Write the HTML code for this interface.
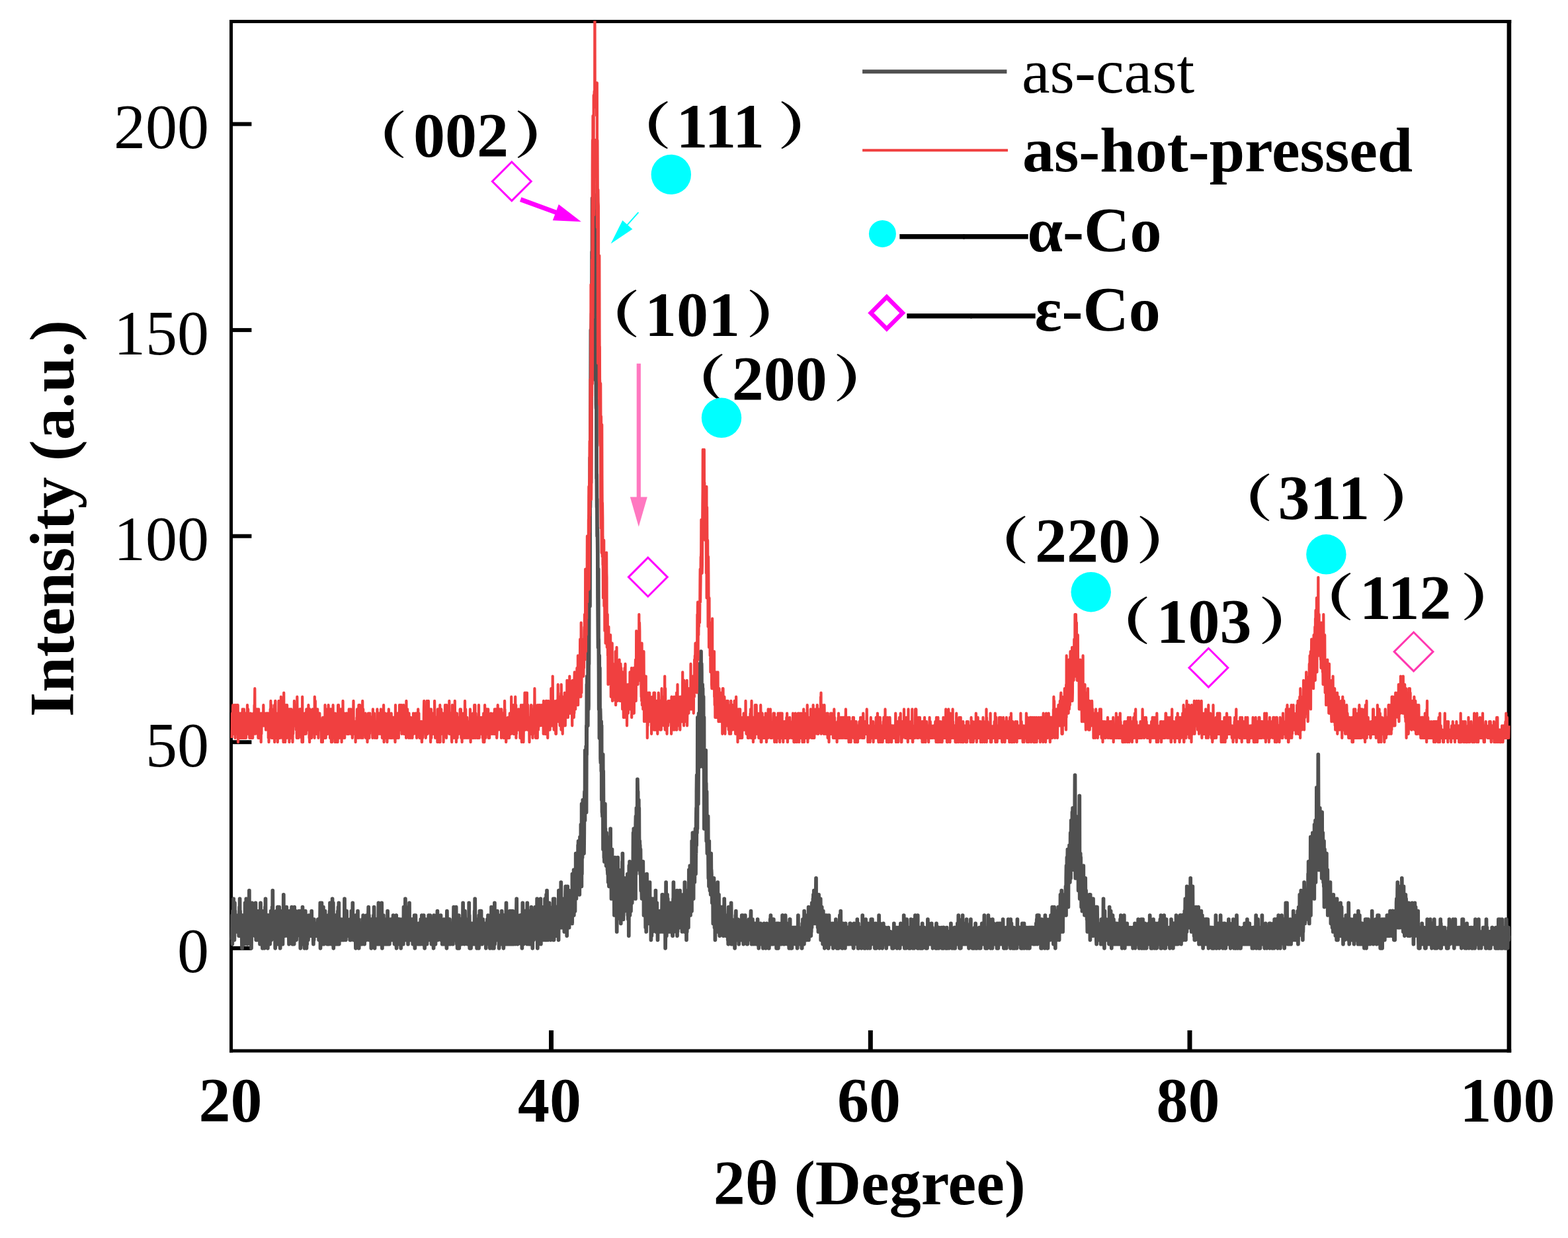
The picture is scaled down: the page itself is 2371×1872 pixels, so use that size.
<!DOCTYPE html>
<html lang="en"><head><meta charset="utf-8"><title>XRD patterns: as-cast and as-hot-pressed</title>
<style>html,body{margin:0;padding:0;background:#fff;overflow:hidden}svg{display:block;font-family:'Liberation Serif', 'Noto Serif CJK SC', serif;font-size:96px;fill:#000}</style></head><body>
<svg xmlns="http://www.w3.org/2000/svg" width="2371" height="1872" viewBox="0 0 2371 1872">
<rect x="0" y="0" width="2371" height="1872" fill="#fff"/>
<g id="axes" fill="#000">
<rect x="347.0" y="30.0" width="5.0" height="1561.5"/>
<rect x="2278.6" y="30.0" width="6.6" height="1561.5"/>
<rect x="347.0" y="30.0" width="1938.2" height="5.0"/>
<rect x="347.0" y="1586.5" width="1938.2" height="5.0"/>
<rect x="351.5" y="1430.8" width="28.9" height="6.0"/>
<rect x="351.5" y="1119.2" width="28.9" height="6.0"/>
<rect x="351.5" y="807.7" width="28.9" height="6.0"/>
<rect x="351.5" y="496.1" width="28.9" height="6.0"/>
<rect x="351.5" y="184.6" width="28.9" height="6.0"/>
<rect x="830.0" y="1558.0" width="7.0" height="29.0"/>
<rect x="1312.8" y="1558.0" width="7.0" height="29.0"/>
<rect x="1795.5" y="1558.0" width="7.0" height="29.0"/>
</g>
<g id="yticks" text-anchor="end">
<text x="316.0" y="1470.4">0</text>
<text x="316.0" y="1158.8">50</text>
<text x="316.0" y="847.3">100</text>
<text x="316.0" y="535.8">150</text>
<text x="316.0" y="224.2">200</text>
</g>
<g id="xticks" text-anchor="middle" font-weight="bold">
<text x="348.4" y="1696.4">20</text>
<text x="831.1" y="1696.4">40</text>
<text x="1313.9" y="1696.4">60</text>
<text x="1796.6" y="1696.4">80</text>
<text x="2279.4" y="1696.4">100</text>
</g>
<text x="1314.7" y="1821.0" text-anchor="middle" font-weight="bold">2θ (Degree)</text>
<text transform="translate(111.3 784.0) rotate(-90)" text-anchor="middle" font-weight="bold">Intensity (a.u.)</text>
<clipPath id="clip"><rect x="347.0" y="31.5" width="1938.2" height="1560.0"/></clipPath>
<g id="data" clip-path="url(#clip)" fill="none" stroke-linejoin="round" stroke-linecap="butt">
<polyline stroke="#505050" stroke-width="5.7" points="350.6,1421.3 350.8,1415.1 351,1384 351.3,1427.6 351.5,1396.4 351.8,1415.1 352,1377.7 352.2,1415.1 352.5,1396.4 352.7,1402.6 353,1408.9 353.2,1359 353.4,1408.9 353.7,1390.2 353.9,1377.7 354.2,1390.2 354.4,1421.3 354.7,1371.5 354.9,1365.3 355.1,1396.4 355.4,1377.7 355.6,1402.6 355.9,1408.9 356.1,1402.6 356.3,1396.4 356.6,1396.4 356.8,1390.2 357.1,1396.4 357.3,1408.9 357.5,1396.4 357.8,1390.2 358,1390.2 358.3,1402.6 358.5,1408.9 358.8,1396.4 359,1390.2 359.2,1396.4 359.5,1390.2 359.7,1396.4 360,1384 360.2,1402.6 360.4,1408.9 360.7,1408.9 360.9,1402.6 361.2,1415.1 361.4,1408.9 361.7,1415.1 361.9,1390.2 362.1,1371.5 362.4,1415.1 362.6,1359 362.9,1408.9 363.1,1377.7 363.3,1390.2 363.6,1408.9 363.8,1396.4 364.1,1384 364.3,1396.4 364.5,1396.4 364.8,1415.1 365,1390.2 365.3,1402.6 365.5,1390.2 365.8,1421.3 366,1433.8 366.2,1427.6 366.5,1402.6 366.7,1384 367,1408.9 367.2,1402.6 367.4,1390.2 367.7,1402.6 367.9,1408.9 368.2,1415.1 368.4,1408.9 368.7,1415.1 368.9,1396.4 369.1,1390.2 369.4,1427.6 369.6,1408.9 369.9,1402.6 370.1,1390.2 370.3,1415.1 370.6,1365.3 370.8,1390.2 371.1,1377.7 371.3,1396.4 371.5,1415.1 371.8,1408.9 372,1390.2 372.3,1359 372.5,1408.9 372.8,1421.3 373,1390.2 373.2,1402.6 373.5,1396.4 373.7,1390.2 374,1427.6 374.2,1396.4 374.4,1415.1 374.7,1421.3 374.9,1415.1 375.2,1402.6 375.4,1415.1 375.7,1384 375.9,1390.2 376.1,1396.4 376.4,1390.2 376.6,1390.2 376.9,1346.6 377.1,1415.1 377.3,1408.9 377.6,1377.7 377.8,1384 378.1,1421.3 378.3,1377.7 378.5,1415.1 378.8,1427.6 379,1408.9 379.3,1402.6 379.5,1408.9 379.8,1384 380,1433.8 380.2,1402.6 380.5,1415.1 380.7,1377.7 381,1408.9 381.2,1365.3 381.4,1402.6 381.7,1408.9 381.9,1402.6 382.2,1390.2 382.4,1390.2 382.7,1396.4 382.9,1402.6 383.1,1396.4 383.4,1396.4 383.6,1390.2 383.9,1390.2 384.1,1390.2 384.3,1371.5 384.6,1408.9 384.8,1390.2 385.1,1408.9 385.3,1396.4 385.5,1415.1 385.8,1408.9 386,1415.1 386.3,1396.4 386.5,1365.3 386.8,1402.6 387,1390.2 387.2,1421.3 387.5,1377.7 387.7,1384 388,1384 388.2,1415.1 388.4,1421.3 388.7,1421.3 388.9,1408.9 389.2,1402.6 389.4,1377.7 389.7,1396.4 389.9,1396.4 390.1,1390.2 390.4,1415.1 390.6,1415.1 390.9,1402.6 391.1,1408.9 391.3,1408.9 391.6,1415.1 391.8,1408.9 392.1,1396.4 392.3,1390.2 392.5,1421.3 392.8,1377.7 393,1427.6 393.3,1377.7 393.5,1421.3 393.8,1396.4 394,1365.3 394.2,1384 394.5,1421.3 394.7,1402.6 395,1396.4 395.2,1427.6 395.4,1396.4 395.7,1396.4 395.9,1396.4 396.2,1390.2 396.4,1390.2 396.7,1377.7 396.9,1433.8 397.1,1402.6 397.4,1415.1 397.6,1390.2 397.9,1396.4 398.1,1427.6 398.3,1390.2 398.6,1402.6 398.8,1415.1 399.1,1377.7 399.3,1408.9 399.5,1402.6 399.8,1396.4 400,1433.8 400.3,1421.3 400.5,1402.6 400.8,1421.3 401,1371.5 401.2,1408.9 401.5,1359 401.7,1408.9 402,1415.1 402.2,1415.1 402.4,1408.9 402.7,1408.9 402.9,1390.2 403.2,1415.1 403.4,1408.9 403.7,1396.4 403.9,1415.1 404.1,1390.2 404.4,1384 404.6,1396.4 404.9,1433.8 405.1,1402.6 405.3,1384 405.6,1408.9 405.8,1396.4 406.1,1384 406.3,1396.4 406.5,1402.6 406.8,1415.1 407,1396.4 407.3,1396.4 407.5,1384 407.8,1408.9 408,1402.6 408.2,1427.6 408.5,1421.3 408.7,1384 409,1402.6 409.2,1396.4 409.4,1415.1 409.7,1377.7 409.9,1390.2 410.2,1390.2 410.4,1421.3 410.7,1396.4 410.9,1402.6 411.1,1408.9 411.4,1415.1 411.6,1371.5 411.9,1408.9 412.1,1408.9 412.3,1346.6 412.6,1402.6 412.8,1408.9 413.1,1377.7 413.3,1390.2 413.5,1402.6 413.8,1415.1 414,1384 414.3,1396.4 414.5,1402.6 414.8,1384 415,1390.2 415.2,1390.2 415.5,1384 415.7,1390.2 416,1415.1 416.2,1433.8 416.4,1415.1 416.7,1384 416.9,1415.1 417.2,1384 417.4,1415.1 417.7,1421.3 417.9,1427.6 418.1,1377.7 418.4,1396.4 418.6,1408.9 418.9,1396.4 419.1,1402.6 419.3,1396.4 419.6,1427.6 419.8,1371.5 420.1,1421.3 420.3,1402.6 420.5,1371.5 420.8,1402.6 421,1415.1 421.3,1377.7 421.5,1408.9 421.8,1415.1 422,1390.2 422.2,1371.5 422.5,1408.9 422.7,1390.2 423,1408.9 423.2,1427.6 423.4,1427.6 423.7,1433.8 423.9,1415.1 424.2,1377.7 424.4,1384 424.7,1390.2 424.9,1408.9 425.1,1390.2 425.4,1415.1 425.6,1402.6 425.9,1408.9 426.1,1408.9 426.3,1408.9 426.6,1384 426.8,1408.9 427.1,1390.2 427.3,1402.6 427.5,1427.6 427.8,1396.4 428,1415.1 428.3,1390.2 428.5,1396.4 428.8,1352.8 429,1390.2 429.2,1384 429.5,1384 429.7,1415.1 430,1415.1 430.2,1402.6 430.4,1415.1 430.7,1396.4 430.9,1415.1 431.2,1402.6 431.4,1396.4 431.7,1408.9 431.9,1390.2 432.1,1390.2 432.4,1377.7 432.6,1384 432.9,1408.9 433.1,1408.9 433.3,1371.5 433.6,1396.4 433.8,1408.9 434.1,1390.2 434.3,1390.2 434.5,1415.1 434.8,1390.2 435,1408.9 435.3,1402.6 435.5,1390.2 435.8,1408.9 436,1415.1 436.2,1396.4 436.5,1390.2 436.7,1408.9 437,1427.6 437.2,1390.2 437.4,1415.1 437.7,1377.7 437.9,1384 438.2,1408.9 438.4,1396.4 438.7,1421.3 438.9,1384 439.1,1408.9 439.4,1390.2 439.6,1415.1 439.9,1384 440.1,1390.2 440.3,1408.9 440.6,1396.4 440.8,1396.4 441.1,1371.5 441.3,1402.6 441.5,1402.6 441.8,1402.6 442,1402.6 442.3,1427.6 442.5,1421.3 442.8,1421.3 443,1396.4 443.2,1384 443.5,1384 443.7,1408.9 444,1402.6 444.2,1396.4 444.4,1408.9 444.7,1427.6 444.9,1402.6 445.2,1371.5 445.4,1408.9 445.7,1396.4 445.9,1390.2 446.1,1421.3 446.4,1421.3 446.6,1408.9 446.9,1408.9 447.1,1377.7 447.3,1421.3 447.6,1384 447.8,1396.4 448.1,1421.3 448.3,1408.9 448.5,1408.9 448.8,1415.1 449,1415.1 449.3,1402.6 449.5,1396.4 449.8,1408.9 450,1402.6 450.2,1396.4 450.5,1402.6 450.7,1402.6 451,1390.2 451.2,1402.6 451.4,1402.6 451.7,1408.9 451.9,1377.7 452.2,1384 452.4,1408.9 452.7,1402.6 452.9,1384 453.1,1415.1 453.4,1402.6 453.6,1377.7 453.9,1396.4 454.1,1390.2 454.3,1433.8 454.6,1402.6 454.8,1421.3 455.1,1390.2 455.3,1408.9 455.5,1402.6 455.8,1421.3 456,1408.9 456.3,1396.4 456.5,1427.6 456.8,1421.3 457,1384 457.2,1415.1 457.5,1371.5 457.7,1390.2 458,1427.6 458.2,1396.4 458.4,1396.4 458.7,1402.6 458.9,1415.1 459.2,1384 459.4,1396.4 459.7,1408.9 459.9,1421.3 460.1,1415.1 460.4,1433.8 460.6,1402.6 460.9,1402.6 461.1,1384 461.3,1396.4 461.6,1408.9 461.8,1377.7 462.1,1396.4 462.3,1427.6 462.5,1396.4 462.8,1427.6 463,1415.1 463.3,1402.6 463.5,1433.8 463.8,1402.6 464,1415.1 464.2,1427.6 464.5,1408.9 464.7,1402.6 465,1415.1 465.2,1402.6 465.4,1408.9 465.7,1402.6 465.9,1421.3 466.2,1415.1 466.4,1402.6 466.7,1408.9 466.9,1408.9 467.1,1384 467.4,1402.6 467.6,1415.1 467.9,1408.9 468.1,1396.4 468.3,1402.6 468.6,1384 468.8,1408.9 469.1,1415.1 469.3,1402.6 469.5,1408.9 469.8,1402.6 470,1415.1 470.3,1384 470.5,1402.6 470.8,1415.1 471,1415.1 471.2,1377.7 471.5,1408.9 471.7,1390.2 472,1402.6 472.2,1415.1 472.4,1415.1 472.7,1408.9 472.9,1396.4 473.2,1390.2 473.4,1396.4 473.7,1421.3 473.9,1427.6 474.1,1408.9 474.4,1408.9 474.6,1421.3 474.9,1390.2 475.1,1415.1 475.3,1415.1 475.6,1402.6 475.8,1415.1 476.1,1396.4 476.3,1408.9 476.5,1402.6 476.8,1415.1 477,1402.6 477.3,1402.6 477.5,1415.1 477.8,1396.4 478,1408.9 478.2,1402.6 478.5,1402.6 478.7,1415.1 479,1408.9 479.2,1415.1 479.4,1402.6 479.7,1396.4 479.9,1402.6 480.2,1402.6 480.4,1402.6 480.7,1402.6 480.9,1390.2 481.1,1408.9 481.4,1415.1 481.6,1390.2 481.9,1402.6 482.1,1421.3 482.3,1415.1 482.6,1390.2 482.8,1402.6 483.1,1396.4 483.3,1402.6 483.5,1421.3 483.8,1415.1 484,1390.2 484.3,1365.3 484.5,1433.8 484.8,1384 485,1408.9 485.2,1408.9 485.5,1415.1 485.7,1415.1 486,1402.6 486.2,1408.9 486.4,1365.3 486.7,1396.4 486.9,1421.3 487.2,1427.6 487.4,1402.6 487.7,1427.6 487.9,1384 488.1,1396.4 488.4,1384 488.6,1390.2 488.9,1371.5 489.1,1390.2 489.3,1402.6 489.6,1427.6 489.8,1408.9 490.1,1384 490.3,1402.6 490.5,1402.6 490.8,1421.3 491,1396.4 491.3,1415.1 491.5,1377.7 491.8,1415.1 492,1415.1 492.2,1421.3 492.5,1408.9 492.7,1402.6 493,1396.4 493.2,1396.4 493.4,1390.2 493.7,1390.2 493.9,1415.1 494.2,1421.3 494.4,1415.1 494.7,1427.6 494.9,1408.9 495.1,1396.4 495.4,1396.4 495.6,1415.1 495.9,1390.2 496.1,1408.9 496.3,1384 496.6,1415.1 496.8,1421.3 497.1,1396.4 497.3,1415.1 497.5,1427.6 497.8,1384 498,1384 498.3,1390.2 498.5,1377.7 498.8,1415.1 499,1365.3 499.2,1390.2 499.5,1408.9 499.7,1408.9 500,1408.9 500.2,1396.4 500.4,1390.2 500.7,1384 500.9,1427.6 501.2,1396.4 501.4,1427.6 501.7,1390.2 501.9,1396.4 502.1,1396.4 502.4,1377.7 502.6,1359 502.9,1408.9 503.1,1390.2 503.3,1402.6 503.6,1415.1 503.8,1365.3 504.1,1415.1 504.3,1433.8 504.5,1408.9 504.8,1415.1 505,1427.6 505.3,1415.1 505.5,1384 505.8,1415.1 506,1390.2 506.2,1415.1 506.5,1421.3 506.7,1408.9 507,1390.2 507.2,1427.6 507.4,1402.6 507.7,1384 507.9,1408.9 508.2,1421.3 508.4,1415.1 508.7,1427.6 508.9,1427.6 509.1,1427.6 509.4,1396.4 509.6,1390.2 509.9,1402.6 510.1,1408.9 510.3,1427.6 510.6,1402.6 510.8,1377.7 511.1,1415.1 511.3,1402.6 511.5,1371.5 511.8,1421.3 512,1415.1 512.3,1365.3 512.5,1427.6 512.8,1427.6 513,1396.4 513.2,1415.1 513.5,1390.2 513.7,1415.1 514,1402.6 514.2,1402.6 514.4,1415.1 514.7,1390.2 514.9,1415.1 515.2,1402.6 515.4,1415.1 515.7,1408.9 515.9,1390.2 516.1,1408.9 516.4,1396.4 516.6,1396.4 516.9,1421.3 517.1,1415.1 517.3,1421.3 517.6,1396.4 517.8,1415.1 518.1,1390.2 518.3,1421.3 518.5,1402.6 518.8,1402.6 519,1402.6 519.3,1396.4 519.5,1408.9 519.8,1402.6 520,1402.6 520.2,1402.6 520.5,1421.3 520.7,1408.9 521,1359 521.2,1408.9 521.4,1396.4 521.7,1408.9 521.9,1384 522.2,1384 522.4,1415.1 522.7,1421.3 522.9,1421.3 523.1,1390.2 523.4,1402.6 523.6,1396.4 523.9,1408.9 524.1,1377.7 524.3,1402.6 524.6,1415.1 524.8,1396.4 525.1,1402.6 525.3,1390.2 525.5,1415.1 525.8,1402.6 526,1415.1 526.3,1408.9 526.5,1415.1 526.8,1396.4 527,1415.1 527.2,1396.4 527.5,1402.6 527.7,1402.6 528,1415.1 528.2,1415.1 528.4,1408.9 528.7,1415.1 528.9,1402.6 529.2,1421.3 529.4,1390.2 529.7,1402.6 529.9,1396.4 530.1,1415.1 530.4,1408.9 530.6,1421.3 530.9,1396.4 531.1,1408.9 531.3,1377.7 531.6,1408.9 531.8,1396.4 532.1,1384 532.3,1408.9 532.5,1384 532.8,1402.6 533,1402.6 533.3,1365.3 533.5,1408.9 533.8,1415.1 534,1415.1 534.2,1396.4 534.5,1421.3 534.7,1408.9 535,1396.4 535.2,1415.1 535.4,1402.6 535.7,1408.9 535.9,1415.1 536.2,1421.3 536.4,1408.9 536.7,1421.3 536.9,1396.4 537.1,1396.4 537.4,1408.9 537.6,1408.9 537.9,1433.8 538.1,1384 538.3,1402.6 538.6,1402.6 538.8,1415.1 539.1,1427.6 539.3,1396.4 539.5,1408.9 539.8,1402.6 540,1421.3 540.3,1402.6 540.5,1421.3 540.8,1408.9 541,1377.7 541.2,1415.1 541.5,1415.1 541.7,1396.4 542,1415.1 542.2,1390.2 542.4,1427.6 542.7,1433.8 542.9,1396.4 543.2,1396.4 543.4,1421.3 543.7,1415.1 543.9,1427.6 544.1,1415.1 544.4,1421.3 544.6,1396.4 544.9,1415.1 545.1,1415.1 545.3,1408.9 545.6,1396.4 545.8,1415.1 546.1,1396.4 546.3,1427.6 546.5,1421.3 546.8,1427.6 547,1415.1 547.3,1408.9 547.5,1427.6 547.8,1415.1 548,1390.2 548.2,1415.1 548.5,1415.1 548.7,1408.9 549,1402.6 549.2,1384 549.4,1390.2 549.7,1408.9 549.9,1408.9 550.2,1408.9 550.4,1390.2 550.6,1421.3 550.9,1408.9 551.1,1427.6 551.4,1408.9 551.6,1408.9 551.9,1402.6 552.1,1396.4 552.3,1408.9 552.6,1408.9 552.8,1402.6 553.1,1402.6 553.3,1408.9 553.5,1408.9 553.8,1390.2 554,1421.3 554.3,1384 554.5,1390.2 554.8,1390.2 555,1402.6 555.2,1415.1 555.5,1402.6 555.7,1408.9 556,1415.1 556.2,1390.2 556.4,1408.9 556.7,1396.4 556.9,1384 557.2,1371.5 557.4,1390.2 557.6,1396.4 557.9,1384 558.1,1421.3 558.4,1402.6 558.6,1415.1 558.9,1408.9 559.1,1396.4 559.3,1402.6 559.6,1396.4 559.8,1415.1 560.1,1402.6 560.3,1396.4 560.5,1390.2 560.8,1402.6 561,1408.9 561.3,1433.8 561.5,1402.6 561.8,1390.2 562,1427.6 562.2,1408.9 562.5,1415.1 562.7,1427.6 563,1402.6 563.2,1408.9 563.4,1408.9 563.7,1402.6 563.9,1408.9 564.2,1396.4 564.4,1402.6 564.6,1415.1 564.9,1384 565.1,1427.6 565.4,1421.3 565.6,1371.5 565.9,1408.9 566.1,1396.4 566.3,1396.4 566.6,1433.8 566.8,1402.6 567.1,1415.1 567.3,1415.1 567.5,1415.1 567.8,1408.9 568,1415.1 568.3,1396.4 568.5,1415.1 568.8,1390.2 569,1402.6 569.2,1396.4 569.5,1427.6 569.7,1421.3 570,1408.9 570.2,1396.4 570.4,1402.6 570.7,1421.3 570.9,1427.6 571.2,1402.6 571.4,1390.2 571.6,1408.9 571.9,1421.3 572.1,1415.1 572.4,1365.3 572.6,1408.9 572.9,1402.6 573.1,1427.6 573.3,1408.9 573.6,1396.4 573.8,1421.3 574.1,1421.3 574.3,1415.1 574.5,1402.6 574.8,1408.9 575,1415.1 575.3,1371.5 575.5,1421.3 575.8,1427.6 576,1415.1 576.2,1415.1 576.5,1408.9 576.7,1402.6 577,1390.2 577.2,1365.3 577.4,1396.4 577.7,1396.4 577.9,1433.8 578.2,1384 578.4,1396.4 578.6,1421.3 578.9,1402.6 579.1,1408.9 579.4,1427.6 579.6,1390.2 579.9,1384 580.1,1396.4 580.3,1408.9 580.6,1415.1 580.8,1390.2 581.1,1402.6 581.3,1427.6 581.5,1415.1 581.8,1408.9 582,1396.4 582.3,1390.2 582.5,1421.3 582.8,1402.6 583,1408.9 583.2,1421.3 583.5,1427.6 583.7,1421.3 584,1396.4 584.2,1408.9 584.4,1415.1 584.7,1408.9 584.9,1427.6 585.2,1415.1 585.4,1396.4 585.6,1427.6 585.9,1427.6 586.1,1377.7 586.4,1402.6 586.6,1421.3 586.9,1396.4 587.1,1402.6 587.3,1427.6 587.6,1427.6 587.8,1427.6 588.1,1396.4 588.3,1390.2 588.5,1427.6 588.8,1427.6 589,1421.3 589.3,1408.9 589.5,1396.4 589.8,1415.1 590,1396.4 590.2,1402.6 590.5,1402.6 590.7,1408.9 591,1390.2 591.2,1390.2 591.4,1421.3 591.7,1415.1 591.9,1396.4 592.2,1390.2 592.4,1421.3 592.6,1402.6 592.9,1390.2 593.1,1402.6 593.4,1421.3 593.6,1415.1 593.9,1396.4 594.1,1421.3 594.3,1415.1 594.6,1384 594.8,1408.9 595.1,1415.1 595.3,1408.9 595.5,1402.6 595.8,1421.3 596,1421.3 596.3,1402.6 596.5,1427.6 596.8,1396.4 597,1427.6 597.2,1408.9 597.5,1402.6 597.7,1427.6 598,1396.4 598.2,1427.6 598.4,1421.3 598.7,1421.3 598.9,1408.9 599.2,1384 599.4,1427.6 599.6,1433.8 599.9,1415.1 600.1,1408.9 600.4,1421.3 600.6,1396.4 600.9,1396.4 601.1,1408.9 601.3,1408.9 601.6,1402.6 601.8,1427.6 602.1,1390.2 602.3,1408.9 602.5,1396.4 602.8,1390.2 603,1408.9 603.3,1390.2 603.5,1427.6 603.8,1415.1 604,1408.9 604.2,1421.3 604.5,1396.4 604.7,1390.2 605,1408.9 605.2,1408.9 605.4,1415.1 605.7,1408.9 605.9,1408.9 606.2,1433.8 606.4,1402.6 606.6,1402.6 606.9,1396.4 607.1,1408.9 607.4,1421.3 607.6,1390.2 607.9,1408.9 608.1,1408.9 608.3,1402.6 608.6,1415.1 608.8,1402.6 609.1,1415.1 609.3,1427.6 609.5,1408.9 609.8,1427.6 610,1408.9 610.3,1396.4 610.5,1371.5 610.8,1402.6 611,1402.6 611.2,1396.4 611.5,1408.9 611.7,1396.4 612,1408.9 612.2,1408.9 612.4,1402.6 612.7,1415.1 612.9,1359 613.2,1384 613.4,1421.3 613.6,1408.9 613.9,1390.2 614.1,1371.5 614.4,1402.6 614.6,1415.1 614.9,1408.9 615.1,1421.3 615.3,1415.1 615.6,1390.2 615.8,1402.6 616.1,1408.9 616.3,1396.4 616.5,1421.3 616.8,1415.1 617,1427.6 617.3,1396.4 617.5,1408.9 617.8,1402.6 618,1421.3 618.2,1390.2 618.5,1408.9 618.7,1396.4 619,1365.3 619.2,1408.9 619.4,1396.4 619.7,1415.1 619.9,1396.4 620.2,1415.1 620.4,1421.3 620.6,1421.3 620.9,1408.9 621.1,1421.3 621.4,1396.4 621.6,1396.4 621.9,1421.3 622.1,1421.3 622.3,1421.3 622.6,1390.2 622.8,1408.9 623.1,1408.9 623.3,1421.3 623.5,1408.9 623.8,1390.2 624,1415.1 624.3,1427.6 624.5,1408.9 624.8,1390.2 625,1415.1 625.2,1427.6 625.5,1402.6 625.7,1415.1 626,1415.1 626.2,1408.9 626.4,1415.1 626.7,1384 626.9,1415.1 627.2,1427.6 627.4,1433.8 627.6,1421.3 627.9,1427.6 628.1,1427.6 628.4,1384 628.6,1396.4 628.9,1415.1 629.1,1415.1 629.3,1408.9 629.6,1421.3 629.8,1396.4 630.1,1408.9 630.3,1415.1 630.5,1402.6 630.8,1408.9 631,1396.4 631.3,1421.3 631.5,1415.1 631.8,1427.6 632,1402.6 632.2,1415.1 632.5,1421.3 632.7,1427.6 633,1415.1 633.2,1427.6 633.4,1396.4 633.7,1408.9 633.9,1396.4 634.2,1408.9 634.4,1421.3 634.6,1415.1 634.9,1408.9 635.1,1402.6 635.4,1415.1 635.6,1396.4 635.9,1427.6 636.1,1427.6 636.3,1390.2 636.6,1415.1 636.8,1415.1 637.1,1408.9 637.3,1396.4 637.5,1415.1 637.8,1384 638,1390.2 638.3,1408.9 638.5,1421.3 638.8,1408.9 639,1421.3 639.2,1396.4 639.5,1427.6 639.7,1427.6 640,1402.6 640.2,1390.2 640.4,1402.6 640.7,1384 640.9,1415.1 641.2,1402.6 641.4,1408.9 641.6,1415.1 641.9,1415.1 642.1,1433.8 642.4,1396.4 642.6,1402.6 642.9,1415.1 643.1,1402.6 643.3,1402.6 643.6,1390.2 643.8,1396.4 644.1,1415.1 644.3,1415.1 644.5,1421.3 644.8,1421.3 645,1427.6 645.3,1421.3 645.5,1427.6 645.8,1415.1 646,1408.9 646.2,1415.1 646.5,1415.1 646.7,1415.1 647,1408.9 647.2,1390.2 647.4,1408.9 647.7,1408.9 647.9,1408.9 648.2,1384 648.4,1421.3 648.6,1408.9 648.9,1402.6 649.1,1408.9 649.4,1390.2 649.6,1408.9 649.9,1402.6 650.1,1415.1 650.3,1384 650.6,1408.9 650.8,1408.9 651.1,1408.9 651.3,1421.3 651.5,1390.2 651.8,1396.4 652,1415.1 652.3,1408.9 652.5,1427.6 652.8,1421.3 653,1421.3 653.2,1427.6 653.5,1408.9 653.7,1402.6 654,1408.9 654.2,1427.6 654.4,1408.9 654.7,1408.9 654.9,1415.1 655.2,1402.6 655.4,1427.6 655.6,1433.8 655.9,1396.4 656.1,1384 656.4,1421.3 656.6,1415.1 656.9,1415.1 657.1,1415.1 657.3,1421.3 657.6,1396.4 657.8,1415.1 658.1,1402.6 658.3,1427.6 658.5,1427.6 658.8,1408.9 659,1402.6 659.3,1396.4 659.5,1402.6 659.8,1402.6 660,1396.4 660.2,1421.3 660.5,1396.4 660.7,1415.1 661,1402.6 661.2,1390.2 661.4,1377.7 661.7,1402.6 661.9,1415.1 662.2,1415.1 662.4,1421.3 662.6,1408.9 662.9,1402.6 663.1,1402.6 663.4,1408.9 663.6,1408.9 663.9,1396.4 664.1,1402.6 664.3,1408.9 664.6,1415.1 664.8,1402.6 665.1,1408.9 665.3,1390.2 665.5,1415.1 665.8,1408.9 666,1408.9 666.3,1408.9 666.5,1384 666.8,1421.3 667,1421.3 667.2,1421.3 667.5,1402.6 667.7,1408.9 668,1408.9 668.2,1408.9 668.4,1396.4 668.7,1427.6 668.9,1402.6 669.2,1408.9 669.4,1415.1 669.6,1421.3 669.9,1408.9 670.1,1415.1 670.4,1427.6 670.6,1421.3 670.9,1427.6 671.1,1402.6 671.3,1390.2 671.6,1396.4 671.8,1427.6 672.1,1427.6 672.3,1421.3 672.5,1396.4 672.8,1421.3 673,1421.3 673.3,1415.1 673.5,1396.4 673.8,1396.4 674,1402.6 674.2,1390.2 674.5,1408.9 674.7,1390.2 675,1402.6 675.2,1415.1 675.4,1433.8 675.7,1390.2 675.9,1377.7 676.2,1402.6 676.4,1415.1 676.6,1427.6 676.9,1402.6 677.1,1415.1 677.4,1415.1 677.6,1415.1 677.9,1427.6 678.1,1421.3 678.3,1408.9 678.6,1415.1 678.8,1427.6 679.1,1390.2 679.3,1396.4 679.5,1427.6 679.8,1415.1 680,1390.2 680.3,1402.6 680.5,1402.6 680.8,1408.9 681,1427.6 681.2,1402.6 681.5,1427.6 681.7,1402.6 682,1402.6 682.2,1415.1 682.4,1421.3 682.7,1408.9 682.9,1402.6 683.2,1396.4 683.4,1421.3 683.6,1421.3 683.9,1408.9 684.1,1396.4 684.4,1408.9 684.6,1408.9 684.9,1427.6 685.1,1421.3 685.3,1408.9 685.6,1415.1 685.8,1396.4 686.1,1371.5 686.3,1396.4 686.5,1402.6 686.8,1408.9 687,1396.4 687.3,1415.1 687.5,1408.9 687.8,1421.3 688,1408.9 688.2,1408.9 688.5,1402.6 688.7,1402.6 689,1415.1 689.2,1415.1 689.4,1377.7 689.7,1371.5 689.9,1402.6 690.2,1421.3 690.4,1415.1 690.6,1402.6 690.9,1427.6 691.1,1390.2 691.4,1415.1 691.6,1433.8 691.9,1402.6 692.1,1396.4 692.3,1402.6 692.6,1433.8 692.8,1427.6 693.1,1408.9 693.3,1415.1 693.5,1415.1 693.8,1384 694,1421.3 694.3,1433.8 694.5,1396.4 694.8,1427.6 695,1402.6 695.2,1427.6 695.5,1421.3 695.7,1396.4 696,1390.2 696.2,1415.1 696.4,1408.9 696.7,1421.3 696.9,1390.2 697.2,1402.6 697.4,1396.4 697.6,1408.9 697.9,1408.9 698.1,1427.6 698.4,1415.1 698.6,1402.6 698.9,1390.2 699.1,1415.1 699.3,1402.6 699.6,1402.6 699.8,1402.6 700.1,1365.3 700.3,1408.9 700.5,1415.1 700.8,1415.1 701,1408.9 701.3,1415.1 701.5,1415.1 701.8,1402.6 702,1421.3 702.2,1427.6 702.5,1427.6 702.7,1402.6 703,1377.7 703.2,1390.2 703.4,1415.1 703.7,1408.9 703.9,1390.2 704.2,1421.3 704.4,1421.3 704.6,1402.6 704.9,1415.1 705.1,1390.2 705.4,1408.9 705.6,1402.6 705.9,1408.9 706.1,1408.9 706.3,1415.1 706.6,1427.6 706.8,1408.9 707.1,1415.1 707.3,1408.9 707.5,1390.2 707.8,1427.6 708,1408.9 708.3,1396.4 708.5,1415.1 708.8,1408.9 709,1421.3 709.2,1365.3 709.5,1421.3 709.7,1384 710,1408.9 710.2,1433.8 710.4,1427.6 710.7,1421.3 710.9,1415.1 711.2,1408.9 711.4,1402.6 711.6,1415.1 711.9,1415.1 712.1,1433.8 712.4,1402.6 712.6,1408.9 712.9,1408.9 713.1,1421.3 713.3,1415.1 713.6,1396.4 713.8,1427.6 714.1,1408.9 714.3,1408.9 714.5,1421.3 714.8,1402.6 715,1427.6 715.3,1415.1 715.5,1408.9 715.8,1408.9 716,1402.6 716.2,1408.9 716.5,1402.6 716.7,1415.1 717,1427.6 717.2,1427.6 717.4,1402.6 717.7,1377.7 717.9,1415.1 718.2,1359 718.4,1377.7 718.6,1421.3 718.9,1390.2 719.1,1396.4 719.4,1415.1 719.6,1402.6 719.9,1408.9 720.1,1421.3 720.3,1421.3 720.6,1415.1 720.8,1396.4 721.1,1433.8 721.3,1408.9 721.5,1421.3 721.8,1421.3 722,1427.6 722.3,1396.4 722.5,1390.2 722.8,1396.4 723,1415.1 723.2,1396.4 723.5,1396.4 723.7,1396.4 724,1433.8 724.2,1415.1 724.4,1384 724.7,1408.9 724.9,1390.2 725.2,1402.6 725.4,1377.7 725.6,1427.6 725.9,1427.6 726.1,1408.9 726.4,1421.3 726.6,1377.7 726.9,1421.3 727.1,1408.9 727.3,1408.9 727.6,1377.7 727.8,1408.9 728.1,1402.6 728.3,1408.9 728.5,1427.6 728.8,1421.3 729,1427.6 729.3,1421.3 729.5,1415.1 729.8,1390.2 730,1408.9 730.2,1390.2 730.5,1415.1 730.7,1396.4 731,1402.6 731.2,1408.9 731.4,1396.4 731.7,1421.3 731.9,1396.4 732.2,1408.9 732.4,1402.6 732.6,1415.1 732.9,1408.9 733.1,1396.4 733.4,1408.9 733.6,1408.9 733.9,1402.6 734.1,1408.9 734.3,1408.9 734.6,1421.3 734.8,1433.8 735.1,1415.1 735.3,1408.9 735.5,1421.3 735.8,1402.6 736,1421.3 736.3,1408.9 736.5,1427.6 736.8,1390.2 737,1408.9 737.2,1415.1 737.5,1402.6 737.7,1421.3 738,1384 738.2,1402.6 738.4,1415.1 738.7,1390.2 738.9,1396.4 739.2,1402.6 739.4,1402.6 739.6,1421.3 739.9,1408.9 740.1,1402.6 740.4,1396.4 740.6,1427.6 740.9,1433.8 741.1,1427.6 741.3,1415.1 741.6,1390.2 741.8,1390.2 742.1,1415.1 742.3,1390.2 742.5,1384 742.8,1408.9 743,1371.5 743.3,1427.6 743.5,1396.4 743.7,1408.9 744,1415.1 744.2,1421.3 744.5,1421.3 744.7,1433.8 745,1421.3 745.2,1415.1 745.4,1390.2 745.7,1396.4 745.9,1415.1 746.2,1402.6 746.4,1415.1 746.6,1402.6 746.9,1433.8 747.1,1402.6 747.4,1384 747.6,1415.1 747.9,1365.3 748.1,1427.6 748.3,1408.9 748.6,1396.4 748.8,1415.1 749.1,1396.4 749.3,1415.1 749.5,1402.6 749.8,1421.3 750,1396.4 750.3,1415.1 750.5,1390.2 750.7,1408.9 751,1421.3 751.2,1421.3 751.5,1402.6 751.7,1390.2 752,1377.7 752.2,1408.9 752.4,1408.9 752.7,1415.1 752.9,1421.3 753.2,1390.2 753.4,1408.9 753.6,1421.3 753.9,1396.4 754.1,1384 754.4,1415.1 754.6,1433.8 754.9,1402.6 755.1,1408.9 755.3,1402.6 755.6,1396.4 755.8,1421.3 756.1,1408.9 756.3,1408.9 756.5,1408.9 756.8,1396.4 757,1402.6 757.3,1408.9 757.5,1402.6 757.7,1427.6 758,1415.1 758.2,1384 758.5,1396.4 758.7,1377.7 759,1390.2 759.2,1402.6 759.4,1427.6 759.7,1384 759.9,1402.6 760.2,1415.1 760.4,1421.3 760.6,1384 760.9,1396.4 761.1,1390.2 761.4,1433.8 761.6,1396.4 761.9,1384 762.1,1421.3 762.3,1408.9 762.6,1415.1 762.8,1390.2 763.1,1396.4 763.3,1421.3 763.5,1390.2 763.8,1390.2 764,1421.3 764.3,1402.6 764.5,1402.6 764.7,1396.4 765,1427.6 765.2,1390.2 765.5,1365.3 765.7,1384 766,1427.6 766.2,1408.9 766.4,1421.3 766.7,1427.6 766.9,1408.9 767.2,1402.6 767.4,1421.3 767.6,1408.9 767.9,1415.1 768.1,1421.3 768.4,1408.9 768.6,1427.6 768.9,1402.6 769.1,1390.2 769.3,1427.6 769.6,1408.9 769.8,1402.6 770.1,1427.6 770.3,1408.9 770.5,1402.6 770.8,1402.6 771,1377.7 771.3,1415.1 771.5,1415.1 771.7,1402.6 772,1384 772.2,1384 772.5,1427.6 772.7,1390.2 773,1377.7 773.2,1415.1 773.4,1408.9 773.7,1415.1 773.9,1390.2 774.2,1427.6 774.4,1384 774.6,1390.2 774.9,1415.1 775.1,1421.3 775.4,1377.7 775.6,1402.6 775.9,1402.6 776.1,1384 776.3,1396.4 776.6,1415.1 776.8,1427.6 777.1,1402.6 777.3,1415.1 777.5,1415.1 777.8,1390.2 778,1421.3 778.3,1396.4 778.5,1415.1 778.7,1408.9 779,1415.1 779.2,1421.3 779.5,1427.6 779.7,1384 780,1415.1 780.2,1396.4 780.4,1408.9 780.7,1396.4 780.9,1377.7 781.2,1359 781.4,1402.6 781.6,1402.6 781.9,1415.1 782.1,1402.6 782.4,1390.2 782.6,1402.6 782.9,1427.6 783.1,1402.6 783.3,1396.4 783.6,1396.4 783.8,1408.9 784.1,1402.6 784.3,1402.6 784.5,1408.9 784.8,1408.9 785,1415.1 785.3,1421.3 785.5,1402.6 785.7,1402.6 786,1415.1 786.2,1384 786.5,1390.2 786.7,1396.4 787,1396.4 787.2,1384 787.4,1402.6 787.7,1408.9 787.9,1384 788.2,1427.6 788.4,1396.4 788.6,1421.3 788.9,1408.9 789.1,1408.9 789.4,1433.8 789.6,1396.4 789.9,1421.3 790.1,1408.9 790.3,1365.3 790.6,1384 790.8,1408.9 791.1,1377.7 791.3,1396.4 791.5,1390.2 791.8,1427.6 792,1396.4 792.3,1415.1 792.5,1390.2 792.7,1421.3 793,1377.7 793.2,1402.6 793.5,1390.2 793.7,1396.4 794,1377.7 794.2,1415.1 794.4,1402.6 794.7,1390.2 794.9,1408.9 795.2,1408.9 795.4,1415.1 795.6,1415.1 795.9,1396.4 796.1,1377.7 796.4,1402.6 796.6,1377.7 796.9,1390.2 797.1,1427.6 797.3,1365.3 797.6,1415.1 797.8,1396.4 798.1,1377.7 798.3,1377.7 798.5,1390.2 798.8,1396.4 799,1390.2 799.3,1396.4 799.5,1421.3 799.7,1427.6 800,1408.9 800.2,1408.9 800.5,1402.6 800.7,1415.1 801,1377.7 801.2,1408.9 801.4,1390.2 801.7,1427.6 801.9,1402.6 802.2,1396.4 802.4,1415.1 802.6,1408.9 802.9,1402.6 803.1,1390.2 803.4,1371.5 803.6,1396.4 803.9,1421.3 804.1,1377.7 804.3,1402.6 804.6,1396.4 804.8,1408.9 805.1,1377.7 805.3,1433.8 805.5,1415.1 805.8,1415.1 806,1384 806.3,1402.6 806.5,1396.4 806.7,1421.3 807,1421.3 807.2,1408.9 807.5,1408.9 807.7,1402.6 808,1408.9 808.2,1402.6 808.4,1402.6 808.7,1384 808.9,1396.4 809.2,1371.5 809.4,1371.5 809.6,1415.1 809.9,1390.2 810.1,1402.6 810.4,1384 810.6,1408.9 810.9,1377.7 811.1,1408.9 811.3,1408.9 811.6,1402.6 811.8,1402.6 812.1,1359 812.3,1408.9 812.5,1390.2 812.8,1433.8 813,1427.6 813.3,1427.6 813.5,1384 813.7,1384 814,1415.1 814.2,1396.4 814.5,1402.6 814.7,1402.6 815,1396.4 815.2,1408.9 815.4,1421.3 815.7,1396.4 815.9,1421.3 816.2,1390.2 816.4,1390.2 816.6,1408.9 816.9,1402.6 817.1,1384 817.4,1359 817.6,1415.1 817.9,1427.6 818.1,1377.7 818.3,1415.1 818.6,1402.6 818.8,1396.4 819.1,1408.9 819.3,1377.7 819.5,1371.5 819.8,1377.7 820,1371.5 820.3,1390.2 820.5,1390.2 820.7,1396.4 821,1396.4 821.2,1390.2 821.5,1415.1 821.7,1371.5 822,1371.5 822.2,1377.7 822.4,1421.3 822.7,1377.7 822.9,1408.9 823.2,1402.6 823.4,1408.9 823.6,1408.9 823.9,1402.6 824.1,1359 824.4,1390.2 824.6,1402.6 824.9,1421.3 825.1,1371.5 825.3,1377.7 825.6,1402.6 825.8,1402.6 826.1,1352.8 826.3,1421.3 826.5,1421.3 826.8,1408.9 827,1346.6 827.3,1377.7 827.5,1390.2 827.7,1396.4 828,1377.7 828.2,1415.1 828.5,1402.6 828.7,1421.3 829,1384 829.2,1371.5 829.4,1396.4 829.7,1415.1 829.9,1371.5 830.2,1390.2 830.4,1402.6 830.6,1365.3 830.9,1396.4 831.1,1415.1 831.4,1371.5 831.6,1377.7 831.9,1415.1 832.1,1390.2 832.3,1384 832.6,1421.3 832.8,1415.1 833.1,1390.2 833.3,1396.4 833.5,1408.9 833.8,1396.4 834,1396.4 834.3,1396.4 834.5,1377.7 834.7,1396.4 835,1377.7 835.2,1408.9 835.5,1390.2 835.7,1396.4 836,1402.6 836.2,1402.6 836.4,1408.9 836.7,1359 836.9,1421.3 837.2,1408.9 837.4,1377.7 837.6,1421.3 837.9,1396.4 838.1,1415.1 838.4,1377.7 838.6,1359 838.9,1408.9 839.1,1390.2 839.3,1384 839.6,1390.2 839.8,1377.7 840.1,1415.1 840.3,1402.6 840.5,1415.1 840.8,1415.1 841,1415.1 841.3,1384 841.5,1396.4 841.7,1371.5 842,1384 842.2,1384 842.5,1402.6 842.7,1384 843,1402.6 843.2,1396.4 843.4,1402.6 843.7,1390.2 843.9,1390.2 844.2,1390.2 844.4,1384 844.6,1421.3 844.9,1346.6 845.1,1396.4 845.4,1352.8 845.6,1390.2 845.9,1352.8 846.1,1396.4 846.3,1396.4 846.6,1371.5 846.8,1377.7 847.1,1396.4 847.3,1396.4 847.5,1384 847.8,1384 848,1390.2 848.3,1334.1 848.5,1365.3 848.7,1371.5 849,1402.6 849.2,1377.7 849.5,1377.7 849.7,1377.7 850,1371.5 850.2,1377.7 850.4,1365.3 850.7,1377.7 850.9,1402.6 851.2,1371.5 851.4,1390.2 851.6,1396.4 851.9,1377.7 852.1,1371.5 852.4,1384 852.6,1359 852.9,1359 853.1,1377.7 853.3,1408.9 853.6,1371.5 853.8,1371.5 854.1,1377.7 854.3,1402.6 854.5,1365.3 854.8,1384 855,1352.8 855.3,1340.3 855.5,1365.3 855.7,1408.9 856,1359 856.2,1359 856.5,1359 856.7,1377.7 857,1371.5 857.2,1415.1 857.4,1365.3 857.7,1377.7 857.9,1377.7 858.2,1340.3 858.4,1390.2 858.6,1377.7 858.9,1384 859.1,1359 859.4,1365.3 859.6,1377.7 859.9,1371.5 860.1,1352.8 860.3,1346.6 860.6,1402.6 860.8,1390.2 861.1,1352.8 861.3,1384 861.5,1377.7 861.8,1396.4 862,1396.4 862.3,1352.8 862.5,1359 862.7,1359 863,1371.5 863.2,1359 863.5,1390.2 863.7,1359 864,1377.7 864.2,1390.2 864.4,1352.8 864.7,1346.6 864.9,1371.5 865.2,1396.4 865.4,1321.6 865.6,1359 865.9,1346.6 866.1,1334.1 866.4,1352.8 866.6,1352.8 866.9,1377.7 867.1,1340.3 867.3,1384 867.6,1315.4 867.8,1384 868.1,1365.3 868.3,1352.8 868.5,1371.5 868.8,1321.6 869,1340.3 869.3,1352.8 869.5,1377.7 869.7,1334.1 870,1352.8 870.2,1352.8 870.5,1359 870.7,1290.5 871,1334.1 871.2,1346.6 871.4,1359 871.7,1346.6 871.9,1346.6 872.2,1309.2 872.4,1315.4 872.6,1302.9 872.9,1346.6 873.1,1327.9 873.4,1327.9 873.6,1315.4 873.9,1346.6 874.1,1278 874.3,1290.5 874.6,1271.8 874.8,1315.4 875.1,1327.9 875.3,1309.2 875.5,1327.9 875.8,1321.6 876,1271.8 876.3,1352.8 876.5,1290.5 876.7,1340.3 877,1265.6 877.2,1321.6 877.5,1315.4 877.7,1315.4 878,1321.6 878.2,1302.9 878.4,1246.9 878.7,1265.6 878.9,1271.8 879.2,1290.5 879.4,1340.3 879.6,1215.7 879.9,1321.6 880.1,1265.6 880.4,1296.7 880.6,1296.7 880.9,1265.6 881.1,1284.3 881.3,1209.5 881.6,1259.3 881.8,1228.2 882.1,1228.2 882.3,1234.4 882.5,1221.9 882.8,1234.4 883,1290.5 883.3,1259.3 883.5,1209.5 883.7,1209.5 884,1197 884.2,1209.5 884.5,1240.6 884.7,1134.7 885,1203.3 885.2,1140.9 885.4,1197 885.7,1165.9 885.9,1228.2 886.2,1128.5 886.4,1178.3 886.6,1228.2 886.9,1097.3 887.1,1140.9 887.4,1035 887.6,1066.2 887.9,1022.6 888.1,1022.6 888.3,1035 888.6,1035 888.8,1097.3 889.1,1028.8 889.3,935.3 889.5,1016.3 889.8,1072.4 890,1066.2 890.3,841.9 890.5,1003.9 890.7,929.1 891,854.3 891.2,779.5 891.5,829.4 891.7,748.4 892,916.6 892.2,692.3 892.4,767.1 892.7,742.2 892.9,642.5 893.2,580.2 893.4,499.1 893.6,729.7 893.9,648.7 894.1,499.1 894.4,486.7 894.6,474.2 894.9,480.5 895.1,380.8 895.3,542.8 895.6,299.8 895.8,324.7 896.1,355.8 896.3,299.8 896.5,318.5 896.8,306 897,306 897.3,293.5 897.5,281.1 897.7,349.6 898,293.5 898.2,387 898.5,318.5 898.7,368.3 899,343.4 899.2,343.4 899.4,399.5 899.7,405.7 899.9,573.9 900.2,393.2 900.4,411.9 900.6,468 900.9,530.3 901.1,536.5 901.4,611.3 901.6,617.5 901.9,605.1 902.1,723.5 902.3,717.2 902.6,767.1 902.8,754.6 903.1,810.7 903.3,798.2 903.5,804.5 903.8,835.6 904,904.2 904.3,947.8 904.5,978.9 904.7,860.5 905,966.5 905.2,966.5 905.5,1016.3 905.7,1072.4 906,1035 906.2,991.4 906.4,1116 906.7,1047.5 906.9,1010.1 907.2,1109.8 907.4,1072.4 907.6,1072.4 907.9,1084.9 908.1,1147.2 908.4,1153.4 908.6,1097.3 908.9,1147.2 909.1,1091.1 909.3,1165.9 909.6,1097.3 909.8,1209.5 910.1,1172.1 910.3,1184.6 910.5,1228.2 910.8,1228.2 911,1234.4 911.3,1184.6 911.5,1172.1 911.7,1140.9 912,1284.3 912.2,1165.9 912.5,1215.7 912.7,1278 913,1278 913.2,1265.6 913.4,1296.7 913.7,1271.8 913.9,1302.9 914.2,1278 914.4,1265.6 914.6,1271.8 914.9,1215.7 915.1,1284.3 915.4,1253.1 915.6,1290.5 915.9,1278 916.1,1284.3 916.3,1290.5 916.6,1309.2 916.8,1296.7 917.1,1259.3 917.3,1302.9 917.5,1302.9 917.8,1302.9 918,1271.8 918.3,1284.3 918.5,1315.4 918.7,1315.4 919,1321.6 919.2,1302.9 919.5,1309.2 919.7,1334.1 920,1290.5 920.2,1302.9 920.4,1315.4 920.7,1309.2 920.9,1340.3 921.2,1315.4 921.4,1327.9 921.6,1271.8 921.9,1296.7 922.1,1265.6 922.4,1327.9 922.6,1302.9 922.9,1327.9 923.1,1253.1 923.3,1302.9 923.6,1327.9 923.8,1334.1 924.1,1284.3 924.3,1315.4 924.5,1359 924.8,1352.8 925,1327.9 925.3,1309.2 925.5,1284.3 925.7,1334.1 926,1352.8 926.2,1321.6 926.5,1359 926.7,1352.8 927,1352.8 927.2,1334.1 927.4,1315.4 927.7,1359 927.9,1327.9 928.2,1321.6 928.4,1359 928.6,1340.3 928.9,1384 929.1,1321.6 929.4,1327.9 929.6,1371.5 929.9,1296.7 930.1,1359 930.3,1371.5 930.6,1321.6 930.8,1384 931.1,1371.5 931.3,1352.8 931.5,1340.3 931.8,1352.8 932,1309.2 932.3,1334.1 932.5,1377.7 932.7,1408.9 933,1346.6 933.2,1390.2 933.5,1321.6 933.7,1346.6 934,1327.9 934.2,1296.7 934.4,1352.8 934.7,1327.9 934.9,1315.4 935.2,1334.1 935.4,1371.5 935.6,1352.8 935.9,1371.5 936.1,1359 936.4,1334.1 936.6,1352.8 936.8,1321.6 937.1,1352.8 937.3,1346.6 937.6,1365.3 937.8,1346.6 938.1,1352.8 938.3,1340.3 938.5,1352.8 938.8,1396.4 939,1359 939.3,1334.1 939.5,1315.4 939.7,1340.3 940,1377.7 940.2,1334.1 940.5,1334.1 940.7,1377.7 941,1302.9 941.2,1327.9 941.4,1290.5 941.7,1359 941.9,1359 942.2,1340.3 942.4,1390.2 942.6,1390.2 942.9,1371.5 943.1,1340.3 943.4,1377.7 943.6,1359 943.8,1352.8 944.1,1365.3 944.3,1377.7 944.6,1327.9 944.8,1365.3 945.1,1346.6 945.3,1346.6 945.5,1340.3 945.8,1352.8 946,1352.8 946.3,1371.5 946.5,1352.8 946.7,1359 947,1334.1 947.2,1359 947.5,1327.9 947.7,1365.3 948,1346.6 948.2,1365.3 948.4,1352.8 948.7,1352.8 948.9,1321.6 949.2,1346.6 949.4,1384 949.6,1371.5 949.9,1390.2 950.1,1340.3 950.4,1377.7 950.6,1334.1 950.8,1415.1 951.1,1340.3 951.3,1309.2 951.6,1359 951.8,1365.3 952.1,1302.9 952.3,1365.3 952.5,1384 952.8,1327.9 953,1340.3 953.3,1340.3 953.5,1334.1 953.7,1359 954,1377.7 954.2,1352.8 954.5,1334.1 954.7,1340.3 955,1352.8 955.2,1334.1 955.4,1327.9 955.7,1365.3 955.9,1359 956.2,1346.6 956.4,1315.4 956.6,1315.4 956.9,1334.1 957.1,1346.6 957.4,1290.5 957.6,1259.3 957.8,1334.1 958.1,1321.6 958.3,1253.1 958.6,1271.8 958.8,1265.6 959.1,1327.9 959.3,1278 959.5,1302.9 959.8,1334.1 960,1284.3 960.3,1296.7 960.5,1302.9 960.7,1253.1 961,1359 961.2,1246.9 961.5,1234.4 961.7,1321.6 962,1296.7 962.2,1290.5 962.4,1221.9 962.7,1234.4 962.9,1315.4 963.2,1265.6 963.4,1278 963.6,1246.9 963.9,1178.3 964.1,1190.8 964.4,1209.5 964.6,1197 964.8,1253.1 965.1,1253.1 965.3,1228.2 965.6,1246.9 965.8,1209.5 966.1,1296.7 966.3,1221.9 966.5,1265.6 966.8,1290.5 967,1278 967.3,1271.8 967.5,1309.2 967.7,1278 968,1315.4 968.2,1321.6 968.5,1284.3 968.7,1302.9 969,1334.1 969.2,1346.6 969.4,1302.9 969.7,1327.9 969.9,1327.9 970.2,1346.6 970.4,1352.8 970.6,1359 970.9,1334.1 971.1,1352.8 971.4,1321.6 971.6,1309.2 971.8,1302.9 972.1,1346.6 972.3,1302.9 972.6,1346.6 972.8,1334.1 973.1,1359 973.3,1321.6 973.5,1384 973.8,1384 974,1346.6 974.3,1327.9 974.5,1377.7 974.7,1352.8 975,1377.7 975.2,1377.7 975.5,1340.3 975.7,1346.6 976,1377.7 976.2,1402.6 976.4,1365.3 976.7,1396.4 976.9,1352.8 977.2,1408.9 977.4,1396.4 977.6,1352.8 977.9,1384 978.1,1321.6 978.4,1396.4 978.6,1359 978.8,1371.5 979.1,1384 979.3,1346.6 979.6,1359 979.8,1396.4 980.1,1359 980.3,1352.8 980.5,1377.7 980.8,1390.2 981,1340.3 981.3,1365.3 981.5,1352.8 981.7,1390.2 982,1396.4 982.2,1384 982.5,1334.1 982.7,1371.5 983,1390.2 983.2,1377.7 983.4,1384 983.7,1371.5 983.9,1371.5 984.2,1377.7 984.4,1421.3 984.6,1371.5 984.9,1371.5 985.1,1377.7 985.4,1415.1 985.6,1359 985.8,1384 986.1,1390.2 986.3,1384 986.6,1408.9 986.8,1377.7 987.1,1365.3 987.3,1365.3 987.5,1371.5 987.8,1384 988,1377.7 988.3,1390.2 988.5,1359 988.7,1377.7 989,1384 989.2,1377.7 989.5,1359 989.7,1390.2 990,1377.7 990.2,1402.6 990.4,1384 990.7,1377.7 990.9,1365.3 991.2,1396.4 991.4,1346.6 991.6,1390.2 991.9,1408.9 992.1,1408.9 992.4,1402.6 992.6,1402.6 992.8,1377.7 993.1,1384 993.3,1365.3 993.6,1402.6 993.8,1390.2 994.1,1377.7 994.3,1377.7 994.5,1421.3 994.8,1390.2 995,1377.7 995.3,1390.2 995.5,1396.4 995.7,1408.9 996,1402.6 996.2,1402.6 996.5,1408.9 996.7,1390.2 997,1390.2 997.2,1408.9 997.4,1384 997.7,1396.4 997.9,1390.2 998.2,1377.7 998.4,1408.9 998.6,1390.2 998.9,1377.7 999.1,1396.4 999.4,1396.4 999.6,1402.6 999.8,1390.2 1000.1,1402.6 1000.3,1377.7 1000.6,1384 1000.8,1384 1001.1,1371.5 1001.3,1352.8 1001.5,1377.7 1001.8,1408.9 1002,1352.8 1002.3,1371.5 1002.5,1402.6 1002.7,1384 1003,1402.6 1003.2,1371.5 1003.5,1396.4 1003.7,1371.5 1004,1384 1004.2,1390.2 1004.4,1390.2 1004.7,1384 1004.9,1390.2 1005.2,1390.2 1005.4,1384 1005.6,1396.4 1005.9,1384 1006.1,1433.8 1006.4,1408.9 1006.6,1408.9 1006.8,1402.6 1007.1,1334.1 1007.3,1384 1007.6,1365.3 1007.8,1415.1 1008.1,1396.4 1008.3,1384 1008.5,1396.4 1008.8,1384 1009,1352.8 1009.3,1408.9 1009.5,1377.7 1009.7,1359 1010,1390.2 1010.2,1390.2 1010.5,1408.9 1010.7,1371.5 1011,1390.2 1011.2,1377.7 1011.4,1408.9 1011.7,1384 1011.9,1396.4 1012.2,1384 1012.4,1371.5 1012.6,1384 1012.9,1396.4 1013.1,1396.4 1013.4,1396.4 1013.6,1365.3 1013.8,1390.2 1014.1,1408.9 1014.3,1390.2 1014.6,1390.2 1014.8,1377.7 1015.1,1396.4 1015.3,1402.6 1015.5,1408.9 1015.8,1396.4 1016,1371.5 1016.3,1408.9 1016.5,1384 1016.7,1408.9 1017,1415.1 1017.2,1415.1 1017.5,1402.6 1017.7,1384 1018,1359 1018.2,1377.7 1018.4,1334.1 1018.7,1408.9 1018.9,1390.2 1019.2,1365.3 1019.4,1402.6 1019.6,1402.6 1019.9,1384 1020.1,1371.5 1020.4,1352.8 1020.6,1396.4 1020.8,1390.2 1021.1,1377.7 1021.3,1377.7 1021.6,1377.7 1021.8,1396.4 1022.1,1365.3 1022.3,1396.4 1022.5,1365.3 1022.8,1408.9 1023,1396.4 1023.3,1390.2 1023.5,1365.3 1023.7,1346.6 1024,1415.1 1024.2,1359 1024.5,1408.9 1024.7,1390.2 1025,1396.4 1025.2,1384 1025.4,1359 1025.7,1384 1025.9,1384 1026.2,1365.3 1026.4,1384 1026.6,1402.6 1026.9,1377.7 1027.1,1390.2 1027.4,1396.4 1027.6,1377.7 1027.8,1371.5 1028.1,1346.6 1028.3,1377.7 1028.6,1390.2 1028.8,1371.5 1029.1,1396.4 1029.3,1384 1029.5,1365.3 1029.8,1396.4 1030,1359 1030.3,1396.4 1030.5,1390.2 1030.7,1377.7 1031,1384 1031.2,1402.6 1031.5,1408.9 1031.7,1396.4 1032,1396.4 1032.2,1377.7 1032.4,1384 1032.7,1396.4 1032.9,1352.8 1033.2,1371.5 1033.4,1396.4 1033.6,1365.3 1033.9,1371.5 1034.1,1377.7 1034.4,1352.8 1034.6,1359 1034.8,1377.7 1035.1,1408.9 1035.3,1334.1 1035.6,1334.1 1035.8,1359 1036.1,1352.8 1036.3,1390.2 1036.5,1384 1036.8,1365.3 1037,1365.3 1037.3,1390.2 1037.5,1396.4 1037.7,1365.3 1038,1421.3 1038.2,1359 1038.5,1371.5 1038.7,1408.9 1039,1352.8 1039.2,1384 1039.4,1346.6 1039.7,1384 1039.9,1371.5 1040.2,1365.3 1040.4,1359 1040.6,1384 1040.9,1402.6 1041.1,1359 1041.4,1371.5 1041.6,1359 1041.8,1315.4 1042.1,1384 1042.3,1327.9 1042.6,1365.3 1042.8,1359 1043.1,1346.6 1043.3,1309.2 1043.5,1321.6 1043.8,1340.3 1044,1384 1044.3,1340.3 1044.5,1346.6 1044.7,1346.6 1045,1371.5 1045.2,1365.3 1045.5,1346.6 1045.7,1359 1046,1377.7 1046.2,1271.8 1046.4,1296.7 1046.7,1346.6 1046.9,1309.2 1047.2,1352.8 1047.4,1259.3 1047.6,1271.8 1047.9,1259.3 1048.1,1346.6 1048.4,1327.9 1048.6,1359 1048.8,1302.9 1049.1,1290.5 1049.3,1315.4 1049.6,1302.9 1049.8,1321.6 1050.1,1284.3 1050.3,1334.1 1050.5,1309.2 1050.8,1321.6 1051,1278 1051.3,1271.8 1051.5,1253.1 1051.7,1271.8 1052,1321.6 1052.2,1284.3 1052.5,1290.5 1052.7,1240.6 1053,1221.9 1053.2,1278 1053.4,1197 1053.7,1172.1 1053.9,1259.3 1054.2,1190.8 1054.4,1253.1 1054.6,1209.5 1054.9,1084.9 1055.1,1140.9 1055.4,1190.8 1055.6,1159.6 1055.8,1215.7 1056.1,1159.6 1056.3,1140.9 1056.6,1078.6 1056.8,1147.2 1057.1,1147.2 1057.3,1097.3 1057.5,1084.9 1057.8,1159.6 1058,1003.9 1058.3,1084.9 1058.5,1028.8 1058.7,1035 1059,1047.5 1059.2,1084.9 1059.5,1022.6 1059.7,1066.2 1060,985.2 1060.2,1053.7 1060.4,1041.2 1060.7,1003.9 1060.9,1016.3 1061.2,1122.2 1061.4,1053.7 1061.6,1153.4 1061.9,1047.5 1062.1,1035 1062.4,1053.7 1062.6,1041.2 1062.8,1066.2 1063.1,1159.6 1063.3,1116 1063.6,1053.7 1063.8,1109.8 1064.1,1159.6 1064.3,1109.8 1064.5,1084.9 1064.8,1253.1 1065,1203.3 1065.3,1165.9 1065.5,1172.1 1065.7,1197 1066,1197 1066.2,1184.6 1066.5,1253.1 1066.7,1197 1067,1197 1067.2,1134.7 1067.4,1221.9 1067.7,1184.6 1067.9,1221.9 1068.2,1271.8 1068.4,1221.9 1068.6,1197 1068.9,1253.1 1069.1,1271.8 1069.4,1290.5 1069.6,1278 1069.8,1284.3 1070.1,1265.6 1070.3,1290.5 1070.6,1234.4 1070.8,1278 1071.1,1309.2 1071.3,1327.9 1071.5,1302.9 1071.8,1315.4 1072,1340.3 1072.3,1271.8 1072.5,1340.3 1072.7,1309.2 1073,1340.3 1073.2,1327.9 1073.5,1346.6 1073.7,1296.7 1074,1309.2 1074.2,1346.6 1074.4,1315.4 1074.7,1352.8 1074.9,1334.1 1075.2,1290.5 1075.4,1321.6 1075.6,1315.4 1075.9,1321.6 1076.1,1352.8 1076.4,1340.3 1076.6,1334.1 1076.8,1365.3 1077.1,1359 1077.3,1365.3 1077.6,1359 1077.8,1334.1 1078.1,1359 1078.3,1396.4 1078.5,1346.6 1078.8,1371.5 1079,1340.3 1079.3,1371.5 1079.5,1327.9 1079.7,1346.6 1080,1352.8 1080.2,1371.5 1080.5,1402.6 1080.7,1371.5 1081,1384 1081.2,1371.5 1081.4,1421.3 1081.7,1390.2 1081.9,1377.7 1082.2,1377.7 1082.4,1365.3 1082.6,1365.3 1082.9,1340.3 1083.1,1371.5 1083.4,1384 1083.6,1359 1083.8,1408.9 1084.1,1402.6 1084.3,1384 1084.6,1396.4 1084.8,1390.2 1085.1,1408.9 1085.3,1334.1 1085.5,1402.6 1085.8,1384 1086,1377.7 1086.3,1402.6 1086.5,1377.7 1086.7,1371.5 1087,1352.8 1087.2,1396.4 1087.5,1371.5 1087.7,1377.7 1088,1408.9 1088.2,1415.1 1088.4,1396.4 1088.7,1396.4 1088.9,1384 1089.2,1390.2 1089.4,1396.4 1089.6,1408.9 1089.9,1377.7 1090.1,1371.5 1090.4,1396.4 1090.6,1402.6 1090.8,1408.9 1091.1,1396.4 1091.3,1384 1091.6,1396.4 1091.8,1371.5 1092.1,1390.2 1092.3,1408.9 1092.5,1384 1092.8,1396.4 1093,1396.4 1093.3,1384 1093.5,1377.7 1093.7,1415.1 1094,1371.5 1094.2,1415.1 1094.5,1377.7 1094.7,1396.4 1095,1408.9 1095.2,1359 1095.4,1371.5 1095.7,1384 1095.9,1384 1096.2,1402.6 1096.4,1408.9 1096.6,1390.2 1096.9,1396.4 1097.1,1402.6 1097.4,1384 1097.6,1384 1097.8,1384 1098.1,1415.1 1098.3,1402.6 1098.6,1408.9 1098.8,1408.9 1099.1,1402.6 1099.3,1402.6 1099.5,1415.1 1099.8,1408.9 1100,1415.1 1100.3,1390.2 1100.5,1396.4 1100.7,1421.3 1101,1396.4 1101.2,1427.6 1101.5,1402.6 1101.7,1371.5 1102,1408.9 1102.2,1396.4 1102.4,1415.1 1102.7,1396.4 1102.9,1396.4 1103.2,1396.4 1103.4,1390.2 1103.6,1390.2 1103.9,1390.2 1104.1,1384 1104.4,1396.4 1104.6,1408.9 1104.8,1402.6 1105.1,1402.6 1105.3,1415.1 1105.6,1365.3 1105.8,1396.4 1106.1,1427.6 1106.3,1415.1 1106.5,1390.2 1106.8,1408.9 1107,1421.3 1107.3,1402.6 1107.5,1402.6 1107.7,1396.4 1108,1402.6 1108.2,1408.9 1108.5,1408.9 1108.7,1427.6 1109,1402.6 1109.2,1415.1 1109.4,1402.6 1109.7,1415.1 1109.9,1421.3 1110.2,1396.4 1110.4,1396.4 1110.6,1396.4 1110.9,1408.9 1111.1,1433.8 1111.4,1396.4 1111.6,1390.2 1111.8,1402.6 1112.1,1408.9 1112.3,1384 1112.6,1384 1112.8,1377.7 1113.1,1408.9 1113.3,1415.1 1113.5,1408.9 1113.8,1402.6 1114,1415.1 1114.3,1421.3 1114.5,1390.2 1114.7,1408.9 1115,1415.1 1115.2,1402.6 1115.5,1390.2 1115.7,1415.1 1116,1402.6 1116.2,1408.9 1116.4,1402.6 1116.7,1402.6 1116.9,1396.4 1117.2,1427.6 1117.4,1408.9 1117.6,1408.9 1117.9,1421.3 1118.1,1421.3 1118.4,1396.4 1118.6,1402.6 1118.8,1396.4 1119.1,1408.9 1119.3,1415.1 1119.6,1396.4 1119.8,1402.6 1120.1,1415.1 1120.3,1402.6 1120.5,1396.4 1120.8,1421.3 1121,1390.2 1121.3,1402.6 1121.5,1408.9 1121.7,1384 1122,1396.4 1122.2,1390.2 1122.5,1408.9 1122.7,1402.6 1123,1384 1123.2,1421.3 1123.4,1408.9 1123.7,1396.4 1123.9,1415.1 1124.2,1427.6 1124.4,1421.3 1124.6,1408.9 1124.9,1402.6 1125.1,1408.9 1125.4,1415.1 1125.6,1396.4 1125.8,1408.9 1126.1,1408.9 1126.3,1402.6 1126.6,1384 1126.8,1384 1127.1,1408.9 1127.3,1402.6 1127.5,1408.9 1127.8,1408.9 1128,1408.9 1128.3,1421.3 1128.5,1421.3 1128.7,1402.6 1129,1415.1 1129.2,1421.3 1129.5,1421.3 1129.7,1427.6 1129.9,1402.6 1130.2,1427.6 1130.4,1415.1 1130.7,1421.3 1130.9,1402.6 1131.2,1415.1 1131.4,1408.9 1131.6,1396.4 1131.9,1415.1 1132.1,1415.1 1132.4,1415.1 1132.6,1390.2 1132.8,1408.9 1133.1,1402.6 1133.3,1408.9 1133.6,1415.1 1133.8,1402.6 1134.1,1402.6 1134.3,1402.6 1134.5,1408.9 1134.8,1421.3 1135,1390.2 1135.3,1384 1135.5,1377.7 1135.7,1408.9 1136,1408.9 1136.2,1415.1 1136.5,1427.6 1136.7,1427.6 1136.9,1408.9 1137.2,1427.6 1137.4,1421.3 1137.7,1402.6 1137.9,1390.2 1138.2,1408.9 1138.4,1402.6 1138.6,1396.4 1138.9,1415.1 1139.1,1408.9 1139.4,1408.9 1139.6,1402.6 1139.8,1421.3 1140.1,1427.6 1140.3,1415.1 1140.6,1415.1 1140.8,1421.3 1141.1,1421.3 1141.3,1402.6 1141.5,1415.1 1141.8,1396.4 1142,1402.6 1142.3,1402.6 1142.5,1402.6 1142.7,1415.1 1143,1415.1 1143.2,1408.9 1143.5,1408.9 1143.7,1427.6 1143.9,1415.1 1144.2,1421.3 1144.4,1408.9 1144.7,1421.3 1144.9,1415.1 1145.2,1402.6 1145.4,1421.3 1145.6,1390.2 1145.9,1408.9 1146.1,1408.9 1146.4,1402.6 1146.6,1421.3 1146.8,1415.1 1147.1,1427.6 1147.3,1433.8 1147.6,1402.6 1147.8,1427.6 1148.1,1421.3 1148.3,1402.6 1148.5,1408.9 1148.8,1415.1 1149,1402.6 1149.3,1427.6 1149.5,1421.3 1149.7,1415.1 1150,1396.4 1150.2,1415.1 1150.5,1402.6 1150.7,1421.3 1150.9,1408.9 1151.2,1421.3 1151.4,1408.9 1151.7,1408.9 1151.9,1427.6 1152.2,1421.3 1152.4,1408.9 1152.6,1415.1 1152.9,1421.3 1153.1,1421.3 1153.4,1415.1 1153.6,1415.1 1153.8,1433.8 1154.1,1427.6 1154.3,1421.3 1154.6,1402.6 1154.8,1408.9 1155.1,1402.6 1155.3,1396.4 1155.5,1421.3 1155.8,1415.1 1156,1421.3 1156.3,1408.9 1156.5,1408.9 1156.7,1415.1 1157,1415.1 1157.2,1408.9 1157.5,1408.9 1157.7,1415.1 1157.9,1433.8 1158.2,1427.6 1158.4,1427.6 1158.7,1415.1 1158.9,1408.9 1159.2,1408.9 1159.4,1396.4 1159.6,1402.6 1159.9,1415.1 1160.1,1402.6 1160.4,1421.3 1160.6,1421.3 1160.8,1408.9 1161.1,1421.3 1161.3,1415.1 1161.6,1415.1 1161.8,1415.1 1162.1,1421.3 1162.3,1433.8 1162.5,1402.6 1162.8,1433.8 1163,1427.6 1163.3,1402.6 1163.5,1408.9 1163.7,1415.1 1164,1408.9 1164.2,1415.1 1164.5,1415.1 1164.7,1390.2 1164.9,1427.6 1165.2,1390.2 1165.4,1384 1165.7,1402.6 1165.9,1421.3 1166.2,1415.1 1166.4,1396.4 1166.6,1415.1 1166.9,1402.6 1167.1,1421.3 1167.4,1415.1 1167.6,1427.6 1167.8,1415.1 1168.1,1421.3 1168.3,1421.3 1168.6,1402.6 1168.8,1390.2 1169.1,1415.1 1169.3,1427.6 1169.5,1415.1 1169.8,1390.2 1170,1408.9 1170.3,1415.1 1170.5,1421.3 1170.7,1415.1 1171,1396.4 1171.2,1402.6 1171.5,1415.1 1171.7,1415.1 1171.9,1421.3 1172.2,1402.6 1172.4,1415.1 1172.7,1421.3 1172.9,1421.3 1173.2,1408.9 1173.4,1415.1 1173.6,1421.3 1173.9,1427.6 1174.1,1433.8 1174.4,1396.4 1174.6,1421.3 1174.8,1433.8 1175.1,1408.9 1175.3,1415.1 1175.6,1396.4 1175.8,1421.3 1176.1,1408.9 1176.3,1415.1 1176.5,1433.8 1176.8,1433.8 1177,1421.3 1177.3,1396.4 1177.5,1396.4 1177.7,1427.6 1178,1402.6 1178.2,1421.3 1178.5,1415.1 1178.7,1408.9 1178.9,1415.1 1179.2,1415.1 1179.4,1415.1 1179.7,1415.1 1179.9,1415.1 1180.2,1427.6 1180.4,1415.1 1180.6,1415.1 1180.9,1396.4 1181.1,1427.6 1181.4,1396.4 1181.6,1402.6 1181.8,1408.9 1182.1,1408.9 1182.3,1415.1 1182.6,1402.6 1182.8,1421.3 1183.1,1384 1183.3,1421.3 1183.5,1384 1183.8,1408.9 1184,1408.9 1184.3,1421.3 1184.5,1408.9 1184.7,1421.3 1185,1408.9 1185.2,1427.6 1185.5,1408.9 1185.7,1415.1 1185.9,1421.3 1186.2,1415.1 1186.4,1427.6 1186.7,1408.9 1186.9,1408.9 1187.2,1408.9 1187.4,1408.9 1187.6,1384 1187.9,1396.4 1188.1,1408.9 1188.4,1408.9 1188.6,1415.1 1188.8,1402.6 1189.1,1408.9 1189.3,1421.3 1189.6,1408.9 1189.8,1396.4 1190.1,1402.6 1190.3,1427.6 1190.5,1427.6 1190.8,1427.6 1191,1421.3 1191.3,1402.6 1191.5,1402.6 1191.7,1415.1 1192,1415.1 1192.2,1415.1 1192.5,1415.1 1192.7,1415.1 1192.9,1402.6 1193.2,1433.8 1193.4,1427.6 1193.7,1415.1 1193.9,1421.3 1194.2,1390.2 1194.4,1415.1 1194.6,1390.2 1194.9,1421.3 1195.1,1408.9 1195.4,1408.9 1195.6,1415.1 1195.8,1433.8 1196.1,1427.6 1196.3,1427.6 1196.6,1415.1 1196.8,1421.3 1197.1,1427.6 1197.3,1415.1 1197.5,1433.8 1197.8,1415.1 1198,1421.3 1198.3,1415.1 1198.5,1415.1 1198.7,1402.6 1199,1402.6 1199.2,1408.9 1199.5,1427.6 1199.7,1415.1 1199.9,1408.9 1200.2,1402.6 1200.4,1402.6 1200.7,1415.1 1200.9,1408.9 1201.2,1421.3 1201.4,1402.6 1201.6,1421.3 1201.9,1408.9 1202.1,1408.9 1202.4,1415.1 1202.6,1402.6 1202.8,1427.6 1203.1,1408.9 1203.3,1421.3 1203.6,1402.6 1203.8,1408.9 1204.1,1402.6 1204.3,1427.6 1204.5,1402.6 1204.8,1408.9 1205,1402.6 1205.3,1415.1 1205.5,1433.8 1205.7,1433.8 1206,1421.3 1206.2,1408.9 1206.5,1415.1 1206.7,1402.6 1206.9,1384 1207.2,1427.6 1207.4,1415.1 1207.7,1421.3 1207.9,1402.6 1208.2,1421.3 1208.4,1408.9 1208.6,1415.1 1208.9,1408.9 1209.1,1421.3 1209.4,1415.1 1209.6,1408.9 1209.8,1415.1 1210.1,1415.1 1210.3,1427.6 1210.6,1415.1 1210.8,1421.3 1211.1,1421.3 1211.3,1427.6 1211.5,1421.3 1211.8,1408.9 1212,1408.9 1212.3,1433.8 1212.5,1415.1 1212.7,1433.8 1213,1408.9 1213.2,1396.4 1213.5,1402.6 1213.7,1415.1 1213.9,1390.2 1214.2,1415.1 1214.4,1415.1 1214.7,1415.1 1214.9,1408.9 1215.2,1415.1 1215.4,1396.4 1215.6,1415.1 1215.9,1427.6 1216.1,1377.7 1216.4,1415.1 1216.6,1396.4 1216.8,1402.6 1217.1,1408.9 1217.3,1396.4 1217.6,1402.6 1217.8,1408.9 1218.1,1415.1 1218.3,1415.1 1218.5,1415.1 1218.8,1384 1219,1408.9 1219.3,1415.1 1219.5,1421.3 1219.7,1402.6 1220,1415.1 1220.2,1421.3 1220.5,1415.1 1220.7,1421.3 1220.9,1390.2 1221.2,1415.1 1221.4,1384 1221.7,1402.6 1221.9,1396.4 1222.2,1408.9 1222.4,1408.9 1222.6,1371.5 1222.9,1421.3 1223.1,1415.1 1223.4,1396.4 1223.6,1415.1 1223.8,1384 1224.1,1402.6 1224.3,1408.9 1224.6,1415.1 1224.8,1402.6 1225.1,1396.4 1225.3,1396.4 1225.5,1408.9 1225.8,1408.9 1226,1396.4 1226.3,1415.1 1226.5,1384 1226.7,1408.9 1227,1390.2 1227.2,1390.2 1227.5,1402.6 1227.7,1365.3 1227.9,1384 1228.2,1390.2 1228.4,1390.2 1228.7,1396.4 1228.9,1384 1229.2,1396.4 1229.4,1359 1229.6,1390.2 1229.9,1352.8 1230.1,1384 1230.4,1371.5 1230.6,1365.3 1230.8,1346.6 1231.1,1384 1231.3,1396.4 1231.6,1346.6 1231.8,1384 1232.1,1377.7 1232.3,1390.2 1232.5,1359 1232.8,1365.3 1233,1365.3 1233.3,1384 1233.5,1396.4 1233.7,1352.8 1234,1327.9 1234.2,1390.2 1234.5,1365.3 1234.7,1384 1234.9,1365.3 1235.2,1371.5 1235.4,1377.7 1235.7,1371.5 1235.9,1352.8 1236.2,1365.3 1236.4,1371.5 1236.6,1402.6 1236.9,1402.6 1237.1,1365.3 1237.4,1408.9 1237.6,1371.5 1237.8,1371.5 1238.1,1352.8 1238.3,1377.7 1238.6,1384 1238.8,1359 1239.1,1377.7 1239.3,1377.7 1239.5,1390.2 1239.8,1402.6 1240,1396.4 1240.3,1365.3 1240.5,1396.4 1240.7,1359 1241,1377.7 1241.2,1421.3 1241.5,1390.2 1241.7,1396.4 1241.9,1402.6 1242.2,1402.6 1242.4,1408.9 1242.7,1371.5 1242.9,1408.9 1243.2,1421.3 1243.4,1402.6 1243.6,1402.6 1243.9,1396.4 1244.1,1427.6 1244.4,1402.6 1244.6,1384 1244.8,1377.7 1245.1,1408.9 1245.3,1415.1 1245.6,1402.6 1245.8,1402.6 1246.1,1415.1 1246.3,1402.6 1246.5,1396.4 1246.8,1433.8 1247,1415.1 1247.3,1408.9 1247.5,1427.6 1247.7,1415.1 1248,1415.1 1248.2,1384 1248.5,1427.6 1248.7,1421.3 1248.9,1415.1 1249.2,1408.9 1249.4,1421.3 1249.7,1390.2 1249.9,1402.6 1250.2,1384 1250.4,1402.6 1250.6,1415.1 1250.9,1427.6 1251.1,1408.9 1251.4,1390.2 1251.6,1408.9 1251.8,1408.9 1252.1,1415.1 1252.3,1433.8 1252.6,1421.3 1252.8,1433.8 1253.1,1396.4 1253.3,1421.3 1253.5,1384 1253.8,1402.6 1254,1408.9 1254.3,1427.6 1254.5,1402.6 1254.7,1408.9 1255,1415.1 1255.2,1408.9 1255.5,1402.6 1255.7,1396.4 1255.9,1402.6 1256.2,1396.4 1256.4,1427.6 1256.7,1402.6 1256.9,1421.3 1257.2,1421.3 1257.4,1408.9 1257.6,1427.6 1257.9,1427.6 1258.1,1421.3 1258.4,1402.6 1258.6,1421.3 1258.8,1408.9 1259.1,1415.1 1259.3,1396.4 1259.6,1408.9 1259.8,1433.8 1260.1,1402.6 1260.3,1415.1 1260.5,1421.3 1260.8,1402.6 1261,1408.9 1261.3,1421.3 1261.5,1396.4 1261.7,1427.6 1262,1408.9 1262.2,1408.9 1262.5,1421.3 1262.7,1421.3 1262.9,1402.6 1263.2,1415.1 1263.4,1421.3 1263.7,1402.6 1263.9,1390.2 1264.2,1402.6 1264.4,1402.6 1264.6,1415.1 1264.9,1415.1 1265.1,1402.6 1265.4,1433.8 1265.6,1396.4 1265.8,1421.3 1266.1,1421.3 1266.3,1421.3 1266.6,1415.1 1266.8,1396.4 1267.1,1415.1 1267.3,1415.1 1267.5,1433.8 1267.8,1396.4 1268,1433.8 1268.3,1396.4 1268.5,1415.1 1268.7,1402.6 1269,1427.6 1269.2,1402.6 1269.5,1421.3 1269.7,1408.9 1269.9,1384 1270.2,1421.3 1270.4,1421.3 1270.7,1415.1 1270.9,1402.6 1271.2,1377.7 1271.4,1427.6 1271.6,1427.6 1271.9,1427.6 1272.1,1421.3 1272.4,1427.6 1272.6,1421.3 1272.8,1421.3 1273.1,1433.8 1273.3,1408.9 1273.6,1415.1 1273.8,1415.1 1274.1,1433.8 1274.3,1415.1 1274.5,1415.1 1274.8,1396.4 1275,1415.1 1275.3,1402.6 1275.5,1402.6 1275.7,1402.6 1276,1427.6 1276.2,1402.6 1276.5,1415.1 1276.7,1408.9 1276.9,1415.1 1277.2,1421.3 1277.4,1415.1 1277.7,1421.3 1277.9,1433.8 1278.2,1421.3 1278.4,1415.1 1278.6,1396.4 1278.9,1408.9 1279.1,1421.3 1279.4,1421.3 1279.6,1415.1 1279.8,1427.6 1280.1,1427.6 1280.3,1427.6 1280.6,1415.1 1280.8,1415.1 1281.1,1427.6 1281.3,1415.1 1281.5,1408.9 1281.8,1421.3 1282,1402.6 1282.3,1427.6 1282.5,1402.6 1282.7,1421.3 1283,1421.3 1283.2,1415.1 1283.5,1408.9 1283.7,1402.6 1283.9,1415.1 1284.2,1427.6 1284.4,1408.9 1284.7,1421.3 1284.9,1421.3 1285.2,1396.4 1285.4,1402.6 1285.6,1415.1 1285.9,1396.4 1286.1,1408.9 1286.4,1421.3 1286.6,1415.1 1286.8,1415.1 1287.1,1427.6 1287.3,1421.3 1287.6,1421.3 1287.8,1421.3 1288.1,1415.1 1288.3,1421.3 1288.5,1408.9 1288.8,1408.9 1289,1408.9 1289.3,1408.9 1289.5,1402.6 1289.7,1421.3 1290,1402.6 1290.2,1421.3 1290.5,1433.8 1290.7,1433.8 1290.9,1415.1 1291.2,1415.1 1291.4,1396.4 1291.7,1415.1 1291.9,1427.6 1292.2,1421.3 1292.4,1427.6 1292.6,1427.6 1292.9,1415.1 1293.1,1415.1 1293.4,1415.1 1293.6,1415.1 1293.8,1421.3 1294.1,1408.9 1294.3,1421.3 1294.6,1421.3 1294.8,1408.9 1295.1,1402.6 1295.3,1421.3 1295.5,1421.3 1295.8,1396.4 1296,1421.3 1296.3,1390.2 1296.5,1421.3 1296.7,1402.6 1297,1408.9 1297.2,1427.6 1297.5,1433.8 1297.7,1421.3 1297.9,1396.4 1298.2,1415.1 1298.4,1421.3 1298.7,1433.8 1298.9,1421.3 1299.2,1421.3 1299.4,1408.9 1299.6,1415.1 1299.9,1408.9 1300.1,1427.6 1300.4,1415.1 1300.6,1415.1 1300.8,1427.6 1301.1,1415.1 1301.3,1402.6 1301.6,1415.1 1301.8,1421.3 1302.1,1408.9 1302.3,1415.1 1302.5,1427.6 1302.8,1433.8 1303,1415.1 1303.3,1421.3 1303.5,1415.1 1303.7,1421.3 1304,1402.6 1304.2,1384 1304.5,1408.9 1304.7,1408.9 1304.9,1421.3 1305.2,1421.3 1305.4,1415.1 1305.7,1415.1 1305.9,1421.3 1306.2,1421.3 1306.4,1421.3 1306.6,1415.1 1306.9,1433.8 1307.1,1408.9 1307.4,1402.6 1307.6,1396.4 1307.8,1427.6 1308.1,1421.3 1308.3,1427.6 1308.6,1433.8 1308.8,1408.9 1309.1,1390.2 1309.3,1427.6 1309.5,1427.6 1309.8,1408.9 1310,1408.9 1310.3,1427.6 1310.5,1421.3 1310.7,1427.6 1311,1408.9 1311.2,1415.1 1311.5,1415.1 1311.7,1421.3 1311.9,1427.6 1312.2,1433.8 1312.4,1415.1 1312.7,1396.4 1312.9,1427.6 1313.2,1408.9 1313.4,1421.3 1313.6,1427.6 1313.9,1421.3 1314.1,1421.3 1314.4,1427.6 1314.6,1421.3 1314.8,1415.1 1315.1,1408.9 1315.3,1427.6 1315.6,1433.8 1315.8,1415.1 1316.1,1427.6 1316.3,1427.6 1316.5,1421.3 1316.8,1415.1 1317,1396.4 1317.3,1390.2 1317.5,1421.3 1317.7,1421.3 1318,1421.3 1318.2,1415.1 1318.5,1427.6 1318.7,1402.6 1318.9,1390.2 1319.2,1408.9 1319.4,1408.9 1319.7,1421.3 1319.9,1415.1 1320.2,1415.1 1320.4,1421.3 1320.6,1396.4 1320.9,1415.1 1321.1,1402.6 1321.4,1408.9 1321.6,1421.3 1321.8,1415.1 1322.1,1408.9 1322.3,1421.3 1322.6,1421.3 1322.8,1433.8 1323,1415.1 1323.3,1427.6 1323.5,1408.9 1323.8,1421.3 1324,1396.4 1324.3,1408.9 1324.5,1415.1 1324.7,1415.1 1325,1421.3 1325.2,1433.8 1325.5,1415.1 1325.7,1402.6 1325.9,1427.6 1326.2,1421.3 1326.4,1408.9 1326.7,1402.6 1326.9,1408.9 1327.2,1415.1 1327.4,1402.6 1327.6,1427.6 1327.9,1415.1 1328.1,1415.1 1328.4,1402.6 1328.6,1408.9 1328.8,1421.3 1329.1,1384 1329.3,1415.1 1329.6,1421.3 1329.8,1427.6 1330,1433.8 1330.3,1415.1 1330.5,1427.6 1330.8,1396.4 1331,1402.6 1331.3,1408.9 1331.5,1408.9 1331.7,1415.1 1332,1427.6 1332.2,1427.6 1332.5,1421.3 1332.7,1427.6 1332.9,1427.6 1333.2,1415.1 1333.4,1427.6 1333.7,1415.1 1333.9,1408.9 1334.2,1433.8 1334.4,1415.1 1334.6,1415.1 1334.9,1415.1 1335.1,1408.9 1335.4,1415.1 1335.6,1427.6 1335.8,1396.4 1336.1,1408.9 1336.3,1408.9 1336.6,1427.6 1336.8,1421.3 1337,1427.6 1337.3,1408.9 1337.5,1415.1 1337.8,1415.1 1338,1408.9 1338.3,1427.6 1338.5,1415.1 1338.7,1408.9 1339,1402.6 1339.2,1415.1 1339.5,1427.6 1339.7,1415.1 1339.9,1427.6 1340.2,1433.8 1340.4,1427.6 1340.7,1421.3 1340.9,1408.9 1341.2,1427.6 1341.4,1415.1 1341.6,1415.1 1341.9,1421.3 1342.1,1421.3 1342.4,1408.9 1342.6,1427.6 1342.8,1427.6 1343.1,1415.1 1343.3,1402.6 1343.6,1427.6 1343.8,1415.1 1344,1408.9 1344.3,1415.1 1344.5,1427.6 1344.8,1408.9 1345,1415.1 1345.3,1427.6 1345.5,1415.1 1345.7,1421.3 1346,1415.1 1346.2,1427.6 1346.5,1408.9 1346.7,1427.6 1346.9,1415.1 1347.2,1421.3 1347.4,1427.6 1347.7,1415.1 1347.9,1421.3 1348.2,1415.1 1348.4,1415.1 1348.6,1421.3 1348.9,1427.6 1349.1,1433.8 1349.4,1421.3 1349.6,1415.1 1349.8,1421.3 1350.1,1421.3 1350.3,1427.6 1350.6,1421.3 1350.8,1427.6 1351,1433.8 1351.3,1421.3 1351.5,1427.6 1351.8,1396.4 1352,1408.9 1352.3,1427.6 1352.5,1402.6 1352.7,1408.9 1353,1421.3 1353.2,1408.9 1353.5,1415.1 1353.7,1408.9 1353.9,1408.9 1354.2,1427.6 1354.4,1415.1 1354.7,1415.1 1354.9,1427.6 1355.2,1415.1 1355.4,1427.6 1355.6,1415.1 1355.9,1402.6 1356.1,1408.9 1356.4,1433.8 1356.6,1415.1 1356.8,1415.1 1357.1,1421.3 1357.3,1427.6 1357.6,1421.3 1357.8,1415.1 1358,1402.6 1358.3,1415.1 1358.5,1427.6 1358.8,1408.9 1359,1408.9 1359.3,1415.1 1359.5,1427.6 1359.7,1415.1 1360,1402.6 1360.2,1433.8 1360.5,1408.9 1360.7,1433.8 1360.9,1415.1 1361.2,1415.1 1361.4,1415.1 1361.7,1427.6 1361.9,1396.4 1362.2,1415.1 1362.4,1427.6 1362.6,1427.6 1362.9,1427.6 1363.1,1415.1 1363.4,1415.1 1363.6,1421.3 1363.8,1421.3 1364.1,1402.6 1364.3,1421.3 1364.6,1408.9 1364.8,1408.9 1365,1408.9 1365.3,1402.6 1365.5,1427.6 1365.8,1421.3 1366,1421.3 1366.3,1408.9 1366.5,1427.6 1366.7,1384 1367,1415.1 1367.2,1408.9 1367.5,1427.6 1367.7,1427.6 1367.9,1433.8 1368.2,1415.1 1368.4,1396.4 1368.7,1402.6 1368.9,1427.6 1369.2,1408.9 1369.4,1415.1 1369.6,1415.1 1369.9,1421.3 1370.1,1433.8 1370.4,1415.1 1370.6,1427.6 1370.8,1421.3 1371.1,1390.2 1371.3,1421.3 1371.6,1421.3 1371.8,1415.1 1372,1421.3 1372.3,1402.6 1372.5,1427.6 1372.8,1415.1 1373,1421.3 1373.3,1421.3 1373.5,1402.6 1373.7,1402.6 1374,1427.6 1374.2,1415.1 1374.5,1433.8 1374.7,1408.9 1374.9,1427.6 1375.2,1421.3 1375.4,1433.8 1375.7,1427.6 1375.9,1433.8 1376.2,1421.3 1376.4,1421.3 1376.6,1433.8 1376.9,1421.3 1377.1,1415.1 1377.4,1390.2 1377.6,1415.1 1377.8,1408.9 1378.1,1415.1 1378.3,1415.1 1378.6,1415.1 1378.8,1427.6 1379,1421.3 1379.3,1408.9 1379.5,1427.6 1379.8,1415.1 1380,1415.1 1380.3,1427.6 1380.5,1433.8 1380.7,1421.3 1381,1408.9 1381.2,1427.6 1381.5,1421.3 1381.7,1396.4 1381.9,1421.3 1382.2,1433.8 1382.4,1390.2 1382.7,1427.6 1382.9,1421.3 1383.2,1402.6 1383.4,1402.6 1383.6,1421.3 1383.9,1384 1384.1,1421.3 1384.4,1421.3 1384.6,1421.3 1384.8,1421.3 1385.1,1421.3 1385.3,1421.3 1385.6,1402.6 1385.8,1415.1 1386,1421.3 1386.3,1427.6 1386.5,1421.3 1386.8,1408.9 1387,1421.3 1387.3,1433.8 1387.5,1415.1 1387.7,1384 1388,1421.3 1388.2,1415.1 1388.5,1421.3 1388.7,1433.8 1388.9,1415.1 1389.2,1402.6 1389.4,1408.9 1389.7,1408.9 1389.9,1421.3 1390.2,1415.1 1390.4,1421.3 1390.6,1408.9 1390.9,1427.6 1391.1,1427.6 1391.4,1433.8 1391.6,1402.6 1391.8,1427.6 1392.1,1433.8 1392.3,1421.3 1392.6,1415.1 1392.8,1433.8 1393,1415.1 1393.3,1408.9 1393.5,1408.9 1393.8,1421.3 1394,1421.3 1394.3,1421.3 1394.5,1408.9 1394.7,1396.4 1395,1427.6 1395.2,1433.8 1395.5,1408.9 1395.7,1408.9 1395.9,1415.1 1396.2,1427.6 1396.4,1421.3 1396.7,1421.3 1396.9,1421.3 1397.2,1415.1 1397.4,1421.3 1397.6,1402.6 1397.9,1408.9 1398.1,1408.9 1398.4,1427.6 1398.6,1421.3 1398.8,1415.1 1399.1,1415.1 1399.3,1408.9 1399.6,1408.9 1399.8,1415.1 1400,1415.1 1400.3,1433.8 1400.5,1415.1 1400.8,1421.3 1401,1415.1 1401.3,1421.3 1401.5,1421.3 1401.7,1421.3 1402,1433.8 1402.2,1415.1 1402.5,1427.6 1402.7,1408.9 1402.9,1390.2 1403.2,1415.1 1403.4,1421.3 1403.7,1415.1 1403.9,1415.1 1404.2,1427.6 1404.4,1396.4 1404.6,1402.6 1404.9,1421.3 1405.1,1421.3 1405.4,1415.1 1405.6,1421.3 1405.8,1421.3 1406.1,1415.1 1406.3,1415.1 1406.6,1427.6 1406.8,1427.6 1407,1421.3 1407.3,1421.3 1407.5,1427.6 1407.8,1415.1 1408,1415.1 1408.3,1415.1 1408.5,1415.1 1408.7,1396.4 1409,1427.6 1409.2,1415.1 1409.5,1421.3 1409.7,1415.1 1409.9,1402.6 1410.2,1415.1 1410.4,1433.8 1410.7,1421.3 1410.9,1427.6 1411.2,1408.9 1411.4,1427.6 1411.6,1415.1 1411.9,1415.1 1412.1,1427.6 1412.4,1427.6 1412.6,1421.3 1412.8,1427.6 1413.1,1415.1 1413.3,1421.3 1413.6,1427.6 1413.8,1415.1 1414,1408.9 1414.3,1421.3 1414.5,1415.1 1414.8,1421.3 1415,1433.8 1415.3,1427.6 1415.5,1427.6 1415.7,1402.6 1416,1396.4 1416.2,1421.3 1416.5,1415.1 1416.7,1427.6 1416.9,1433.8 1417.2,1427.6 1417.4,1408.9 1417.7,1421.3 1417.9,1402.6 1418.2,1408.9 1418.4,1427.6 1418.6,1408.9 1418.9,1402.6 1419.1,1421.3 1419.4,1421.3 1419.6,1433.8 1419.8,1402.6 1420.1,1427.6 1420.3,1415.1 1420.6,1421.3 1420.8,1427.6 1421,1421.3 1421.3,1415.1 1421.5,1415.1 1421.8,1421.3 1422,1421.3 1422.3,1421.3 1422.5,1427.6 1422.7,1421.3 1423,1415.1 1423.2,1415.1 1423.5,1402.6 1423.7,1402.6 1423.9,1415.1 1424.2,1408.9 1424.4,1433.8 1424.7,1408.9 1424.9,1433.8 1425.2,1408.9 1425.4,1402.6 1425.6,1402.6 1425.9,1402.6 1426.1,1408.9 1426.4,1421.3 1426.6,1433.8 1426.8,1402.6 1427.1,1408.9 1427.3,1402.6 1427.6,1427.6 1427.8,1408.9 1428,1421.3 1428.3,1408.9 1428.5,1408.9 1428.8,1415.1 1429,1427.6 1429.3,1427.6 1429.5,1408.9 1429.7,1427.6 1430,1427.6 1430.2,1433.8 1430.5,1427.6 1430.7,1415.1 1430.9,1427.6 1431.2,1427.6 1431.4,1408.9 1431.7,1402.6 1431.9,1421.3 1432.2,1421.3 1432.4,1433.8 1432.6,1415.1 1432.9,1433.8 1433.1,1421.3 1433.4,1421.3 1433.6,1408.9 1433.8,1421.3 1434.1,1421.3 1434.3,1415.1 1434.6,1421.3 1434.8,1415.1 1435,1408.9 1435.3,1433.8 1435.5,1421.3 1435.8,1421.3 1436,1427.6 1436.3,1427.6 1436.5,1421.3 1436.7,1421.3 1437,1421.3 1437.2,1415.1 1437.5,1408.9 1437.7,1421.3 1437.9,1396.4 1438.2,1427.6 1438.4,1408.9 1438.7,1408.9 1438.9,1421.3 1439.2,1415.1 1439.4,1421.3 1439.6,1433.8 1439.9,1421.3 1440.1,1433.8 1440.4,1415.1 1440.6,1415.1 1440.8,1415.1 1441.1,1415.1 1441.3,1415.1 1441.6,1427.6 1441.8,1421.3 1442,1408.9 1442.3,1433.8 1442.5,1415.1 1442.8,1415.1 1443,1415.1 1443.3,1402.6 1443.5,1408.9 1443.7,1408.9 1444,1402.6 1444.2,1433.8 1444.5,1427.6 1444.7,1408.9 1444.9,1427.6 1445.2,1427.6 1445.4,1408.9 1445.7,1415.1 1445.9,1427.6 1446.2,1421.3 1446.4,1408.9 1446.6,1408.9 1446.9,1427.6 1447.1,1415.1 1447.4,1408.9 1447.6,1427.6 1447.8,1396.4 1448.1,1408.9 1448.3,1415.1 1448.6,1408.9 1448.8,1415.1 1449,1408.9 1449.3,1384 1449.5,1408.9 1449.8,1408.9 1450,1390.2 1450.3,1408.9 1450.5,1408.9 1450.7,1421.3 1451,1433.8 1451.2,1415.1 1451.5,1421.3 1451.7,1408.9 1451.9,1415.1 1452.2,1433.8 1452.4,1421.3 1452.7,1415.1 1452.9,1433.8 1453.2,1421.3 1453.4,1427.6 1453.6,1421.3 1453.9,1427.6 1454.1,1415.1 1454.4,1415.1 1454.6,1427.6 1454.8,1427.6 1455.1,1390.2 1455.3,1421.3 1455.6,1384 1455.8,1421.3 1456,1396.4 1456.3,1427.6 1456.5,1415.1 1456.8,1408.9 1457,1421.3 1457.3,1421.3 1457.5,1421.3 1457.7,1415.1 1458,1427.6 1458.2,1396.4 1458.5,1421.3 1458.7,1427.6 1458.9,1421.3 1459.2,1421.3 1459.4,1402.6 1459.7,1408.9 1459.9,1415.1 1460.2,1421.3 1460.4,1427.6 1460.6,1402.6 1460.9,1421.3 1461.1,1408.9 1461.4,1427.6 1461.6,1390.2 1461.8,1415.1 1462.1,1415.1 1462.3,1408.9 1462.6,1408.9 1462.8,1408.9 1463,1427.6 1463.3,1415.1 1463.5,1427.6 1463.8,1427.6 1464,1415.1 1464.3,1408.9 1464.5,1408.9 1464.7,1415.1 1465,1433.8 1465.2,1415.1 1465.5,1408.9 1465.7,1421.3 1465.9,1421.3 1466.2,1415.1 1466.4,1415.1 1466.7,1408.9 1466.9,1408.9 1467.2,1402.6 1467.4,1396.4 1467.6,1408.9 1467.9,1390.2 1468.1,1421.3 1468.4,1415.1 1468.6,1421.3 1468.8,1415.1 1469.1,1415.1 1469.3,1427.6 1469.6,1421.3 1469.8,1415.1 1470,1415.1 1470.3,1433.8 1470.5,1408.9 1470.8,1421.3 1471,1433.8 1471.3,1421.3 1471.5,1421.3 1471.7,1415.1 1472,1421.3 1472.2,1433.8 1472.5,1408.9 1472.7,1433.8 1472.9,1427.6 1473.2,1421.3 1473.4,1415.1 1473.7,1402.6 1473.9,1415.1 1474.2,1427.6 1474.4,1415.1 1474.6,1408.9 1474.9,1408.9 1475.1,1396.4 1475.4,1427.6 1475.6,1433.8 1475.8,1427.6 1476.1,1421.3 1476.3,1427.6 1476.6,1427.6 1476.8,1415.1 1477,1408.9 1477.3,1427.6 1477.5,1433.8 1477.8,1415.1 1478,1415.1 1478.3,1427.6 1478.5,1427.6 1478.7,1427.6 1479,1421.3 1479.2,1415.1 1479.5,1421.3 1479.7,1415.1 1479.9,1427.6 1480.2,1421.3 1480.4,1421.3 1480.7,1402.6 1480.9,1433.8 1481.2,1415.1 1481.4,1408.9 1481.6,1421.3 1481.9,1421.3 1482.1,1427.6 1482.4,1427.6 1482.6,1421.3 1482.8,1433.8 1483.1,1408.9 1483.3,1415.1 1483.6,1427.6 1483.8,1427.6 1484,1415.1 1484.3,1415.1 1484.5,1402.6 1484.8,1396.4 1485,1408.9 1485.3,1408.9 1485.5,1427.6 1485.7,1408.9 1486,1427.6 1486.2,1415.1 1486.5,1427.6 1486.7,1427.6 1486.9,1415.1 1487.2,1415.1 1487.4,1427.6 1487.7,1427.6 1487.9,1408.9 1488.2,1396.4 1488.4,1384 1488.6,1415.1 1488.9,1421.3 1489.1,1421.3 1489.4,1408.9 1489.6,1415.1 1489.8,1402.6 1490.1,1433.8 1490.3,1421.3 1490.6,1415.1 1490.8,1415.1 1491,1421.3 1491.3,1433.8 1491.5,1408.9 1491.8,1421.3 1492,1427.6 1492.3,1415.1 1492.5,1433.8 1492.7,1433.8 1493,1415.1 1493.2,1408.9 1493.5,1415.1 1493.7,1408.9 1493.9,1402.6 1494.2,1415.1 1494.4,1384 1494.7,1427.6 1494.9,1415.1 1495.2,1415.1 1495.4,1421.3 1495.6,1396.4 1495.9,1402.6 1496.1,1427.6 1496.4,1390.2 1496.6,1415.1 1496.8,1427.6 1497.1,1427.6 1497.3,1427.6 1497.6,1421.3 1497.8,1427.6 1498,1433.8 1498.3,1427.6 1498.5,1396.4 1498.8,1421.3 1499,1421.3 1499.3,1427.6 1499.5,1421.3 1499.7,1427.6 1500,1421.3 1500.2,1421.3 1500.5,1433.8 1500.7,1390.2 1500.9,1390.2 1501.2,1421.3 1501.4,1427.6 1501.7,1408.9 1501.9,1421.3 1502.2,1421.3 1502.4,1421.3 1502.6,1396.4 1502.9,1421.3 1503.1,1427.6 1503.4,1427.6 1503.6,1421.3 1503.8,1402.6 1504.1,1408.9 1504.3,1421.3 1504.6,1408.9 1504.8,1402.6 1505,1427.6 1505.3,1427.6 1505.5,1427.6 1505.8,1402.6 1506,1427.6 1506.3,1421.3 1506.5,1427.6 1506.7,1408.9 1507,1427.6 1507.2,1427.6 1507.5,1433.8 1507.7,1415.1 1507.9,1396.4 1508.2,1402.6 1508.4,1421.3 1508.7,1421.3 1508.9,1402.6 1509.2,1421.3 1509.4,1433.8 1509.6,1408.9 1509.9,1402.6 1510.1,1427.6 1510.4,1415.1 1510.6,1396.4 1510.8,1415.1 1511.1,1427.6 1511.3,1415.1 1511.6,1427.6 1511.8,1421.3 1512,1408.9 1512.3,1396.4 1512.5,1421.3 1512.8,1415.1 1513,1427.6 1513.3,1427.6 1513.5,1415.1 1513.7,1427.6 1514,1415.1 1514.2,1421.3 1514.5,1396.4 1514.7,1415.1 1514.9,1408.9 1515.2,1415.1 1515.4,1408.9 1515.7,1402.6 1515.9,1421.3 1516.1,1415.1 1516.4,1421.3 1516.6,1390.2 1516.9,1421.3 1517.1,1402.6 1517.4,1427.6 1517.6,1415.1 1517.8,1433.8 1518.1,1427.6 1518.3,1415.1 1518.6,1415.1 1518.8,1433.8 1519,1433.8 1519.3,1433.8 1519.5,1427.6 1519.8,1421.3 1520,1415.1 1520.3,1408.9 1520.5,1421.3 1520.7,1427.6 1521,1415.1 1521.2,1408.9 1521.5,1415.1 1521.7,1402.6 1521.9,1433.8 1522.2,1415.1 1522.4,1427.6 1522.7,1415.1 1522.9,1415.1 1523.1,1427.6 1523.4,1421.3 1523.6,1421.3 1523.9,1421.3 1524.1,1427.6 1524.4,1415.1 1524.6,1390.2 1524.8,1408.9 1525.1,1415.1 1525.3,1396.4 1525.6,1427.6 1525.8,1427.6 1526,1402.6 1526.3,1408.9 1526.5,1421.3 1526.8,1427.6 1527,1427.6 1527.3,1427.6 1527.5,1415.1 1527.7,1427.6 1528,1433.8 1528.2,1390.2 1528.5,1421.3 1528.7,1415.1 1528.9,1415.1 1529.2,1408.9 1529.4,1396.4 1529.7,1421.3 1529.9,1427.6 1530.1,1421.3 1530.4,1408.9 1530.6,1415.1 1530.9,1427.6 1531.1,1427.6 1531.4,1433.8 1531.6,1427.6 1531.8,1415.1 1532.1,1408.9 1532.3,1415.1 1532.6,1433.8 1532.8,1421.3 1533,1402.6 1533.3,1415.1 1533.5,1427.6 1533.8,1433.8 1534,1415.1 1534.3,1421.3 1534.5,1415.1 1534.7,1427.6 1535,1433.8 1535.2,1415.1 1535.5,1427.6 1535.7,1415.1 1535.9,1415.1 1536.2,1415.1 1536.4,1408.9 1536.7,1421.3 1536.9,1421.3 1537.1,1427.6 1537.4,1415.1 1537.6,1433.8 1537.9,1421.3 1538.1,1427.6 1538.4,1390.2 1538.6,1421.3 1538.8,1408.9 1539.1,1415.1 1539.3,1427.6 1539.6,1415.1 1539.8,1408.9 1540,1421.3 1540.3,1421.3 1540.5,1415.1 1540.8,1415.1 1541,1421.3 1541.3,1402.6 1541.5,1415.1 1541.7,1415.1 1542,1408.9 1542.2,1402.6 1542.5,1427.6 1542.7,1408.9 1542.9,1427.6 1543.2,1402.6 1543.4,1421.3 1543.7,1433.8 1543.9,1408.9 1544.1,1408.9 1544.4,1421.3 1544.6,1421.3 1544.9,1421.3 1545.1,1415.1 1545.4,1415.1 1545.6,1433.8 1545.8,1396.4 1546.1,1421.3 1546.3,1427.6 1546.6,1415.1 1546.8,1402.6 1547,1408.9 1547.3,1415.1 1547.5,1402.6 1547.8,1421.3 1548,1415.1 1548.3,1408.9 1548.5,1396.4 1548.7,1433.8 1549,1427.6 1549.2,1427.6 1549.5,1421.3 1549.7,1408.9 1549.9,1427.6 1550.2,1421.3 1550.4,1421.3 1550.7,1421.3 1550.9,1427.6 1551.1,1415.1 1551.4,1415.1 1551.6,1402.6 1551.9,1402.6 1552.1,1415.1 1552.4,1415.1 1552.6,1427.6 1552.8,1433.8 1553.1,1427.6 1553.3,1421.3 1553.6,1421.3 1553.8,1427.6 1554,1415.1 1554.3,1421.3 1554.5,1402.6 1554.8,1421.3 1555,1421.3 1555.3,1408.9 1555.5,1415.1 1555.7,1433.8 1556,1421.3 1556.2,1408.9 1556.5,1402.6 1556.7,1421.3 1556.9,1433.8 1557.2,1421.3 1557.4,1402.6 1557.7,1421.3 1557.9,1408.9 1558.1,1415.1 1558.4,1415.1 1558.6,1427.6 1558.9,1427.6 1559.1,1402.6 1559.4,1408.9 1559.6,1402.6 1559.8,1408.9 1560.1,1415.1 1560.3,1408.9 1560.6,1408.9 1560.8,1421.3 1561,1402.6 1561.3,1415.1 1561.5,1415.1 1561.8,1408.9 1562,1402.6 1562.3,1421.3 1562.5,1421.3 1562.7,1408.9 1563,1427.6 1563.2,1408.9 1563.5,1427.6 1563.7,1427.6 1563.9,1402.6 1564.2,1408.9 1564.4,1421.3 1564.7,1415.1 1564.9,1415.1 1565.1,1427.6 1565.4,1402.6 1565.6,1427.6 1565.9,1415.1 1566.1,1402.6 1566.4,1408.9 1566.6,1415.1 1566.8,1396.4 1567.1,1402.6 1567.3,1421.3 1567.6,1396.4 1567.8,1390.2 1568,1408.9 1568.3,1384 1568.5,1408.9 1568.8,1427.6 1569,1402.6 1569.3,1408.9 1569.5,1390.2 1569.7,1408.9 1570,1421.3 1570.2,1408.9 1570.5,1421.3 1570.7,1408.9 1570.9,1384 1571.2,1415.1 1571.4,1415.1 1571.7,1415.1 1571.9,1415.1 1572.1,1390.2 1572.4,1390.2 1572.6,1408.9 1572.9,1421.3 1573.1,1408.9 1573.4,1390.2 1573.6,1402.6 1573.8,1415.1 1574.1,1433.8 1574.3,1415.1 1574.6,1402.6 1574.8,1408.9 1575,1390.2 1575.3,1396.4 1575.5,1433.8 1575.8,1402.6 1576,1421.3 1576.3,1421.3 1576.5,1421.3 1576.7,1415.1 1577,1415.1 1577.2,1421.3 1577.5,1408.9 1577.7,1427.6 1577.9,1421.3 1578.2,1415.1 1578.4,1421.3 1578.7,1415.1 1578.9,1415.1 1579.1,1415.1 1579.4,1421.3 1579.6,1402.6 1579.9,1433.8 1580.1,1396.4 1580.4,1384 1580.6,1402.6 1580.8,1421.3 1581.1,1415.1 1581.3,1415.1 1581.6,1415.1 1581.8,1415.1 1582,1396.4 1582.3,1415.1 1582.5,1390.2 1582.8,1396.4 1583,1421.3 1583.3,1415.1 1583.5,1415.1 1583.7,1433.8 1584,1402.6 1584.2,1396.4 1584.5,1433.8 1584.7,1421.3 1584.9,1408.9 1585.2,1396.4 1585.4,1402.6 1585.7,1402.6 1585.9,1408.9 1586.1,1415.1 1586.4,1421.3 1586.6,1415.1 1586.9,1390.2 1587.1,1402.6 1587.4,1390.2 1587.6,1408.9 1587.8,1390.2 1588.1,1408.9 1588.3,1421.3 1588.6,1396.4 1588.8,1402.6 1589,1384 1589.3,1415.1 1589.5,1396.4 1589.8,1384 1590,1408.9 1590.3,1415.1 1590.5,1408.9 1590.7,1402.6 1591,1390.2 1591.2,1371.5 1591.5,1415.1 1591.7,1408.9 1591.9,1402.6 1592.2,1408.9 1592.4,1408.9 1592.7,1390.2 1592.9,1427.6 1593.1,1390.2 1593.4,1402.6 1593.6,1377.7 1593.9,1390.2 1594.1,1371.5 1594.4,1402.6 1594.6,1415.1 1594.8,1396.4 1595.1,1402.6 1595.3,1402.6 1595.6,1402.6 1595.8,1433.8 1596,1402.6 1596.3,1415.1 1596.5,1421.3 1596.8,1390.2 1597,1402.6 1597.3,1396.4 1597.5,1396.4 1597.7,1396.4 1598,1377.7 1598.2,1421.3 1598.5,1377.7 1598.7,1408.9 1598.9,1377.7 1599.2,1390.2 1599.4,1384 1599.7,1396.4 1599.9,1377.7 1600.1,1371.5 1600.4,1415.1 1600.6,1390.2 1600.9,1371.5 1601.1,1371.5 1601.4,1396.4 1601.6,1421.3 1601.8,1402.6 1602.1,1408.9 1602.3,1384 1602.6,1384 1602.8,1377.7 1603,1396.4 1603.3,1377.7 1603.5,1352.8 1603.8,1390.2 1604,1384 1604.3,1408.9 1604.5,1359 1604.7,1384 1605,1384 1605.2,1346.6 1605.5,1390.2 1605.7,1384 1605.9,1396.4 1606.2,1377.7 1606.4,1352.8 1606.7,1359 1606.9,1359 1607.1,1408.9 1607.4,1365.3 1607.6,1365.3 1607.9,1359 1608.1,1371.5 1608.4,1377.7 1608.6,1352.8 1608.8,1384 1609.1,1371.5 1609.3,1359 1609.6,1359 1609.8,1359 1610,1352.8 1610.3,1352.8 1610.5,1384 1610.8,1371.5 1611,1365.3 1611.3,1352.8 1611.5,1340.3 1611.7,1346.6 1612,1384 1612.2,1327.9 1612.5,1309.2 1612.7,1334.1 1612.9,1371.5 1613.2,1359 1613.4,1296.7 1613.7,1346.6 1613.9,1334.1 1614.1,1302.9 1614.4,1284.3 1614.6,1365.3 1614.9,1327.9 1615.1,1346.6 1615.4,1371.5 1615.6,1321.6 1615.8,1309.2 1616.1,1302.9 1616.3,1334.1 1616.6,1334.1 1616.8,1290.5 1617,1278 1617.3,1321.6 1617.5,1296.7 1617.8,1334.1 1618,1327.9 1618.3,1278 1618.5,1278 1618.7,1259.3 1619,1327.9 1619.2,1290.5 1619.5,1265.6 1619.7,1240.6 1619.9,1278 1620.2,1278 1620.4,1278 1620.7,1290.5 1620.9,1315.4 1621.1,1309.2 1621.4,1228.2 1621.6,1240.6 1621.9,1253.1 1622.1,1221.9 1622.4,1246.9 1622.6,1284.3 1622.8,1265.6 1623.1,1228.2 1623.3,1253.1 1623.6,1278 1623.8,1278 1624,1259.3 1624.3,1315.4 1624.5,1271.8 1624.8,1240.6 1625,1284.3 1625.3,1203.3 1625.5,1172.1 1625.7,1228.2 1626,1302.9 1626.2,1327.9 1626.5,1253.1 1626.7,1271.8 1626.9,1234.4 1627.2,1265.6 1627.4,1296.7 1627.7,1302.9 1627.9,1259.3 1628.1,1240.6 1628.4,1246.9 1628.6,1259.3 1628.9,1284.3 1629.1,1240.6 1629.4,1284.3 1629.6,1253.1 1629.8,1278 1630.1,1309.2 1630.3,1290.5 1630.6,1346.6 1630.8,1278 1631,1309.2 1631.3,1302.9 1631.5,1240.6 1631.8,1290.5 1632,1290.5 1632.3,1203.3 1632.5,1315.4 1632.7,1359 1633,1290.5 1633.2,1315.4 1633.5,1327.9 1633.7,1290.5 1633.9,1315.4 1634.2,1296.7 1634.4,1321.6 1634.7,1340.3 1634.9,1321.6 1635.1,1371.5 1635.4,1321.6 1635.6,1334.1 1635.9,1315.4 1636.1,1315.4 1636.4,1377.7 1636.6,1315.4 1636.8,1315.4 1637.1,1321.6 1637.3,1327.9 1637.6,1352.8 1637.8,1315.4 1638,1371.5 1638.3,1309.2 1638.5,1359 1638.8,1352.8 1639,1359 1639.3,1352.8 1639.5,1346.6 1639.7,1371.5 1640,1384 1640.2,1371.5 1640.5,1352.8 1640.7,1384 1640.9,1340.3 1641.2,1327.9 1641.4,1352.8 1641.7,1352.8 1641.9,1377.7 1642.1,1346.6 1642.4,1384 1642.6,1384 1642.9,1365.3 1643.1,1359 1643.4,1377.7 1643.6,1390.2 1643.8,1371.5 1644.1,1396.4 1644.3,1408.9 1644.6,1396.4 1644.8,1377.7 1645,1365.3 1645.3,1371.5 1645.5,1384 1645.8,1390.2 1646,1365.3 1646.3,1390.2 1646.5,1365.3 1646.7,1402.6 1647,1384 1647.2,1352.8 1647.5,1396.4 1647.7,1390.2 1647.9,1408.9 1648.2,1371.5 1648.4,1421.3 1648.7,1352.8 1648.9,1415.1 1649.1,1408.9 1649.4,1415.1 1649.6,1402.6 1649.9,1408.9 1650.1,1390.2 1650.4,1402.6 1650.6,1396.4 1650.8,1396.4 1651.1,1390.2 1651.3,1384 1651.6,1408.9 1651.8,1396.4 1652,1390.2 1652.3,1408.9 1652.5,1415.1 1652.8,1415.1 1653,1359 1653.3,1384 1653.5,1390.2 1653.7,1396.4 1654,1390.2 1654.2,1408.9 1654.5,1390.2 1654.7,1390.2 1654.9,1377.7 1655.2,1384 1655.4,1377.7 1655.7,1390.2 1655.9,1390.2 1656.1,1390.2 1656.4,1402.6 1656.6,1408.9 1656.9,1408.9 1657.1,1371.5 1657.4,1384 1657.6,1371.5 1657.8,1421.3 1658.1,1427.6 1658.3,1408.9 1658.6,1415.1 1658.8,1402.6 1659,1371.5 1659.3,1396.4 1659.5,1415.1 1659.8,1402.6 1660,1396.4 1660.3,1415.1 1660.5,1421.3 1660.7,1415.1 1661,1402.6 1661.2,1402.6 1661.5,1408.9 1661.7,1421.3 1661.9,1415.1 1662.2,1402.6 1662.4,1408.9 1662.7,1402.6 1662.9,1408.9 1663.1,1421.3 1663.4,1415.1 1663.6,1421.3 1663.9,1408.9 1664.1,1421.3 1664.4,1415.1 1664.6,1427.6 1664.8,1408.9 1665.1,1408.9 1665.3,1390.2 1665.6,1421.3 1665.8,1396.4 1666,1415.1 1666.3,1390.2 1666.5,1390.2 1666.8,1415.1 1667,1427.6 1667.3,1402.6 1667.5,1415.1 1667.7,1415.1 1668,1421.3 1668.2,1415.1 1668.5,1359 1668.7,1427.6 1668.9,1396.4 1669.2,1390.2 1669.4,1415.1 1669.7,1402.6 1669.9,1433.8 1670.1,1396.4 1670.4,1377.7 1670.6,1408.9 1670.9,1396.4 1671.1,1408.9 1671.4,1408.9 1671.6,1402.6 1671.8,1415.1 1672.1,1408.9 1672.3,1396.4 1672.6,1390.2 1672.8,1415.1 1673,1402.6 1673.3,1415.1 1673.5,1415.1 1673.8,1396.4 1674,1421.3 1674.3,1415.1 1674.5,1402.6 1674.7,1402.6 1675,1408.9 1675.2,1408.9 1675.5,1415.1 1675.7,1408.9 1675.9,1421.3 1676.2,1415.1 1676.4,1421.3 1676.7,1402.6 1676.9,1427.6 1677.1,1421.3 1677.4,1421.3 1677.6,1371.5 1677.9,1408.9 1678.1,1421.3 1678.4,1408.9 1678.6,1415.1 1678.8,1427.6 1679.1,1396.4 1679.3,1415.1 1679.6,1377.7 1679.8,1421.3 1680,1415.1 1680.3,1408.9 1680.5,1396.4 1680.8,1433.8 1681,1390.2 1681.3,1421.3 1681.5,1408.9 1681.7,1427.6 1682,1421.3 1682.2,1421.3 1682.5,1384 1682.7,1415.1 1682.9,1427.6 1683.2,1408.9 1683.4,1408.9 1683.7,1427.6 1683.9,1390.2 1684.1,1396.4 1684.4,1427.6 1684.6,1402.6 1684.9,1408.9 1685.1,1427.6 1685.4,1408.9 1685.6,1415.1 1685.8,1415.1 1686.1,1427.6 1686.3,1408.9 1686.6,1415.1 1686.8,1408.9 1687,1427.6 1687.3,1396.4 1687.5,1408.9 1687.8,1421.3 1688,1415.1 1688.3,1408.9 1688.5,1408.9 1688.7,1421.3 1689,1396.4 1689.2,1408.9 1689.5,1427.6 1689.7,1427.6 1689.9,1415.1 1690.2,1427.6 1690.4,1421.3 1690.7,1421.3 1690.9,1408.9 1691.1,1402.6 1691.4,1408.9 1691.6,1427.6 1691.9,1421.3 1692.1,1421.3 1692.4,1396.4 1692.6,1427.6 1692.8,1408.9 1693.1,1408.9 1693.3,1427.6 1693.6,1402.6 1693.8,1427.6 1694,1390.2 1694.3,1402.6 1694.5,1427.6 1694.8,1384 1695,1415.1 1695.3,1421.3 1695.5,1427.6 1695.7,1408.9 1696,1415.1 1696.2,1421.3 1696.5,1408.9 1696.7,1433.8 1696.9,1402.6 1697.2,1415.1 1697.4,1415.1 1697.7,1427.6 1697.9,1427.6 1698.1,1427.6 1698.4,1408.9 1698.6,1427.6 1698.9,1421.3 1699.1,1415.1 1699.4,1427.6 1699.6,1396.4 1699.8,1384 1700.1,1415.1 1700.3,1415.1 1700.6,1408.9 1700.8,1433.8 1701,1421.3 1701.3,1415.1 1701.5,1421.3 1701.8,1408.9 1702,1415.1 1702.3,1402.6 1702.5,1402.6 1702.7,1402.6 1703,1408.9 1703.2,1408.9 1703.5,1421.3 1703.7,1415.1 1703.9,1415.1 1704.2,1396.4 1704.4,1427.6 1704.7,1427.6 1704.9,1427.6 1705.1,1415.1 1705.4,1415.1 1705.6,1427.6 1705.9,1415.1 1706.1,1421.3 1706.4,1421.3 1706.6,1421.3 1706.8,1421.3 1707.1,1408.9 1707.3,1421.3 1707.6,1427.6 1707.8,1408.9 1708,1427.6 1708.3,1421.3 1708.5,1402.6 1708.8,1402.6 1709,1402.6 1709.2,1408.9 1709.5,1421.3 1709.7,1421.3 1710,1421.3 1710.2,1421.3 1710.5,1415.1 1710.7,1427.6 1710.9,1415.1 1711.2,1421.3 1711.4,1421.3 1711.7,1427.6 1711.9,1408.9 1712.1,1427.6 1712.4,1402.6 1712.6,1408.9 1712.9,1421.3 1713.1,1433.8 1713.4,1415.1 1713.6,1421.3 1713.8,1415.1 1714.1,1408.9 1714.3,1421.3 1714.6,1427.6 1714.8,1421.3 1715,1415.1 1715.3,1408.9 1715.5,1421.3 1715.8,1408.9 1716,1396.4 1716.2,1421.3 1716.5,1433.8 1716.7,1421.3 1717,1408.9 1717.2,1427.6 1717.5,1402.6 1717.7,1408.9 1717.9,1427.6 1718.2,1421.3 1718.4,1408.9 1718.7,1402.6 1718.9,1427.6 1719.1,1415.1 1719.4,1427.6 1719.6,1408.9 1719.9,1427.6 1720.1,1408.9 1720.4,1421.3 1720.6,1408.9 1720.8,1415.1 1721.1,1390.2 1721.3,1415.1 1721.6,1421.3 1721.8,1408.9 1722,1415.1 1722.3,1421.3 1722.5,1433.8 1722.8,1402.6 1723,1415.1 1723.2,1396.4 1723.5,1421.3 1723.7,1427.6 1724,1408.9 1724.2,1408.9 1724.5,1421.3 1724.7,1408.9 1724.9,1408.9 1725.2,1415.1 1725.4,1396.4 1725.7,1390.2 1725.9,1427.6 1726.1,1433.8 1726.4,1415.1 1726.6,1402.6 1726.9,1402.6 1727.1,1421.3 1727.4,1433.8 1727.6,1421.3 1727.8,1415.1 1728.1,1390.2 1728.3,1421.3 1728.6,1415.1 1728.8,1415.1 1729,1421.3 1729.3,1433.8 1729.5,1421.3 1729.8,1402.6 1730,1427.6 1730.2,1421.3 1730.5,1433.8 1730.7,1415.1 1731,1408.9 1731.2,1408.9 1731.5,1396.4 1731.7,1415.1 1731.9,1415.1 1732.2,1408.9 1732.4,1421.3 1732.7,1415.1 1732.9,1433.8 1733.1,1421.3 1733.4,1408.9 1733.6,1433.8 1733.9,1415.1 1734.1,1427.6 1734.4,1421.3 1734.6,1421.3 1734.8,1415.1 1735.1,1408.9 1735.3,1415.1 1735.6,1402.6 1735.8,1421.3 1736,1421.3 1736.3,1427.6 1736.5,1421.3 1736.8,1421.3 1737,1396.4 1737.2,1402.6 1737.5,1415.1 1737.7,1415.1 1738,1408.9 1738.2,1421.3 1738.5,1421.3 1738.7,1384 1738.9,1390.2 1739.2,1408.9 1739.4,1408.9 1739.7,1415.1 1739.9,1415.1 1740.1,1396.4 1740.4,1433.8 1740.6,1421.3 1740.9,1427.6 1741.1,1433.8 1741.4,1421.3 1741.6,1408.9 1741.8,1415.1 1742.1,1415.1 1742.3,1433.8 1742.6,1408.9 1742.8,1408.9 1743,1421.3 1743.3,1402.6 1743.5,1421.3 1743.8,1415.1 1744,1390.2 1744.2,1421.3 1744.5,1427.6 1744.7,1408.9 1745,1427.6 1745.2,1415.1 1745.5,1421.3 1745.7,1421.3 1745.9,1433.8 1746.2,1415.1 1746.4,1408.9 1746.7,1415.1 1746.9,1427.6 1747.1,1415.1 1747.4,1427.6 1747.6,1421.3 1747.9,1396.4 1748.1,1415.1 1748.4,1433.8 1748.6,1427.6 1748.8,1415.1 1749.1,1433.8 1749.3,1421.3 1749.6,1415.1 1749.8,1408.9 1750,1427.6 1750.3,1415.1 1750.5,1421.3 1750.8,1421.3 1751,1396.4 1751.2,1396.4 1751.5,1415.1 1751.7,1402.6 1752,1402.6 1752.2,1421.3 1752.5,1427.6 1752.7,1408.9 1752.9,1408.9 1753.2,1408.9 1753.4,1421.3 1753.7,1421.3 1753.9,1402.6 1754.1,1396.4 1754.4,1390.2 1754.6,1421.3 1754.9,1415.1 1755.1,1433.8 1755.4,1384 1755.6,1408.9 1755.8,1390.2 1756.1,1408.9 1756.3,1415.1 1756.6,1433.8 1756.8,1421.3 1757,1408.9 1757.3,1408.9 1757.5,1427.6 1757.8,1402.6 1758,1421.3 1758.2,1421.3 1758.5,1427.6 1758.7,1408.9 1759,1421.3 1759.2,1421.3 1759.5,1421.3 1759.7,1408.9 1759.9,1421.3 1760.2,1384 1760.4,1421.3 1760.7,1415.1 1760.9,1433.8 1761.1,1427.6 1761.4,1396.4 1761.6,1421.3 1761.9,1433.8 1762.1,1396.4 1762.4,1433.8 1762.6,1421.3 1762.8,1427.6 1763.1,1415.1 1763.3,1421.3 1763.6,1390.2 1763.8,1427.6 1764,1421.3 1764.3,1427.6 1764.5,1421.3 1764.8,1415.1 1765,1402.6 1765.2,1415.1 1765.5,1427.6 1765.7,1427.6 1766,1421.3 1766.2,1415.1 1766.5,1415.1 1766.7,1421.3 1766.9,1427.6 1767.2,1421.3 1767.4,1427.6 1767.7,1427.6 1767.9,1421.3 1768.1,1402.6 1768.4,1415.1 1768.6,1402.6 1768.9,1433.8 1769.1,1408.9 1769.4,1427.6 1769.6,1421.3 1769.8,1421.3 1770.1,1415.1 1770.3,1408.9 1770.6,1408.9 1770.8,1427.6 1771,1390.2 1771.3,1402.6 1771.5,1402.6 1771.8,1408.9 1772,1415.1 1772.2,1408.9 1772.5,1415.1 1772.7,1421.3 1773,1421.3 1773.2,1396.4 1773.5,1408.9 1773.7,1427.6 1773.9,1433.8 1774.2,1396.4 1774.4,1402.6 1774.7,1427.6 1774.9,1408.9 1775.1,1396.4 1775.4,1408.9 1775.6,1421.3 1775.9,1402.6 1776.1,1415.1 1776.4,1427.6 1776.6,1402.6 1776.8,1408.9 1777.1,1421.3 1777.3,1427.6 1777.6,1415.1 1777.8,1415.1 1778,1427.6 1778.3,1408.9 1778.5,1384 1778.8,1390.2 1779,1408.9 1779.2,1421.3 1779.5,1427.6 1779.7,1408.9 1780,1408.9 1780.2,1415.1 1780.5,1421.3 1780.7,1408.9 1780.9,1390.2 1781.2,1427.6 1781.4,1421.3 1781.7,1396.4 1781.9,1402.6 1782.1,1421.3 1782.4,1402.6 1782.6,1396.4 1782.9,1408.9 1783.1,1408.9 1783.4,1396.4 1783.6,1421.3 1783.8,1408.9 1784.1,1402.6 1784.3,1384 1784.6,1402.6 1784.8,1384 1785,1402.6 1785.3,1408.9 1785.5,1408.9 1785.8,1384 1786,1427.6 1786.2,1408.9 1786.5,1408.9 1786.7,1402.6 1787,1408.9 1787.2,1415.1 1787.5,1384 1787.7,1396.4 1787.9,1384 1788.2,1408.9 1788.4,1396.4 1788.7,1396.4 1788.9,1408.9 1789.1,1408.9 1789.4,1390.2 1789.6,1421.3 1789.9,1415.1 1790.1,1415.1 1790.4,1402.6 1790.6,1384 1790.8,1390.2 1791.1,1402.6 1791.3,1377.7 1791.6,1402.6 1791.8,1402.6 1792,1390.2 1792.3,1359 1792.5,1402.6 1792.8,1415.1 1793,1421.3 1793.2,1402.6 1793.5,1371.5 1793.7,1384 1794,1377.7 1794.2,1371.5 1794.5,1408.9 1794.7,1340.3 1794.9,1402.6 1795.2,1365.3 1795.4,1396.4 1795.7,1346.6 1795.9,1402.6 1796.1,1352.8 1796.4,1390.2 1796.6,1402.6 1796.9,1402.6 1797.1,1390.2 1797.4,1371.5 1797.6,1402.6 1797.8,1390.2 1798.1,1377.7 1798.3,1390.2 1798.6,1371.5 1798.8,1377.7 1799,1365.3 1799.3,1390.2 1799.5,1384 1799.8,1365.3 1800,1396.4 1800.2,1327.9 1800.5,1377.7 1800.7,1390.2 1801,1340.3 1801.2,1396.4 1801.5,1340.3 1801.7,1408.9 1801.9,1396.4 1802.2,1384 1802.4,1396.4 1802.7,1346.6 1802.9,1408.9 1803.1,1365.3 1803.4,1340.3 1803.6,1371.5 1803.9,1396.4 1804.1,1384 1804.4,1402.6 1804.6,1396.4 1804.8,1384 1805.1,1390.2 1805.3,1396.4 1805.6,1415.1 1805.8,1377.7 1806,1371.5 1806.3,1421.3 1806.5,1402.6 1806.8,1396.4 1807,1390.2 1807.2,1384 1807.5,1421.3 1807.7,1408.9 1808,1384 1808.2,1384 1808.5,1390.2 1808.7,1371.5 1808.9,1377.7 1809.2,1384 1809.4,1390.2 1809.7,1390.2 1809.9,1396.4 1810.1,1390.2 1810.4,1415.1 1810.6,1384 1810.9,1396.4 1811.1,1402.6 1811.4,1415.1 1811.6,1384 1811.8,1402.6 1812.1,1371.5 1812.3,1402.6 1812.6,1384 1812.8,1408.9 1813,1427.6 1813.3,1396.4 1813.5,1390.2 1813.8,1402.6 1814,1402.6 1814.2,1390.2 1814.5,1415.1 1814.7,1396.4 1815,1384 1815.2,1390.2 1815.5,1415.1 1815.7,1390.2 1815.9,1396.4 1816.2,1402.6 1816.4,1377.7 1816.7,1415.1 1816.9,1427.6 1817.1,1415.1 1817.4,1384 1817.6,1402.6 1817.9,1384 1818.1,1427.6 1818.4,1402.6 1818.6,1402.6 1818.8,1408.9 1819.1,1433.8 1819.3,1390.2 1819.6,1415.1 1819.8,1402.6 1820,1408.9 1820.3,1427.6 1820.5,1421.3 1820.8,1415.1 1821,1390.2 1821.2,1402.6 1821.5,1402.6 1821.7,1427.6 1822,1402.6 1822.2,1415.1 1822.5,1402.6 1822.7,1415.1 1822.9,1408.9 1823.2,1390.2 1823.4,1396.4 1823.7,1390.2 1823.9,1421.3 1824.1,1408.9 1824.4,1427.6 1824.6,1408.9 1824.9,1408.9 1825.1,1408.9 1825.4,1408.9 1825.6,1408.9 1825.8,1421.3 1826.1,1427.6 1826.3,1390.2 1826.6,1402.6 1826.8,1427.6 1827,1427.6 1827.3,1427.6 1827.5,1433.8 1827.8,1402.6 1828,1415.1 1828.2,1421.3 1828.5,1402.6 1828.7,1421.3 1829,1408.9 1829.2,1427.6 1829.5,1408.9 1829.7,1402.6 1829.9,1402.6 1830.2,1421.3 1830.4,1415.1 1830.7,1402.6 1830.9,1421.3 1831.1,1415.1 1831.4,1421.3 1831.6,1421.3 1831.9,1402.6 1832.1,1402.6 1832.4,1421.3 1832.6,1408.9 1832.8,1433.8 1833.1,1415.1 1833.3,1415.1 1833.6,1402.6 1833.8,1415.1 1834,1421.3 1834.3,1408.9 1834.5,1433.8 1834.8,1421.3 1835,1421.3 1835.2,1433.8 1835.5,1427.6 1835.7,1408.9 1836,1408.9 1836.2,1408.9 1836.5,1408.9 1836.7,1408.9 1836.9,1427.6 1837.2,1421.3 1837.4,1421.3 1837.7,1415.1 1837.9,1415.1 1838.1,1415.1 1838.4,1384 1838.6,1421.3 1838.9,1421.3 1839.1,1433.8 1839.4,1433.8 1839.6,1415.1 1839.8,1433.8 1840.1,1408.9 1840.3,1415.1 1840.6,1408.9 1840.8,1415.1 1841,1421.3 1841.3,1421.3 1841.5,1415.1 1841.8,1402.6 1842,1408.9 1842.2,1396.4 1842.5,1402.6 1842.7,1421.3 1843,1415.1 1843.2,1421.3 1843.5,1402.6 1843.7,1427.6 1843.9,1433.8 1844.2,1415.1 1844.4,1415.1 1844.7,1415.1 1844.9,1408.9 1845.1,1396.4 1845.4,1421.3 1845.6,1384 1845.9,1415.1 1846.1,1427.6 1846.4,1427.6 1846.6,1402.6 1846.8,1408.9 1847.1,1421.3 1847.3,1408.9 1847.6,1421.3 1847.8,1421.3 1848,1427.6 1848.3,1396.4 1848.5,1421.3 1848.8,1415.1 1849,1408.9 1849.2,1433.8 1849.5,1408.9 1849.7,1421.3 1850,1427.6 1850.2,1427.6 1850.5,1408.9 1850.7,1396.4 1850.9,1427.6 1851.2,1415.1 1851.4,1408.9 1851.7,1421.3 1851.9,1396.4 1852.1,1415.1 1852.4,1433.8 1852.6,1421.3 1852.9,1408.9 1853.1,1415.1 1853.4,1433.8 1853.6,1421.3 1853.8,1421.3 1854.1,1415.1 1854.3,1415.1 1854.6,1421.3 1854.8,1421.3 1855,1421.3 1855.3,1421.3 1855.5,1421.3 1855.8,1427.6 1856,1421.3 1856.2,1421.3 1856.5,1427.6 1856.7,1396.4 1857,1415.1 1857.2,1415.1 1857.5,1415.1 1857.7,1415.1 1857.9,1390.2 1858.2,1421.3 1858.4,1427.6 1858.7,1421.3 1858.9,1421.3 1859.1,1427.6 1859.4,1427.6 1859.6,1396.4 1859.9,1421.3 1860.1,1427.6 1860.4,1421.3 1860.6,1433.8 1860.8,1415.1 1861.1,1408.9 1861.3,1427.6 1861.6,1415.1 1861.8,1421.3 1862,1421.3 1862.3,1421.3 1862.5,1415.1 1862.8,1427.6 1863,1408.9 1863.2,1421.3 1863.5,1427.6 1863.7,1415.1 1864,1408.9 1864.2,1415.1 1864.5,1415.1 1864.7,1415.1 1864.9,1390.2 1865.2,1415.1 1865.4,1415.1 1865.7,1415.1 1865.9,1433.8 1866.1,1421.3 1866.4,1421.3 1866.6,1415.1 1866.9,1402.6 1867.1,1421.3 1867.4,1433.8 1867.6,1433.8 1867.8,1408.9 1868.1,1408.9 1868.3,1415.1 1868.6,1433.8 1868.8,1415.1 1869,1408.9 1869.3,1402.6 1869.5,1402.6 1869.8,1402.6 1870,1384 1870.2,1396.4 1870.5,1415.1 1870.7,1415.1 1871,1408.9 1871.2,1427.6 1871.5,1433.8 1871.7,1427.6 1871.9,1433.8 1872.2,1421.3 1872.4,1427.6 1872.7,1415.1 1872.9,1415.1 1873.1,1415.1 1873.4,1408.9 1873.6,1421.3 1873.9,1402.6 1874.1,1402.6 1874.4,1427.6 1874.6,1415.1 1874.8,1433.8 1875.1,1427.6 1875.3,1421.3 1875.6,1421.3 1875.8,1421.3 1876,1433.8 1876.3,1427.6 1876.5,1415.1 1876.8,1408.9 1877,1408.9 1877.2,1421.3 1877.5,1421.3 1877.7,1421.3 1878,1415.1 1878.2,1427.6 1878.5,1415.1 1878.7,1427.6 1878.9,1421.3 1879.2,1415.1 1879.4,1402.6 1879.7,1427.6 1879.9,1427.6 1880.1,1421.3 1880.4,1427.6 1880.6,1421.3 1880.9,1427.6 1881.1,1421.3 1881.4,1421.3 1881.6,1421.3 1881.8,1421.3 1882.1,1396.4 1882.3,1427.6 1882.6,1427.6 1882.8,1427.6 1883,1402.6 1883.3,1421.3 1883.5,1427.6 1883.8,1427.6 1884,1402.6 1884.2,1427.6 1884.5,1427.6 1884.7,1427.6 1885,1421.3 1885.2,1421.3 1885.5,1415.1 1885.7,1421.3 1885.9,1390.2 1886.2,1402.6 1886.4,1427.6 1886.7,1421.3 1886.9,1421.3 1887.1,1415.1 1887.4,1421.3 1887.6,1421.3 1887.9,1408.9 1888.1,1421.3 1888.4,1408.9 1888.6,1427.6 1888.8,1396.4 1889.1,1427.6 1889.3,1396.4 1889.6,1427.6 1889.8,1408.9 1890,1421.3 1890.3,1408.9 1890.5,1408.9 1890.8,1427.6 1891,1415.1 1891.2,1408.9 1891.5,1415.1 1891.7,1427.6 1892,1402.6 1892.2,1421.3 1892.5,1415.1 1892.7,1408.9 1892.9,1415.1 1893.2,1427.6 1893.4,1433.8 1893.7,1408.9 1893.9,1415.1 1894.1,1415.1 1894.4,1415.1 1894.6,1408.9 1894.9,1402.6 1895.1,1415.1 1895.4,1402.6 1895.6,1433.8 1895.8,1421.3 1896.1,1415.1 1896.3,1427.6 1896.6,1421.3 1896.8,1408.9 1897,1402.6 1897.3,1402.6 1897.5,1415.1 1897.8,1402.6 1898,1408.9 1898.2,1427.6 1898.5,1415.1 1898.7,1408.9 1899,1402.6 1899.2,1384 1899.5,1415.1 1899.7,1433.8 1899.9,1427.6 1900.2,1390.2 1900.4,1415.1 1900.7,1427.6 1900.9,1421.3 1901.1,1427.6 1901.4,1402.6 1901.6,1421.3 1901.9,1427.6 1902.1,1390.2 1902.3,1427.6 1902.6,1415.1 1902.8,1427.6 1903.1,1421.3 1903.3,1415.1 1903.6,1433.8 1903.8,1408.9 1904,1408.9 1904.3,1421.3 1904.5,1408.9 1904.8,1402.6 1905,1427.6 1905.2,1408.9 1905.5,1433.8 1905.7,1408.9 1906,1415.1 1906.2,1421.3 1906.5,1421.3 1906.7,1421.3 1906.9,1408.9 1907.2,1408.9 1907.4,1408.9 1907.7,1408.9 1907.9,1415.1 1908.1,1402.6 1908.4,1384 1908.6,1415.1 1908.9,1427.6 1909.1,1427.6 1909.3,1402.6 1909.6,1415.1 1909.8,1427.6 1910.1,1408.9 1910.3,1421.3 1910.6,1421.3 1910.8,1427.6 1911,1427.6 1911.3,1427.6 1911.5,1421.3 1911.8,1421.3 1912,1415.1 1912.2,1433.8 1912.5,1427.6 1912.7,1408.9 1913,1408.9 1913.2,1415.1 1913.5,1421.3 1913.7,1396.4 1913.9,1415.1 1914.2,1408.9 1914.4,1421.3 1914.7,1421.3 1914.9,1415.1 1915.1,1421.3 1915.4,1433.8 1915.6,1427.6 1915.9,1421.3 1916.1,1427.6 1916.3,1415.1 1916.6,1402.6 1916.8,1415.1 1917.1,1408.9 1917.3,1421.3 1917.6,1402.6 1917.8,1415.1 1918,1408.9 1918.3,1427.6 1918.5,1415.1 1918.8,1421.3 1919,1415.1 1919.2,1421.3 1919.5,1396.4 1919.7,1415.1 1920,1427.6 1920.2,1433.8 1920.5,1415.1 1920.7,1396.4 1920.9,1427.6 1921.2,1415.1 1921.4,1415.1 1921.7,1408.9 1921.9,1408.9 1922.1,1402.6 1922.4,1402.6 1922.6,1427.6 1922.9,1408.9 1923.1,1421.3 1923.3,1402.6 1923.6,1402.6 1923.8,1433.8 1924.1,1408.9 1924.3,1408.9 1924.6,1402.6 1924.8,1402.6 1925,1408.9 1925.3,1421.3 1925.5,1396.4 1925.8,1421.3 1926,1427.6 1926.2,1421.3 1926.5,1415.1 1926.7,1433.8 1927,1421.3 1927.2,1390.2 1927.5,1427.6 1927.7,1390.2 1927.9,1402.6 1928.2,1427.6 1928.4,1402.6 1928.7,1421.3 1928.9,1421.3 1929.1,1415.1 1929.4,1390.2 1929.6,1421.3 1929.9,1421.3 1930.1,1415.1 1930.3,1390.2 1930.6,1421.3 1930.8,1408.9 1931.1,1427.6 1931.3,1396.4 1931.6,1415.1 1931.8,1402.6 1932,1433.8 1932.3,1408.9 1932.5,1427.6 1932.8,1415.1 1933,1415.1 1933.2,1384 1933.5,1421.3 1933.7,1415.1 1934,1408.9 1934.2,1408.9 1934.5,1396.4 1934.7,1415.1 1934.9,1427.6 1935.2,1415.1 1935.4,1408.9 1935.7,1402.6 1935.9,1433.8 1936.1,1415.1 1936.4,1415.1 1936.6,1408.9 1936.9,1396.4 1937.1,1415.1 1937.3,1421.3 1937.6,1415.1 1937.8,1415.1 1938.1,1384 1938.3,1415.1 1938.6,1415.1 1938.8,1396.4 1939,1415.1 1939.3,1421.3 1939.5,1421.3 1939.8,1390.2 1940,1421.3 1940.2,1415.1 1940.5,1421.3 1940.7,1408.9 1941,1396.4 1941.2,1427.6 1941.5,1402.6 1941.7,1408.9 1941.9,1427.6 1942.2,1433.8 1942.4,1421.3 1942.7,1390.2 1942.9,1402.6 1943.1,1396.4 1943.4,1415.1 1943.6,1415.1 1943.9,1408.9 1944.1,1396.4 1944.3,1365.3 1944.6,1415.1 1944.8,1415.1 1945.1,1415.1 1945.3,1415.1 1945.6,1396.4 1945.8,1421.3 1946,1365.3 1946.3,1408.9 1946.5,1390.2 1946.8,1402.6 1947,1427.6 1947.2,1408.9 1947.5,1408.9 1947.7,1427.6 1948,1402.6 1948.2,1402.6 1948.5,1421.3 1948.7,1415.1 1948.9,1396.4 1949.2,1427.6 1949.4,1408.9 1949.7,1415.1 1949.9,1427.6 1950.1,1408.9 1950.4,1396.4 1950.6,1415.1 1950.9,1390.2 1951.1,1421.3 1951.3,1402.6 1951.6,1421.3 1951.8,1408.9 1952.1,1427.6 1952.3,1408.9 1952.6,1415.1 1952.8,1396.4 1953,1402.6 1953.3,1402.6 1953.5,1421.3 1953.8,1408.9 1954,1421.3 1954.2,1396.4 1954.5,1415.1 1954.7,1421.3 1955,1408.9 1955.2,1421.3 1955.5,1415.1 1955.7,1377.7 1955.9,1415.1 1956.2,1396.4 1956.4,1396.4 1956.7,1396.4 1956.9,1384 1957.1,1402.6 1957.4,1402.6 1957.6,1415.1 1957.9,1402.6 1958.1,1390.2 1958.3,1421.3 1958.6,1415.1 1958.8,1415.1 1959.1,1390.2 1959.3,1402.6 1959.6,1396.4 1959.8,1421.3 1960,1402.6 1960.3,1402.6 1960.5,1421.3 1960.8,1415.1 1961,1384 1961.2,1408.9 1961.5,1415.1 1961.7,1408.9 1962,1402.6 1962.2,1377.7 1962.5,1396.4 1962.7,1408.9 1962.9,1427.6 1963.2,1415.1 1963.4,1402.6 1963.7,1371.5 1963.9,1408.9 1964.1,1415.1 1964.4,1396.4 1964.6,1396.4 1964.9,1377.7 1965.1,1390.2 1965.3,1352.8 1965.6,1390.2 1965.8,1396.4 1966.1,1402.6 1966.3,1402.6 1966.6,1390.2 1966.8,1402.6 1967,1384 1967.3,1346.6 1967.5,1390.2 1967.8,1359 1968,1402.6 1968.2,1402.6 1968.5,1396.4 1968.7,1384 1969,1377.7 1969.2,1377.7 1969.5,1371.5 1969.7,1359 1969.9,1421.3 1970.2,1371.5 1970.4,1408.9 1970.7,1396.4 1970.9,1396.4 1971.1,1371.5 1971.4,1371.5 1971.6,1352.8 1971.9,1396.4 1972.1,1334.1 1972.3,1346.6 1972.6,1365.3 1972.8,1352.8 1973.1,1390.2 1973.3,1396.4 1973.6,1390.2 1973.8,1371.5 1974,1371.5 1974.3,1352.8 1974.5,1365.3 1974.8,1390.2 1975,1390.2 1975.2,1377.7 1975.5,1377.7 1975.7,1390.2 1976,1384 1976.2,1352.8 1976.5,1371.5 1976.7,1384 1976.9,1371.5 1977.2,1377.7 1977.4,1365.3 1977.7,1365.3 1977.9,1352.8 1978.1,1321.6 1978.4,1346.6 1978.6,1302.9 1978.9,1334.1 1979.1,1340.3 1979.3,1327.9 1979.6,1302.9 1979.8,1396.4 1980.1,1321.6 1980.3,1327.9 1980.6,1359 1980.8,1352.8 1981,1334.1 1981.3,1340.3 1981.5,1346.6 1981.8,1265.6 1982,1384 1982.2,1309.2 1982.5,1315.4 1982.7,1309.2 1983,1302.9 1983.2,1327.9 1983.5,1321.6 1983.7,1340.3 1983.9,1321.6 1984.2,1278 1984.4,1321.6 1984.7,1315.4 1984.9,1259.3 1985.1,1284.3 1985.4,1321.6 1985.6,1284.3 1985.9,1315.4 1986.1,1265.6 1986.3,1290.5 1986.6,1290.5 1986.8,1290.5 1987.1,1259.3 1987.3,1359 1987.6,1246.9 1987.8,1253.1 1988,1296.7 1988.3,1290.5 1988.5,1290.5 1988.8,1302.9 1989,1240.6 1989.2,1259.3 1989.5,1334.1 1989.7,1246.9 1990,1246.9 1990.2,1278 1990.5,1246.9 1990.7,1259.3 1990.9,1190.8 1991.2,1290.5 1991.4,1228.2 1991.7,1278 1991.9,1234.4 1992.1,1240.6 1992.4,1309.2 1992.6,1253.1 1992.9,1221.9 1993.1,1240.6 1993.3,1140.9 1993.6,1215.7 1993.8,1265.6 1994.1,1290.5 1994.3,1315.4 1994.6,1221.9 1994.8,1296.7 1995,1259.3 1995.3,1284.3 1995.5,1259.3 1995.8,1221.9 1996,1278 1996.2,1296.7 1996.5,1290.5 1996.7,1278 1997,1265.6 1997.2,1271.8 1997.5,1234.4 1997.7,1302.9 1997.9,1228.2 1998.2,1309.2 1998.4,1240.6 1998.7,1327.9 1998.9,1296.7 1999.1,1228.2 1999.4,1321.6 1999.6,1290.5 1999.9,1296.7 2000.1,1315.4 2000.3,1259.3 2000.6,1296.7 2000.8,1309.2 2001.1,1334.1 2001.3,1327.9 2001.6,1290.5 2001.8,1340.3 2002,1271.8 2002.3,1346.6 2002.5,1371.5 2002.8,1340.3 2003,1284.3 2003.2,1334.1 2003.5,1315.4 2003.7,1346.6 2004,1352.8 2004.2,1334.1 2004.5,1359 2004.7,1365.3 2004.9,1352.8 2005.2,1334.1 2005.4,1327.9 2005.7,1346.6 2005.9,1290.5 2006.1,1340.3 2006.4,1321.6 2006.6,1365.3 2006.9,1327.9 2007.1,1327.9 2007.3,1315.4 2007.6,1352.8 2007.8,1384 2008.1,1365.3 2008.3,1340.3 2008.6,1346.6 2008.8,1352.8 2009,1377.7 2009.3,1365.3 2009.5,1365.3 2009.8,1371.5 2010,1371.5 2010.2,1359 2010.5,1365.3 2010.7,1352.8 2011,1384 2011.2,1346.6 2011.5,1334.1 2011.7,1365.3 2011.9,1359 2012.2,1377.7 2012.4,1396.4 2012.7,1377.7 2012.9,1359 2013.1,1384 2013.4,1365.3 2013.6,1390.2 2013.9,1352.8 2014.1,1377.7 2014.3,1384 2014.6,1402.6 2014.8,1377.7 2015.1,1384 2015.3,1365.3 2015.6,1359 2015.8,1408.9 2016,1371.5 2016.3,1352.8 2016.5,1390.2 2016.8,1384 2017,1371.5 2017.2,1408.9 2017.5,1408.9 2017.7,1390.2 2018,1359 2018.2,1390.2 2018.5,1384 2018.7,1390.2 2018.9,1390.2 2019.2,1390.2 2019.4,1415.1 2019.7,1390.2 2019.9,1371.5 2020.1,1415.1 2020.4,1408.9 2020.6,1396.4 2020.9,1402.6 2021.1,1421.3 2021.3,1384 2021.6,1359 2021.8,1390.2 2022.1,1402.6 2022.3,1390.2 2022.6,1396.4 2022.8,1384 2023,1421.3 2023.3,1384 2023.5,1371.5 2023.8,1377.7 2024,1396.4 2024.2,1402.6 2024.5,1415.1 2024.7,1396.4 2025,1384 2025.2,1408.9 2025.5,1415.1 2025.7,1415.1 2025.9,1415.1 2026.2,1390.2 2026.4,1408.9 2026.7,1402.6 2026.9,1384 2027.1,1365.3 2027.4,1415.1 2027.6,1408.9 2027.9,1396.4 2028.1,1402.6 2028.3,1402.6 2028.6,1371.5 2028.8,1408.9 2029.1,1415.1 2029.3,1415.1 2029.6,1402.6 2029.8,1408.9 2030,1402.6 2030.3,1396.4 2030.5,1402.6 2030.8,1408.9 2031,1427.6 2031.2,1408.9 2031.5,1390.2 2031.7,1415.1 2032,1396.4 2032.2,1421.3 2032.5,1396.4 2032.7,1421.3 2032.9,1402.6 2033.2,1408.9 2033.4,1421.3 2033.7,1396.4 2033.9,1390.2 2034.1,1396.4 2034.4,1402.6 2034.6,1402.6 2034.9,1402.6 2035.1,1415.1 2035.3,1384 2035.6,1396.4 2035.8,1396.4 2036.1,1396.4 2036.3,1408.9 2036.6,1408.9 2036.8,1396.4 2037,1415.1 2037.3,1408.9 2037.5,1396.4 2037.8,1415.1 2038,1396.4 2038.2,1408.9 2038.5,1384 2038.7,1415.1 2039,1421.3 2039.2,1365.3 2039.5,1396.4 2039.7,1415.1 2039.9,1402.6 2040.2,1427.6 2040.4,1402.6 2040.7,1408.9 2040.9,1402.6 2041.1,1415.1 2041.4,1396.4 2041.6,1421.3 2041.9,1396.4 2042.1,1408.9 2042.3,1408.9 2042.6,1408.9 2042.8,1390.2 2043.1,1396.4 2043.3,1415.1 2043.6,1421.3 2043.8,1396.4 2044,1408.9 2044.3,1415.1 2044.5,1396.4 2044.8,1408.9 2045,1421.3 2045.2,1415.1 2045.5,1402.6 2045.7,1421.3 2046,1390.2 2046.2,1415.1 2046.5,1421.3 2046.7,1390.2 2046.9,1402.6 2047.2,1396.4 2047.4,1427.6 2047.7,1402.6 2047.9,1402.6 2048.1,1415.1 2048.4,1421.3 2048.6,1396.4 2048.9,1384 2049.1,1415.1 2049.3,1421.3 2049.6,1396.4 2049.8,1421.3 2050.1,1390.2 2050.3,1421.3 2050.6,1408.9 2050.8,1415.1 2051,1402.6 2051.3,1396.4 2051.5,1408.9 2051.8,1408.9 2052,1402.6 2052.2,1415.1 2052.5,1421.3 2052.7,1421.3 2053,1421.3 2053.2,1402.6 2053.5,1427.6 2053.7,1415.1 2053.9,1377.7 2054.2,1396.4 2054.4,1390.2 2054.7,1427.6 2054.9,1402.6 2055.1,1402.6 2055.4,1421.3 2055.6,1408.9 2055.9,1384 2056.1,1421.3 2056.3,1415.1 2056.6,1408.9 2056.8,1402.6 2057.1,1415.1 2057.3,1427.6 2057.6,1415.1 2057.8,1415.1 2058,1402.6 2058.3,1402.6 2058.5,1427.6 2058.8,1421.3 2059,1427.6 2059.2,1396.4 2059.5,1402.6 2059.7,1415.1 2060,1396.4 2060.2,1402.6 2060.5,1427.6 2060.7,1402.6 2060.9,1402.6 2061.2,1415.1 2061.4,1408.9 2061.7,1408.9 2061.9,1402.6 2062.1,1415.1 2062.4,1421.3 2062.6,1421.3 2062.9,1433.8 2063.1,1415.1 2063.3,1421.3 2063.6,1396.4 2063.8,1415.1 2064.1,1421.3 2064.3,1415.1 2064.6,1390.2 2064.8,1390.2 2065,1408.9 2065.3,1421.3 2065.5,1421.3 2065.8,1415.1 2066,1433.8 2066.2,1390.2 2066.5,1402.6 2066.7,1421.3 2067,1421.3 2067.2,1390.2 2067.5,1402.6 2067.7,1415.1 2067.9,1415.1 2068.2,1415.1 2068.4,1421.3 2068.7,1427.6 2068.9,1390.2 2069.1,1427.6 2069.4,1408.9 2069.6,1408.9 2069.9,1408.9 2070.1,1415.1 2070.3,1421.3 2070.6,1415.1 2070.8,1402.6 2071.1,1396.4 2071.3,1415.1 2071.6,1427.6 2071.8,1408.9 2072,1396.4 2072.3,1415.1 2072.5,1415.1 2072.8,1396.4 2073,1408.9 2073.2,1402.6 2073.5,1421.3 2073.7,1421.3 2074,1402.6 2074.2,1415.1 2074.5,1415.1 2074.7,1377.7 2074.9,1408.9 2075.2,1408.9 2075.4,1415.1 2075.7,1421.3 2075.9,1415.1 2076.1,1408.9 2076.4,1421.3 2076.6,1427.6 2076.9,1421.3 2077.1,1402.6 2077.3,1415.1 2077.6,1421.3 2077.8,1415.1 2078.1,1402.6 2078.3,1408.9 2078.6,1408.9 2078.8,1421.3 2079,1421.3 2079.3,1415.1 2079.5,1421.3 2079.8,1396.4 2080,1415.1 2080.2,1390.2 2080.5,1408.9 2080.7,1408.9 2081,1415.1 2081.2,1396.4 2081.5,1408.9 2081.7,1427.6 2081.9,1427.6 2082.2,1421.3 2082.4,1402.6 2082.7,1402.6 2082.9,1402.6 2083.1,1384 2083.4,1408.9 2083.6,1402.6 2083.9,1421.3 2084.1,1421.3 2084.3,1408.9 2084.6,1396.4 2084.8,1384 2085.1,1415.1 2085.3,1421.3 2085.6,1402.6 2085.8,1421.3 2086,1408.9 2086.3,1402.6 2086.5,1415.1 2086.8,1402.6 2087,1396.4 2087.2,1433.8 2087.5,1402.6 2087.7,1433.8 2088,1402.6 2088.2,1415.1 2088.5,1402.6 2088.7,1415.1 2088.9,1415.1 2089.2,1415.1 2089.4,1408.9 2089.7,1390.2 2089.9,1396.4 2090.1,1433.8 2090.4,1402.6 2090.6,1415.1 2090.9,1396.4 2091.1,1415.1 2091.3,1408.9 2091.6,1396.4 2091.8,1390.2 2092.1,1421.3 2092.3,1415.1 2092.6,1408.9 2092.8,1396.4 2093,1415.1 2093.3,1421.3 2093.5,1390.2 2093.8,1421.3 2094,1415.1 2094.2,1402.6 2094.5,1408.9 2094.7,1390.2 2095,1415.1 2095.2,1390.2 2095.4,1408.9 2095.7,1415.1 2095.9,1402.6 2096.2,1415.1 2096.4,1415.1 2096.7,1402.6 2096.9,1415.1 2097.1,1408.9 2097.4,1384 2097.6,1402.6 2097.9,1415.1 2098.1,1402.6 2098.3,1384 2098.6,1408.9 2098.8,1390.2 2099.1,1415.1 2099.3,1396.4 2099.6,1415.1 2099.8,1415.1 2100,1402.6 2100.3,1408.9 2100.5,1415.1 2100.8,1396.4 2101,1402.6 2101.2,1402.6 2101.5,1415.1 2101.7,1415.1 2102,1377.7 2102.2,1396.4 2102.4,1408.9 2102.7,1402.6 2102.9,1377.7 2103.2,1408.9 2103.4,1402.6 2103.7,1396.4 2103.9,1396.4 2104.1,1408.9 2104.4,1415.1 2104.6,1390.2 2104.9,1396.4 2105.1,1402.6 2105.3,1377.7 2105.6,1402.6 2105.8,1377.7 2106.1,1402.6 2106.3,1377.7 2106.6,1396.4 2106.8,1396.4 2107,1402.6 2107.3,1390.2 2107.5,1408.9 2107.8,1421.3 2108,1384 2108.2,1402.6 2108.5,1390.2 2108.7,1390.2 2109,1402.6 2109.2,1421.3 2109.4,1377.7 2109.7,1396.4 2109.9,1396.4 2110.2,1390.2 2110.4,1402.6 2110.7,1384 2110.9,1377.7 2111.1,1396.4 2111.4,1396.4 2111.6,1365.3 2111.9,1359 2112.1,1384 2112.3,1396.4 2112.6,1390.2 2112.8,1377.7 2113.1,1346.6 2113.3,1334.1 2113.6,1402.6 2113.8,1390.2 2114,1365.3 2114.3,1359 2114.5,1384 2114.8,1402.6 2115,1390.2 2115.2,1384 2115.5,1365.3 2115.7,1340.3 2116,1377.7 2116.2,1384 2116.4,1371.5 2116.7,1402.6 2116.9,1390.2 2117.2,1365.3 2117.4,1384 2117.7,1371.5 2117.9,1377.7 2118.1,1359 2118.4,1365.3 2118.6,1384 2118.9,1359 2119.1,1384 2119.3,1346.6 2119.6,1402.6 2119.8,1327.9 2120.1,1371.5 2120.3,1377.7 2120.6,1377.7 2120.8,1346.6 2121,1371.5 2121.3,1396.4 2121.5,1371.5 2121.8,1408.9 2122,1371.5 2122.2,1402.6 2122.5,1340.3 2122.7,1390.2 2123,1359 2123.2,1377.7 2123.4,1402.6 2123.7,1384 2123.9,1415.1 2124.2,1371.5 2124.4,1384 2124.7,1371.5 2124.9,1390.2 2125.1,1377.7 2125.4,1352.8 2125.6,1371.5 2125.9,1371.5 2126.1,1359 2126.3,1371.5 2126.6,1396.4 2126.8,1402.6 2127.1,1396.4 2127.3,1384 2127.6,1365.3 2127.8,1377.7 2128,1390.2 2128.3,1371.5 2128.5,1402.6 2128.8,1408.9 2129,1408.9 2129.2,1415.1 2129.5,1408.9 2129.7,1377.7 2130,1402.6 2130.2,1365.3 2130.4,1384 2130.7,1384 2130.9,1384 2131.2,1408.9 2131.4,1377.7 2131.7,1377.7 2131.9,1396.4 2132.1,1415.1 2132.4,1377.7 2132.6,1396.4 2132.9,1402.6 2133.1,1402.6 2133.3,1384 2133.6,1384 2133.8,1396.4 2134.1,1384 2134.3,1402.6 2134.6,1402.6 2134.8,1402.6 2135,1384 2135.3,1365.3 2135.5,1402.6 2135.8,1408.9 2136,1384 2136.2,1384 2136.5,1402.6 2136.7,1390.2 2137,1396.4 2137.2,1408.9 2137.4,1427.6 2137.7,1408.9 2137.9,1408.9 2138.2,1396.4 2138.4,1415.1 2138.7,1408.9 2138.9,1408.9 2139.1,1402.6 2139.4,1365.3 2139.6,1408.9 2139.9,1415.1 2140.1,1396.4 2140.3,1402.6 2140.6,1371.5 2140.8,1396.4 2141.1,1396.4 2141.3,1402.6 2141.6,1402.6 2141.8,1396.4 2142,1396.4 2142.3,1390.2 2142.5,1402.6 2142.8,1402.6 2143,1408.9 2143.2,1396.4 2143.5,1415.1 2143.7,1415.1 2144,1415.1 2144.2,1377.7 2144.4,1415.1 2144.7,1415.1 2144.9,1421.3 2145.2,1433.8 2145.4,1415.1 2145.7,1408.9 2145.9,1402.6 2146.1,1421.3 2146.4,1421.3 2146.6,1427.6 2146.9,1433.8 2147.1,1408.9 2147.3,1415.1 2147.6,1402.6 2147.8,1415.1 2148.1,1421.3 2148.3,1421.3 2148.6,1421.3 2148.8,1421.3 2149,1427.6 2149.3,1415.1 2149.5,1415.1 2149.8,1427.6 2150,1415.1 2150.2,1396.4 2150.5,1408.9 2150.7,1415.1 2151,1415.1 2151.2,1421.3 2151.4,1415.1 2151.7,1427.6 2151.9,1421.3 2152.2,1427.6 2152.4,1421.3 2152.7,1421.3 2152.9,1421.3 2153.1,1402.6 2153.4,1402.6 2153.6,1415.1 2153.9,1415.1 2154.1,1415.1 2154.3,1415.1 2154.6,1415.1 2154.8,1433.8 2155.1,1421.3 2155.3,1415.1 2155.6,1421.3 2155.8,1427.6 2156,1433.8 2156.3,1415.1 2156.5,1415.1 2156.8,1427.6 2157,1427.6 2157.2,1415.1 2157.5,1421.3 2157.7,1408.9 2158,1421.3 2158.2,1390.2 2158.4,1415.1 2158.7,1415.1 2158.9,1415.1 2159.2,1415.1 2159.4,1421.3 2159.7,1408.9 2159.9,1427.6 2160.1,1427.6 2160.4,1427.6 2160.6,1415.1 2160.9,1408.9 2161.1,1421.3 2161.3,1408.9 2161.6,1427.6 2161.8,1427.6 2162.1,1421.3 2162.3,1396.4 2162.6,1408.9 2162.8,1390.2 2163,1427.6 2163.3,1408.9 2163.5,1396.4 2163.8,1427.6 2164,1421.3 2164.2,1408.9 2164.5,1415.1 2164.7,1396.4 2165,1433.8 2165.2,1421.3 2165.4,1408.9 2165.7,1396.4 2165.9,1427.6 2166.2,1408.9 2166.4,1415.1 2166.7,1415.1 2166.9,1427.6 2167.1,1421.3 2167.4,1415.1 2167.6,1427.6 2167.9,1396.4 2168.1,1415.1 2168.3,1421.3 2168.6,1402.6 2168.8,1390.2 2169.1,1427.6 2169.3,1421.3 2169.6,1433.8 2169.8,1415.1 2170,1427.6 2170.3,1433.8 2170.5,1421.3 2170.8,1408.9 2171,1427.6 2171.2,1402.6 2171.5,1421.3 2171.7,1427.6 2172,1408.9 2172.2,1427.6 2172.4,1427.6 2172.7,1433.8 2172.9,1415.1 2173.2,1415.1 2173.4,1427.6 2173.7,1415.1 2173.9,1415.1 2174.1,1415.1 2174.4,1427.6 2174.6,1427.6 2174.9,1402.6 2175.1,1402.6 2175.3,1415.1 2175.6,1427.6 2175.8,1427.6 2176.1,1415.1 2176.3,1421.3 2176.6,1415.1 2176.8,1415.1 2177,1421.3 2177.3,1421.3 2177.5,1415.1 2177.8,1402.6 2178,1433.8 2178.2,1390.2 2178.5,1408.9 2178.7,1396.4 2179,1421.3 2179.2,1433.8 2179.4,1408.9 2179.7,1408.9 2179.9,1421.3 2180.2,1408.9 2180.4,1402.6 2180.7,1427.6 2180.9,1415.1 2181.1,1402.6 2181.4,1421.3 2181.6,1427.6 2181.9,1402.6 2182.1,1421.3 2182.3,1415.1 2182.6,1427.6 2182.8,1421.3 2183.1,1415.1 2183.3,1421.3 2183.6,1427.6 2183.8,1408.9 2184,1415.1 2184.3,1427.6 2184.5,1402.6 2184.8,1427.6 2185,1415.1 2185.2,1408.9 2185.5,1415.1 2185.7,1427.6 2186,1415.1 2186.2,1421.3 2186.4,1408.9 2186.7,1427.6 2186.9,1427.6 2187.2,1421.3 2187.4,1427.6 2187.7,1433.8 2187.9,1433.8 2188.1,1408.9 2188.4,1408.9 2188.6,1415.1 2188.9,1421.3 2189.1,1421.3 2189.3,1427.6 2189.6,1421.3 2189.8,1433.8 2190.1,1421.3 2190.3,1427.6 2190.6,1402.6 2190.8,1415.1 2191,1408.9 2191.3,1408.9 2191.5,1390.2 2191.8,1402.6 2192,1415.1 2192.2,1427.6 2192.5,1408.9 2192.7,1408.9 2193,1415.1 2193.2,1396.4 2193.4,1408.9 2193.7,1408.9 2193.9,1408.9 2194.2,1415.1 2194.4,1402.6 2194.7,1415.1 2194.9,1421.3 2195.1,1415.1 2195.4,1421.3 2195.6,1421.3 2195.9,1396.4 2196.1,1415.1 2196.3,1402.6 2196.6,1415.1 2196.8,1421.3 2197.1,1402.6 2197.3,1390.2 2197.6,1421.3 2197.8,1427.6 2198,1421.3 2198.3,1427.6 2198.5,1415.1 2198.8,1433.8 2199,1408.9 2199.2,1396.4 2199.5,1415.1 2199.7,1415.1 2200,1421.3 2200.2,1427.6 2200.4,1390.2 2200.7,1427.6 2200.9,1421.3 2201.2,1408.9 2201.4,1427.6 2201.7,1427.6 2201.9,1421.3 2202.1,1427.6 2202.4,1402.6 2202.6,1408.9 2202.9,1421.3 2203.1,1421.3 2203.3,1427.6 2203.6,1421.3 2203.8,1421.3 2204.1,1421.3 2204.3,1427.6 2204.6,1427.6 2204.8,1421.3 2205,1408.9 2205.3,1427.6 2205.5,1408.9 2205.8,1402.6 2206,1415.1 2206.2,1408.9 2206.5,1408.9 2206.7,1421.3 2207,1402.6 2207.2,1402.6 2207.4,1415.1 2207.7,1427.6 2207.9,1408.9 2208.2,1415.1 2208.4,1415.1 2208.7,1421.3 2208.9,1415.1 2209.1,1402.6 2209.4,1427.6 2209.6,1421.3 2209.9,1433.8 2210.1,1415.1 2210.3,1408.9 2210.6,1402.6 2210.8,1421.3 2211.1,1390.2 2211.3,1421.3 2211.6,1427.6 2211.8,1408.9 2212,1421.3 2212.3,1402.6 2212.5,1390.2 2212.8,1421.3 2213,1415.1 2213.2,1427.6 2213.5,1427.6 2213.7,1408.9 2214,1421.3 2214.2,1408.9 2214.4,1408.9 2214.7,1408.9 2214.9,1421.3 2215.2,1433.8 2215.4,1415.1 2215.7,1415.1 2215.9,1415.1 2216.1,1427.6 2216.4,1421.3 2216.6,1415.1 2216.9,1408.9 2217.1,1415.1 2217.3,1402.6 2217.6,1433.8 2217.8,1408.9 2218.1,1396.4 2218.3,1421.3 2218.6,1408.9 2218.8,1408.9 2219,1402.6 2219.3,1408.9 2219.5,1427.6 2219.8,1415.1 2220,1415.1 2220.2,1415.1 2220.5,1415.1 2220.7,1427.6 2221,1402.6 2221.2,1415.1 2221.4,1433.8 2221.7,1421.3 2221.9,1421.3 2222.2,1415.1 2222.4,1421.3 2222.7,1421.3 2222.9,1415.1 2223.1,1421.3 2223.4,1421.3 2223.6,1421.3 2223.9,1427.6 2224.1,1402.6 2224.3,1421.3 2224.6,1421.3 2224.8,1402.6 2225.1,1415.1 2225.3,1415.1 2225.6,1433.8 2225.8,1415.1 2226,1415.1 2226.3,1427.6 2226.5,1433.8 2226.8,1433.8 2227,1427.6 2227.2,1402.6 2227.5,1421.3 2227.7,1421.3 2228,1427.6 2228.2,1415.1 2228.4,1408.9 2228.7,1427.6 2228.9,1415.1 2229.2,1408.9 2229.4,1415.1 2229.7,1415.1 2229.9,1433.8 2230.1,1433.8 2230.4,1427.6 2230.6,1421.3 2230.9,1390.2 2231.1,1415.1 2231.3,1421.3 2231.6,1415.1 2231.8,1427.6 2232.1,1421.3 2232.3,1408.9 2232.6,1421.3 2232.8,1427.6 2233,1421.3 2233.3,1421.3 2233.5,1427.6 2233.8,1415.1 2234,1402.6 2234.2,1408.9 2234.5,1408.9 2234.7,1415.1 2235,1408.9 2235.2,1421.3 2235.4,1427.6 2235.7,1421.3 2235.9,1390.2 2236.2,1427.6 2236.4,1433.8 2236.7,1415.1 2236.9,1415.1 2237.1,1415.1 2237.4,1415.1 2237.6,1408.9 2237.9,1415.1 2238.1,1421.3 2238.3,1427.6 2238.6,1408.9 2238.8,1415.1 2239.1,1415.1 2239.3,1421.3 2239.6,1433.8 2239.8,1421.3 2240,1421.3 2240.3,1421.3 2240.5,1421.3 2240.8,1415.1 2241,1408.9 2241.2,1415.1 2241.5,1408.9 2241.7,1427.6 2242,1421.3 2242.2,1408.9 2242.4,1415.1 2242.7,1402.6 2242.9,1427.6 2243.2,1408.9 2243.4,1427.6 2243.7,1427.6 2243.9,1415.1 2244.1,1402.6 2244.4,1427.6 2244.6,1415.1 2244.9,1421.3 2245.1,1421.3 2245.3,1421.3 2245.6,1427.6 2245.8,1421.3 2246.1,1427.6 2246.3,1421.3 2246.6,1427.6 2246.8,1433.8 2247,1433.8 2247.3,1433.8 2247.5,1390.2 2247.8,1415.1 2248,1421.3 2248.2,1421.3 2248.5,1402.6 2248.7,1415.1 2249,1421.3 2249.2,1427.6 2249.4,1427.6 2249.7,1408.9 2249.9,1421.3 2250.2,1421.3 2250.4,1421.3 2250.7,1408.9 2250.9,1427.6 2251.1,1427.6 2251.4,1433.8 2251.6,1421.3 2251.9,1421.3 2252.1,1427.6 2252.3,1408.9 2252.6,1433.8 2252.8,1427.6 2253.1,1427.6 2253.3,1408.9 2253.6,1427.6 2253.8,1433.8 2254,1427.6 2254.3,1415.1 2254.5,1427.6 2254.8,1427.6 2255,1421.3 2255.2,1421.3 2255.5,1415.1 2255.7,1427.6 2256,1421.3 2256.2,1402.6 2256.4,1421.3 2256.7,1402.6 2256.9,1415.1 2257.2,1427.6 2257.4,1408.9 2257.7,1408.9 2257.9,1415.1 2258.1,1427.6 2258.4,1421.3 2258.6,1421.3 2258.9,1427.6 2259.1,1415.1 2259.3,1415.1 2259.6,1415.1 2259.8,1415.1 2260.1,1427.6 2260.3,1415.1 2260.6,1408.9 2260.8,1421.3 2261,1415.1 2261.3,1433.8 2261.5,1421.3 2261.8,1421.3 2262,1402.6 2262.2,1402.6 2262.5,1421.3 2262.7,1433.8 2263,1433.8 2263.2,1415.1 2263.4,1421.3 2263.7,1415.1 2263.9,1427.6 2264.2,1421.3 2264.4,1408.9 2264.7,1427.6 2264.9,1408.9 2265.1,1415.1 2265.4,1433.8 2265.6,1427.6 2265.9,1390.2 2266.1,1433.8 2266.3,1421.3 2266.6,1433.8 2266.8,1427.6 2267.1,1427.6 2267.3,1421.3 2267.6,1415.1 2267.8,1421.3 2268,1390.2 2268.3,1408.9 2268.5,1415.1 2268.8,1415.1 2269,1421.3 2269.2,1433.8 2269.5,1427.6 2269.7,1433.8 2270,1408.9 2270.2,1433.8 2270.4,1415.1 2270.7,1433.8 2270.9,1433.8 2271.2,1390.2 2271.4,1433.8 2271.7,1408.9 2271.9,1421.3 2272.1,1433.8 2272.4,1427.6 2272.6,1421.3 2272.9,1421.3 2273.1,1415.1 2273.3,1421.3 2273.6,1415.1 2273.8,1415.1 2274.1,1415.1 2274.3,1421.3 2274.6,1402.6 2274.8,1421.3 2275,1421.3 2275.3,1421.3 2275.5,1433.8 2275.8,1433.8 2276,1427.6 2276.2,1427.6 2276.5,1402.6 2276.7,1433.8 2277,1427.6 2277.2,1390.2 2277.4,1415.1 2277.7,1433.8 2277.9,1390.2 2278.2,1408.9 2278.4,1415.1 2278.7,1408.9 2278.9,1408.9 2279.1,1415.1 2279.4,1427.6 2279.6,1433.8 2279.9,1415.1 2280.1,1402.6 2280.3,1415.1 2280.6,1415.1 2280.8,1421.3 2281.1,1402.6 2281.3,1421.3 2281.6,1415.1"/>
<polyline stroke="#f04040" stroke-width="4.2" points="350.6,1116 350.8,1103.6 351,1078.6 351.3,1097.3 351.5,1078.6 351.8,1103.6 352,1072.4 352.2,1066.2 352.5,1097.3 352.7,1084.9 353,1078.6 353.2,1109.8 353.4,1091.1 353.7,1078.6 353.9,1103.6 354.2,1091.1 354.4,1109.8 354.7,1097.3 354.9,1066.2 355.1,1072.4 355.4,1091.1 355.6,1116 355.9,1066.2 356.1,1078.6 356.3,1109.8 356.6,1091.1 356.8,1091.1 357.1,1103.6 357.3,1091.1 357.5,1091.1 357.8,1097.3 358,1066.2 358.3,1084.9 358.5,1103.6 358.8,1103.6 359,1066.2 359.2,1103.6 359.5,1084.9 359.7,1066.2 360,1122.2 360.2,1097.3 360.4,1091.1 360.7,1109.8 360.9,1084.9 361.2,1091.1 361.4,1091.1 361.7,1109.8 361.9,1103.6 362.1,1078.6 362.4,1084.9 362.6,1097.3 362.9,1116 363.1,1091.1 363.3,1116 363.6,1084.9 363.8,1091.1 364.1,1097.3 364.3,1097.3 364.5,1078.6 364.8,1103.6 365,1097.3 365.3,1084.9 365.5,1116 365.8,1116 366,1091.1 366.2,1103.6 366.5,1091.1 366.7,1072.4 367,1078.6 367.2,1103.6 367.4,1116 367.7,1091.1 367.9,1091.1 368.2,1103.6 368.4,1084.9 368.7,1097.3 368.9,1072.4 369.1,1097.3 369.4,1103.6 369.6,1097.3 369.9,1084.9 370.1,1084.9 370.3,1116 370.6,1097.3 370.8,1116 371.1,1097.3 371.3,1078.6 371.5,1084.9 371.8,1109.8 372,1116 372.3,1109.8 372.5,1109.8 372.8,1084.9 373,1103.6 373.2,1078.6 373.5,1109.8 373.7,1097.3 374,1066.2 374.2,1084.9 374.4,1103.6 374.7,1091.1 374.9,1078.6 375.2,1072.4 375.4,1109.8 375.7,1078.6 375.9,1097.3 376.1,1091.1 376.4,1097.3 376.6,1109.8 376.9,1084.9 377.1,1097.3 377.3,1116 377.6,1097.3 377.8,1091.1 378.1,1109.8 378.3,1084.9 378.5,1084.9 378.8,1078.6 379,1078.6 379.3,1109.8 379.5,1109.8 379.8,1091.1 380,1116 380.2,1097.3 380.5,1084.9 380.7,1091.1 381,1097.3 381.2,1084.9 381.4,1097.3 381.7,1091.1 381.9,1084.9 382.2,1116 382.4,1103.6 382.7,1091.1 382.9,1084.9 383.1,1078.6 383.4,1078.6 383.6,1097.3 383.9,1084.9 384.1,1091.1 384.3,1097.3 384.6,1066.2 384.8,1091.1 385.1,1059.9 385.3,1041.2 385.5,1078.6 385.8,1109.8 386,1103.6 386.3,1103.6 386.5,1103.6 386.8,1103.6 387,1091.1 387.2,1072.4 387.5,1091.1 387.7,1084.9 388,1072.4 388.2,1084.9 388.4,1078.6 388.7,1091.1 388.9,1091.1 389.2,1109.8 389.4,1078.6 389.7,1103.6 389.9,1072.4 390.1,1084.9 390.4,1116 390.6,1084.9 390.9,1109.8 391.1,1072.4 391.3,1084.9 391.6,1091.1 391.8,1078.6 392.1,1091.1 392.3,1084.9 392.5,1078.6 392.8,1116 393,1091.1 393.3,1097.3 393.5,1084.9 393.8,1097.3 394,1103.6 394.2,1084.9 394.5,1084.9 394.7,1122.2 395,1078.6 395.2,1097.3 395.4,1109.8 395.7,1084.9 395.9,1091.1 396.2,1084.9 396.4,1091.1 396.7,1091.1 396.9,1091.1 397.1,1078.6 397.4,1097.3 397.6,1097.3 397.9,1097.3 398.1,1091.1 398.3,1066.2 398.6,1084.9 398.8,1091.1 399.1,1084.9 399.3,1097.3 399.5,1097.3 399.8,1084.9 400,1078.6 400.3,1091.1 400.5,1091.1 400.8,1084.9 401,1091.1 401.2,1084.9 401.5,1084.9 401.7,1091.1 402,1103.6 402.2,1097.3 402.4,1097.3 402.7,1078.6 402.9,1097.3 403.2,1084.9 403.4,1078.6 403.7,1084.9 403.9,1097.3 404.1,1084.9 404.4,1078.6 404.6,1084.9 404.9,1091.1 405.1,1084.9 405.3,1078.6 405.6,1091.1 405.8,1116 406.1,1084.9 406.3,1084.9 406.5,1122.2 406.8,1109.8 407,1084.9 407.3,1097.3 407.5,1091.1 407.8,1097.3 408,1084.9 408.2,1078.6 408.5,1091.1 408.7,1072.4 409,1084.9 409.2,1091.1 409.4,1059.9 409.7,1091.1 409.9,1084.9 410.2,1084.9 410.4,1066.2 410.7,1116 410.9,1091.1 411.1,1103.6 411.4,1078.6 411.6,1097.3 411.9,1116 412.1,1097.3 412.3,1097.3 412.6,1109.8 412.8,1103.6 413.1,1091.1 413.3,1103.6 413.5,1078.6 413.8,1109.8 414,1072.4 414.3,1109.8 414.5,1097.3 414.8,1109.8 415,1066.2 415.2,1122.2 415.5,1072.4 415.7,1084.9 416,1078.6 416.2,1059.9 416.4,1059.9 416.7,1091.1 416.9,1084.9 417.2,1097.3 417.4,1116 417.7,1109.8 417.9,1097.3 418.1,1078.6 418.4,1097.3 418.6,1091.1 418.9,1103.6 419.1,1103.6 419.3,1078.6 419.6,1109.8 419.8,1122.2 420.1,1103.6 420.3,1078.6 420.5,1109.8 420.8,1078.6 421,1091.1 421.3,1084.9 421.5,1059.9 421.8,1091.1 422,1091.1 422.2,1084.9 422.5,1109.8 422.7,1097.3 423,1103.6 423.2,1078.6 423.4,1116 423.7,1103.6 423.9,1097.3 424.2,1103.6 424.4,1109.8 424.7,1084.9 424.9,1053.7 425.1,1097.3 425.4,1097.3 425.6,1078.6 425.9,1091.1 426.1,1097.3 426.3,1103.6 426.6,1097.3 426.8,1116 427.1,1091.1 427.3,1097.3 427.5,1066.2 427.8,1103.6 428,1084.9 428.3,1103.6 428.5,1122.2 428.8,1078.6 429,1091.1 429.2,1047.5 429.5,1097.3 429.7,1084.9 430,1097.3 430.2,1116 430.4,1078.6 430.7,1066.2 430.9,1109.8 431.2,1122.2 431.4,1116 431.7,1084.9 431.9,1103.6 432.1,1097.3 432.4,1091.1 432.6,1084.9 432.9,1066.2 433.1,1091.1 433.3,1109.8 433.6,1116 433.8,1109.8 434.1,1066.2 434.3,1097.3 434.5,1078.6 434.8,1084.9 435,1084.9 435.3,1097.3 435.5,1103.6 435.8,1103.6 436,1091.1 436.2,1097.3 436.5,1109.8 436.7,1097.3 437,1072.4 437.2,1072.4 437.4,1122.2 437.7,1103.6 437.9,1097.3 438.2,1097.3 438.4,1109.8 438.7,1116 438.9,1072.4 439.1,1091.1 439.4,1116 439.6,1084.9 439.9,1078.6 440.1,1109.8 440.3,1091.1 440.6,1072.4 440.8,1103.6 441.1,1084.9 441.3,1097.3 441.5,1103.6 441.8,1109.8 442,1078.6 442.3,1097.3 442.5,1122.2 442.8,1097.3 443,1091.1 443.2,1109.8 443.5,1091.1 443.7,1091.1 444,1084.9 444.2,1091.1 444.4,1097.3 444.7,1091.1 444.9,1059.9 445.2,1097.3 445.4,1072.4 445.7,1066.2 445.9,1078.6 446.1,1091.1 446.4,1084.9 446.6,1084.9 446.9,1084.9 447.1,1091.1 447.3,1097.3 447.6,1091.1 447.8,1103.6 448.1,1097.3 448.3,1072.4 448.5,1097.3 448.8,1116 449,1097.3 449.3,1053.7 449.5,1072.4 449.8,1091.1 450,1084.9 450.2,1103.6 450.5,1084.9 450.7,1103.6 451,1097.3 451.2,1116 451.4,1097.3 451.7,1097.3 451.9,1097.3 452.2,1091.1 452.4,1091.1 452.7,1084.9 452.9,1091.1 453.1,1072.4 453.4,1072.4 453.6,1078.6 453.9,1072.4 454.1,1103.6 454.3,1072.4 454.6,1097.3 454.8,1078.6 455.1,1097.3 455.3,1097.3 455.5,1116 455.8,1103.6 456,1103.6 456.3,1091.1 456.5,1122.2 456.8,1109.8 457,1103.6 457.2,1053.7 457.5,1103.6 457.7,1122.2 458,1122.2 458.2,1097.3 458.4,1078.6 458.7,1097.3 458.9,1097.3 459.2,1084.9 459.4,1091.1 459.7,1091.1 459.9,1091.1 460.1,1103.6 460.4,1084.9 460.6,1109.8 460.9,1078.6 461.1,1078.6 461.3,1109.8 461.6,1103.6 461.8,1091.1 462.1,1103.6 462.3,1091.1 462.5,1097.3 462.8,1109.8 463,1097.3 463.3,1072.4 463.5,1097.3 463.8,1097.3 464,1097.3 464.2,1103.6 464.5,1084.9 464.7,1078.6 465,1091.1 465.2,1078.6 465.4,1091.1 465.7,1078.6 465.9,1084.9 466.2,1091.1 466.4,1066.2 466.7,1103.6 466.9,1091.1 467.1,1097.3 467.4,1078.6 467.6,1116 467.9,1084.9 468.1,1122.2 468.3,1084.9 468.6,1072.4 468.8,1078.6 469.1,1078.6 469.3,1103.6 469.5,1103.6 469.8,1109.8 470,1097.3 470.3,1084.9 470.5,1103.6 470.8,1103.6 471,1116 471.2,1116 471.5,1097.3 471.7,1103.6 472,1097.3 472.2,1091.1 472.4,1097.3 472.7,1072.4 472.9,1084.9 473.2,1097.3 473.4,1078.6 473.7,1084.9 473.9,1097.3 474.1,1097.3 474.4,1103.6 474.6,1103.6 474.9,1091.1 475.1,1091.1 475.3,1097.3 475.6,1116 475.8,1053.7 476.1,1109.8 476.3,1072.4 476.5,1078.6 476.8,1059.9 477,1103.6 477.3,1097.3 477.5,1091.1 477.8,1103.6 478,1084.9 478.2,1091.1 478.5,1103.6 478.7,1109.8 479,1091.1 479.2,1072.4 479.4,1103.6 479.7,1091.1 479.9,1103.6 480.2,1072.4 480.4,1109.8 480.7,1109.8 480.9,1091.1 481.1,1091.1 481.4,1116 481.6,1097.3 481.9,1091.1 482.1,1097.3 482.3,1078.6 482.6,1103.6 482.8,1097.3 483.1,1103.6 483.3,1078.6 483.5,1084.9 483.8,1084.9 484,1091.1 484.3,1097.3 484.5,1103.6 484.8,1097.3 485,1097.3 485.2,1097.3 485.5,1103.6 485.7,1091.1 486,1122.2 486.2,1091.1 486.4,1091.1 486.7,1103.6 486.9,1103.6 487.2,1116 487.4,1103.6 487.7,1097.3 487.9,1122.2 488.1,1084.9 488.4,1084.9 488.6,1109.8 488.9,1109.8 489.1,1116 489.3,1097.3 489.6,1116 489.8,1097.3 490.1,1116 490.3,1097.3 490.5,1091.1 490.8,1091.1 491,1084.9 491.3,1103.6 491.5,1066.2 491.8,1116 492,1116 492.2,1091.1 492.5,1084.9 492.7,1116 493,1097.3 493.2,1103.6 493.4,1097.3 493.7,1091.1 493.9,1103.6 494.2,1103.6 494.4,1103.6 494.7,1072.4 494.9,1109.8 495.1,1097.3 495.4,1091.1 495.6,1109.8 495.9,1072.4 496.1,1097.3 496.3,1103.6 496.6,1066.2 496.8,1084.9 497.1,1103.6 497.3,1097.3 497.5,1078.6 497.8,1084.9 498,1072.4 498.3,1091.1 498.5,1103.6 498.8,1103.6 499,1116 499.2,1103.6 499.5,1109.8 499.7,1097.3 500,1072.4 500.2,1084.9 500.4,1072.4 500.7,1091.1 500.9,1122.2 501.2,1097.3 501.4,1097.3 501.7,1103.6 501.9,1103.6 502.1,1122.2 502.4,1091.1 502.6,1109.8 502.9,1097.3 503.1,1097.3 503.3,1097.3 503.6,1066.2 503.8,1097.3 504.1,1091.1 504.3,1084.9 504.5,1116 504.8,1116 505,1103.6 505.3,1109.8 505.5,1103.6 505.8,1116 506,1103.6 506.2,1103.6 506.5,1122.2 506.7,1084.9 507,1078.6 507.2,1084.9 507.4,1097.3 507.7,1091.1 507.9,1097.3 508.2,1103.6 508.4,1091.1 508.7,1097.3 508.9,1122.2 509.1,1103.6 509.4,1109.8 509.6,1091.1 509.9,1103.6 510.1,1103.6 510.3,1091.1 510.6,1122.2 510.8,1103.6 511.1,1066.2 511.3,1084.9 511.5,1091.1 511.8,1078.6 512,1066.2 512.3,1078.6 512.5,1097.3 512.8,1109.8 513,1116 513.2,1103.6 513.5,1109.8 513.7,1091.1 514,1091.1 514.2,1097.3 514.4,1078.6 514.7,1084.9 514.9,1097.3 515.2,1103.6 515.4,1072.4 515.7,1084.9 515.9,1084.9 516.1,1103.6 516.4,1091.1 516.6,1122.2 516.9,1091.1 517.1,1078.6 517.3,1078.6 517.6,1103.6 517.8,1103.6 518.1,1091.1 518.3,1103.6 518.5,1059.9 518.8,1097.3 519,1109.8 519.3,1097.3 519.5,1078.6 519.8,1084.9 520,1116 520.2,1103.6 520.5,1084.9 520.7,1078.6 521,1084.9 521.2,1116 521.4,1091.1 521.7,1103.6 521.9,1097.3 522.2,1103.6 522.4,1109.8 522.7,1097.3 522.9,1084.9 523.1,1084.9 523.4,1103.6 523.6,1091.1 523.9,1078.6 524.1,1097.3 524.3,1078.6 524.6,1109.8 524.8,1103.6 525.1,1091.1 525.3,1084.9 525.5,1109.8 525.8,1091.1 526,1103.6 526.3,1109.8 526.5,1103.6 526.8,1097.3 527,1103.6 527.2,1109.8 527.5,1109.8 527.7,1072.4 528,1072.4 528.2,1091.1 528.4,1078.6 528.7,1097.3 528.9,1103.6 529.2,1103.6 529.4,1103.6 529.7,1091.1 529.9,1091.1 530.1,1072.4 530.4,1072.4 530.6,1109.8 530.9,1078.6 531.1,1103.6 531.3,1097.3 531.6,1091.1 531.8,1109.8 532.1,1097.3 532.3,1091.1 532.5,1084.9 532.8,1116 533,1097.3 533.3,1103.6 533.5,1078.6 533.8,1103.6 534,1109.8 534.2,1078.6 534.5,1059.9 534.7,1103.6 535,1097.3 535.2,1097.3 535.4,1091.1 535.7,1109.8 535.9,1103.6 536.2,1109.8 536.4,1109.8 536.7,1091.1 536.9,1103.6 537.1,1091.1 537.4,1091.1 537.6,1122.2 537.9,1097.3 538.1,1116 538.3,1103.6 538.6,1109.8 538.8,1109.8 539.1,1091.1 539.3,1097.3 539.5,1084.9 539.8,1091.1 540,1072.4 540.3,1109.8 540.5,1103.6 540.8,1103.6 541,1116 541.2,1109.8 541.5,1091.1 541.7,1097.3 542,1078.6 542.2,1097.3 542.4,1066.2 542.7,1097.3 542.9,1116 543.2,1084.9 543.4,1109.8 543.7,1066.2 543.9,1072.4 544.1,1066.2 544.4,1097.3 544.6,1091.1 544.9,1103.6 545.1,1103.6 545.3,1072.4 545.6,1091.1 545.8,1091.1 546.1,1116 546.3,1078.6 546.5,1084.9 546.8,1109.8 547,1091.1 547.3,1103.6 547.5,1103.6 547.8,1078.6 548,1103.6 548.2,1059.9 548.5,1091.1 548.7,1116 549,1109.8 549.2,1072.4 549.4,1103.6 549.7,1109.8 549.9,1097.3 550.2,1078.6 550.4,1091.1 550.6,1084.9 550.9,1097.3 551.1,1109.8 551.4,1097.3 551.6,1109.8 551.9,1091.1 552.1,1109.8 552.3,1109.8 552.6,1078.6 552.8,1084.9 553.1,1116 553.3,1097.3 553.5,1084.9 553.8,1091.1 554,1116 554.3,1116 554.5,1091.1 554.8,1097.3 555,1116 555.2,1103.6 555.5,1122.2 555.7,1097.3 556,1084.9 556.2,1097.3 556.4,1097.3 556.7,1091.1 556.9,1078.6 557.2,1078.6 557.4,1091.1 557.6,1091.1 557.9,1103.6 558.1,1097.3 558.4,1116 558.6,1103.6 558.9,1109.8 559.1,1091.1 559.3,1078.6 559.6,1097.3 559.8,1103.6 560.1,1084.9 560.3,1103.6 560.5,1084.9 560.8,1097.3 561,1091.1 561.3,1103.6 561.5,1084.9 561.8,1097.3 562,1103.6 562.2,1091.1 562.5,1097.3 562.7,1097.3 563,1084.9 563.2,1109.8 563.4,1116 563.7,1103.6 563.9,1072.4 564.2,1091.1 564.4,1103.6 564.6,1091.1 564.9,1084.9 565.1,1097.3 565.4,1109.8 565.6,1078.6 565.9,1078.6 566.1,1103.6 566.3,1103.6 566.6,1097.3 566.8,1116 567.1,1109.8 567.3,1091.1 567.5,1091.1 567.8,1097.3 568,1103.6 568.3,1109.8 568.5,1103.6 568.8,1097.3 569,1116 569.2,1097.3 569.5,1103.6 569.7,1097.3 570,1116 570.2,1091.1 570.4,1072.4 570.7,1109.8 570.9,1084.9 571.2,1091.1 571.4,1091.1 571.6,1084.9 571.9,1103.6 572.1,1078.6 572.4,1084.9 572.6,1084.9 572.9,1097.3 573.1,1103.6 573.3,1109.8 573.6,1097.3 573.8,1078.6 574.1,1091.1 574.3,1103.6 574.5,1097.3 574.8,1103.6 575,1091.1 575.3,1078.6 575.5,1109.8 575.8,1084.9 576,1072.4 576.2,1091.1 576.5,1097.3 576.7,1084.9 577,1103.6 577.2,1103.6 577.4,1097.3 577.7,1084.9 577.9,1116 578.2,1103.6 578.4,1116 578.6,1097.3 578.9,1116 579.1,1097.3 579.4,1091.1 579.6,1103.6 579.9,1084.9 580.1,1066.2 580.3,1097.3 580.6,1122.2 580.8,1116 581.1,1078.6 581.3,1097.3 581.5,1091.1 581.8,1103.6 582,1097.3 582.3,1103.6 582.5,1078.6 582.8,1091.1 583,1103.6 583.2,1116 583.5,1103.6 583.7,1109.8 584,1109.8 584.2,1116 584.4,1084.9 584.7,1103.6 584.9,1097.3 585.2,1116 585.4,1122.2 585.6,1097.3 585.9,1097.3 586.1,1103.6 586.4,1078.6 586.6,1097.3 586.9,1091.1 587.1,1078.6 587.3,1109.8 587.6,1116 587.8,1072.4 588.1,1091.1 588.3,1109.8 588.5,1084.9 588.8,1097.3 589,1109.8 589.3,1091.1 589.5,1091.1 589.8,1116 590,1091.1 590.2,1084.9 590.5,1097.3 590.7,1091.1 591,1109.8 591.2,1109.8 591.4,1116 591.7,1078.6 591.9,1084.9 592.2,1097.3 592.4,1116 592.6,1109.8 592.9,1091.1 593.1,1116 593.4,1091.1 593.6,1097.3 593.9,1091.1 594.1,1091.1 594.3,1084.9 594.6,1109.8 594.8,1091.1 595.1,1097.3 595.3,1116 595.5,1084.9 595.8,1109.8 596,1109.8 596.3,1097.3 596.5,1103.6 596.8,1084.9 597,1103.6 597.2,1116 597.5,1122.2 597.7,1097.3 598,1066.2 598.2,1109.8 598.4,1091.1 598.7,1097.3 598.9,1116 599.2,1091.1 599.4,1103.6 599.6,1078.6 599.9,1097.3 600.1,1097.3 600.4,1116 600.6,1103.6 600.9,1084.9 601.1,1103.6 601.3,1084.9 601.6,1078.6 601.8,1109.8 602.1,1116 602.3,1103.6 602.5,1084.9 602.8,1116 603,1078.6 603.3,1084.9 603.5,1103.6 603.8,1103.6 604,1066.2 604.2,1091.1 604.5,1078.6 604.7,1084.9 605,1066.2 605.2,1091.1 605.4,1091.1 605.7,1103.6 605.9,1103.6 606.2,1097.3 606.4,1103.6 606.6,1091.1 606.9,1078.6 607.1,1066.2 607.4,1109.8 607.6,1091.1 607.9,1103.6 608.1,1103.6 608.3,1084.9 608.6,1084.9 608.8,1097.3 609.1,1091.1 609.3,1103.6 609.5,1072.4 609.8,1091.1 610,1103.6 610.3,1066.2 610.5,1109.8 610.8,1072.4 611,1097.3 611.2,1109.8 611.5,1109.8 611.7,1097.3 612,1103.6 612.2,1109.8 612.4,1097.3 612.7,1072.4 612.9,1084.9 613.2,1078.6 613.4,1078.6 613.6,1078.6 613.9,1091.1 614.1,1116 614.4,1059.9 614.6,1091.1 614.9,1072.4 615.1,1103.6 615.3,1097.3 615.6,1084.9 615.8,1103.6 616.1,1072.4 616.3,1084.9 616.5,1109.8 616.8,1097.3 617,1097.3 617.3,1097.3 617.5,1103.6 617.8,1109.8 618,1116 618.2,1116 618.5,1078.6 618.7,1091.1 619,1097.3 619.2,1097.3 619.4,1103.6 619.7,1097.3 619.9,1097.3 620.2,1097.3 620.4,1109.8 620.6,1103.6 620.9,1116 621.1,1084.9 621.4,1097.3 621.6,1091.1 621.9,1109.8 622.1,1103.6 622.3,1097.3 622.6,1109.8 622.8,1109.8 623.1,1097.3 623.3,1116 623.5,1116 623.8,1097.3 624,1109.8 624.3,1103.6 624.5,1103.6 624.8,1103.6 625,1078.6 625.2,1103.6 625.5,1109.8 625.7,1091.1 626,1084.9 626.2,1091.1 626.4,1084.9 626.7,1103.6 626.9,1091.1 627.2,1097.3 627.4,1103.6 627.6,1097.3 627.9,1091.1 628.1,1078.6 628.4,1097.3 628.6,1097.3 628.9,1109.8 629.1,1091.1 629.3,1078.6 629.6,1109.8 629.8,1103.6 630.1,1116 630.3,1084.9 630.5,1084.9 630.8,1078.6 631,1103.6 631.3,1109.8 631.5,1091.1 631.8,1091.1 632,1084.9 632.2,1072.4 632.5,1097.3 632.7,1103.6 633,1091.1 633.2,1078.6 633.4,1078.6 633.7,1103.6 633.9,1091.1 634.2,1103.6 634.4,1116 634.6,1103.6 634.9,1091.1 635.1,1091.1 635.4,1091.1 635.6,1109.8 635.9,1116 636.1,1103.6 636.3,1091.1 636.6,1116 636.8,1103.6 637.1,1091.1 637.3,1103.6 637.5,1109.8 637.8,1122.2 638,1122.2 638.3,1097.3 638.5,1103.6 638.8,1091.1 639,1091.1 639.2,1116 639.5,1109.8 639.7,1091.1 640,1097.3 640.2,1097.3 640.4,1103.6 640.7,1097.3 640.9,1072.4 641.2,1059.9 641.4,1097.3 641.6,1084.9 641.9,1084.9 642.1,1084.9 642.4,1091.1 642.6,1097.3 642.9,1103.6 643.1,1091.1 643.3,1084.9 643.6,1103.6 643.8,1116 644.1,1109.8 644.3,1091.1 644.5,1103.6 644.8,1091.1 645,1097.3 645.3,1097.3 645.5,1059.9 645.8,1097.3 646,1091.1 646.2,1091.1 646.5,1109.8 646.7,1109.8 647,1084.9 647.2,1091.1 647.4,1084.9 647.7,1097.3 647.9,1059.9 648.2,1097.3 648.4,1097.3 648.6,1097.3 648.9,1084.9 649.1,1103.6 649.4,1103.6 649.6,1097.3 649.9,1097.3 650.1,1084.9 650.3,1103.6 650.6,1072.4 650.8,1103.6 651.1,1122.2 651.3,1078.6 651.5,1097.3 651.8,1078.6 652,1072.4 652.3,1116 652.5,1091.1 652.8,1091.1 653,1091.1 653.2,1078.6 653.5,1097.3 653.7,1091.1 654,1103.6 654.2,1091.1 654.4,1109.8 654.7,1097.3 654.9,1078.6 655.2,1091.1 655.4,1103.6 655.6,1097.3 655.9,1109.8 656.1,1084.9 656.4,1097.3 656.6,1078.6 656.9,1103.6 657.1,1059.9 657.3,1072.4 657.6,1103.6 657.8,1091.1 658.1,1116 658.3,1109.8 658.5,1091.1 658.8,1103.6 659,1109.8 659.3,1103.6 659.5,1084.9 659.8,1116 660,1084.9 660.2,1109.8 660.5,1103.6 660.7,1116 661,1103.6 661.2,1091.1 661.4,1122.2 661.7,1103.6 661.9,1072.4 662.2,1084.9 662.4,1072.4 662.6,1103.6 662.9,1109.8 663.1,1097.3 663.4,1103.6 663.6,1109.8 663.9,1122.2 664.1,1091.1 664.3,1091.1 664.6,1103.6 664.8,1078.6 665.1,1097.3 665.3,1066.2 665.5,1122.2 665.8,1084.9 666,1091.1 666.3,1103.6 666.5,1103.6 666.8,1091.1 667,1097.3 667.2,1072.4 667.5,1109.8 667.7,1084.9 668,1091.1 668.2,1103.6 668.4,1078.6 668.7,1103.6 668.9,1103.6 669.2,1097.3 669.4,1078.6 669.6,1097.3 669.9,1097.3 670.1,1097.3 670.4,1097.3 670.6,1122.2 670.9,1109.8 671.1,1103.6 671.3,1097.3 671.6,1097.3 671.8,1097.3 672.1,1084.9 672.3,1084.9 672.5,1103.6 672.8,1078.6 673,1066.2 673.3,1097.3 673.5,1078.6 673.8,1103.6 674,1103.6 674.2,1072.4 674.5,1084.9 674.7,1103.6 675,1116 675.2,1066.2 675.4,1084.9 675.7,1091.1 675.9,1103.6 676.2,1103.6 676.4,1084.9 676.6,1091.1 676.9,1084.9 677.1,1084.9 677.4,1091.1 677.6,1091.1 677.9,1097.3 678.1,1091.1 678.3,1091.1 678.6,1091.1 678.8,1097.3 679.1,1109.8 679.3,1059.9 679.5,1091.1 679.8,1103.6 680,1091.1 680.3,1109.8 680.5,1084.9 680.8,1084.9 681,1109.8 681.2,1103.6 681.5,1091.1 681.7,1078.6 682,1109.8 682.2,1091.1 682.4,1097.3 682.7,1103.6 682.9,1116 683.2,1122.2 683.4,1084.9 683.6,1097.3 683.9,1066.2 684.1,1084.9 684.4,1103.6 684.6,1097.3 684.9,1091.1 685.1,1097.3 685.3,1084.9 685.6,1109.8 685.8,1109.8 686.1,1103.6 686.3,1091.1 686.5,1116 686.8,1091.1 687,1097.3 687.3,1084.9 687.5,1078.6 687.8,1059.9 688,1084.9 688.2,1091.1 688.5,1103.6 688.7,1084.9 689,1116 689.2,1097.3 689.4,1097.3 689.7,1091.1 689.9,1122.2 690.2,1078.6 690.4,1109.8 690.6,1103.6 690.9,1078.6 691.1,1103.6 691.4,1103.6 691.6,1116 691.9,1097.3 692.1,1103.6 692.3,1109.8 692.6,1084.9 692.8,1091.1 693.1,1103.6 693.3,1097.3 693.5,1084.9 693.8,1109.8 694,1097.3 694.3,1097.3 694.5,1097.3 694.8,1091.1 695,1103.6 695.2,1103.6 695.5,1078.6 695.7,1072.4 696,1091.1 696.2,1103.6 696.4,1078.6 696.7,1091.1 696.9,1072.4 697.2,1097.3 697.4,1116 697.6,1103.6 697.9,1097.3 698.1,1109.8 698.4,1078.6 698.6,1122.2 698.9,1097.3 699.1,1084.9 699.3,1097.3 699.6,1091.1 699.8,1084.9 700.1,1103.6 700.3,1097.3 700.5,1091.1 700.8,1109.8 701,1097.3 701.3,1078.6 701.5,1097.3 701.8,1084.9 702,1091.1 702.2,1116 702.5,1091.1 702.7,1091.1 703,1059.9 703.2,1084.9 703.4,1091.1 703.7,1109.8 703.9,1109.8 704.2,1072.4 704.4,1103.6 704.6,1097.3 704.9,1084.9 705.1,1116 705.4,1097.3 705.6,1084.9 705.9,1097.3 706.1,1109.8 706.3,1084.9 706.6,1103.6 706.8,1109.8 707.1,1103.6 707.3,1109.8 707.5,1103.6 707.8,1116 708,1109.8 708.3,1109.8 708.5,1097.3 708.8,1103.6 709,1091.1 709.2,1103.6 709.5,1103.6 709.7,1103.6 710,1097.3 710.2,1103.6 710.4,1097.3 710.7,1097.3 710.9,1072.4 711.2,1078.6 711.4,1097.3 711.6,1122.2 711.9,1103.6 712.1,1091.1 712.4,1116 712.6,1097.3 712.9,1103.6 713.1,1109.8 713.3,1097.3 713.6,1109.8 713.8,1109.8 714.1,1091.1 714.3,1084.9 714.5,1109.8 714.8,1116 715,1091.1 715.3,1078.6 715.5,1091.1 715.8,1084.9 716,1097.3 716.2,1116 716.5,1116 716.7,1091.1 717,1109.8 717.2,1066.2 717.4,1109.8 717.7,1078.6 717.9,1109.8 718.2,1116 718.4,1066.2 718.6,1103.6 718.9,1116 719.1,1109.8 719.4,1078.6 719.6,1084.9 719.9,1097.3 720.1,1097.3 720.3,1097.3 720.6,1103.6 720.8,1084.9 721.1,1103.6 721.3,1097.3 721.5,1116 721.8,1103.6 722,1109.8 722.3,1109.8 722.5,1116 722.8,1109.8 723,1116 723.2,1103.6 723.5,1109.8 723.7,1097.3 724,1066.2 724.2,1116 724.4,1091.1 724.7,1116 724.9,1097.3 725.2,1091.1 725.4,1097.3 725.6,1084.9 725.9,1103.6 726.1,1097.3 726.4,1097.3 726.6,1103.6 726.9,1091.1 727.1,1103.6 727.3,1084.9 727.6,1109.8 727.8,1097.3 728.1,1103.6 728.3,1109.8 728.5,1084.9 728.8,1084.9 729,1091.1 729.3,1097.3 729.5,1091.1 729.8,1116 730,1097.3 730.2,1103.6 730.5,1097.3 730.7,1122.2 731,1091.1 731.2,1078.6 731.4,1116 731.7,1091.1 731.9,1078.6 732.2,1122.2 732.4,1122.2 732.6,1103.6 732.9,1116 733.1,1066.2 733.4,1084.9 733.6,1097.3 733.9,1109.8 734.1,1072.4 734.3,1116 734.6,1072.4 734.8,1078.6 735.1,1103.6 735.3,1078.6 735.5,1091.1 735.8,1097.3 736,1091.1 736.3,1072.4 736.5,1109.8 736.8,1109.8 737,1109.8 737.2,1097.3 737.5,1109.8 737.7,1084.9 738,1097.3 738.2,1072.4 738.4,1091.1 738.7,1116 738.9,1084.9 739.2,1091.1 739.4,1103.6 739.6,1084.9 739.9,1116 740.1,1116 740.4,1084.9 740.6,1084.9 740.9,1091.1 741.1,1091.1 741.3,1084.9 741.6,1097.3 741.8,1103.6 742.1,1084.9 742.3,1078.6 742.5,1091.1 742.8,1103.6 743,1097.3 743.3,1109.8 743.5,1091.1 743.7,1084.9 744,1091.1 744.2,1091.1 744.5,1091.1 744.7,1097.3 745,1109.8 745.2,1103.6 745.4,1109.8 745.7,1097.3 745.9,1097.3 746.2,1078.6 746.4,1103.6 746.6,1078.6 746.9,1103.6 747.1,1109.8 747.4,1109.8 747.6,1097.3 747.9,1072.4 748.1,1103.6 748.3,1103.6 748.6,1109.8 748.8,1103.6 749.1,1072.4 749.3,1097.3 749.5,1072.4 749.8,1097.3 750,1078.6 750.3,1109.8 750.5,1091.1 750.7,1078.6 751,1078.6 751.2,1116 751.5,1109.8 751.7,1103.6 752,1097.3 752.2,1097.3 752.4,1103.6 752.7,1066.2 752.9,1078.6 753.2,1103.6 753.4,1103.6 753.6,1097.3 753.9,1097.3 754.1,1072.4 754.4,1091.1 754.6,1084.9 754.9,1097.3 755.1,1091.1 755.3,1072.4 755.6,1084.9 755.8,1084.9 756.1,1078.6 756.3,1103.6 756.5,1091.1 756.8,1097.3 757,1091.1 757.3,1103.6 757.5,1103.6 757.7,1072.4 758,1116 758.2,1072.4 758.5,1084.9 758.7,1097.3 759,1109.8 759.2,1097.3 759.4,1103.6 759.7,1078.6 759.9,1103.6 760.2,1103.6 760.4,1078.6 760.6,1103.6 760.9,1103.6 761.1,1109.8 761.4,1109.8 761.6,1116 761.9,1084.9 762.1,1116 762.3,1084.9 762.6,1091.1 762.8,1084.9 763.1,1059.9 763.3,1084.9 763.5,1072.4 763.8,1097.3 764,1084.9 764.3,1116 764.5,1103.6 764.7,1103.6 765,1091.1 765.2,1122.2 765.5,1116 765.7,1097.3 766,1091.1 766.2,1116 766.4,1097.3 766.7,1116 766.9,1091.1 767.2,1097.3 767.4,1103.6 767.6,1109.8 767.9,1084.9 768.1,1097.3 768.4,1116 768.6,1091.1 768.9,1116 769.1,1091.1 769.3,1103.6 769.6,1091.1 769.8,1097.3 770.1,1116 770.3,1103.6 770.5,1103.6 770.8,1078.6 771,1103.6 771.3,1091.1 771.5,1097.3 771.7,1109.8 772,1097.3 772.2,1103.6 772.5,1084.9 772.7,1109.8 773,1091.1 773.2,1053.7 773.4,1103.6 773.7,1091.1 773.9,1097.3 774.2,1103.6 774.4,1091.1 774.6,1097.3 774.9,1103.6 775.1,1084.9 775.4,1103.6 775.6,1091.1 775.9,1103.6 776.1,1066.2 776.3,1109.8 776.6,1078.6 776.8,1103.6 777.1,1097.3 777.3,1097.3 777.5,1078.6 777.8,1097.3 778,1066.2 778.3,1109.8 778.5,1097.3 778.7,1091.1 779,1091.1 779.2,1053.7 779.5,1097.3 779.7,1097.3 780,1091.1 780.2,1066.2 780.4,1116 780.7,1084.9 780.9,1109.8 781.2,1078.6 781.4,1097.3 781.6,1084.9 781.9,1084.9 782.1,1097.3 782.4,1097.3 782.6,1078.6 782.9,1084.9 783.1,1097.3 783.3,1103.6 783.6,1084.9 783.8,1078.6 784.1,1072.4 784.3,1078.6 784.5,1091.1 784.8,1103.6 785,1078.6 785.3,1103.6 785.5,1097.3 785.7,1091.1 786,1097.3 786.2,1091.1 786.5,1116 786.7,1078.6 787,1097.3 787.2,1097.3 787.4,1091.1 787.7,1097.3 787.9,1066.2 788.2,1078.6 788.4,1072.4 788.6,1109.8 788.9,1122.2 789.1,1097.3 789.4,1103.6 789.6,1116 789.9,1091.1 790.1,1091.1 790.3,1078.6 790.6,1066.2 790.8,1084.9 791.1,1084.9 791.3,1091.1 791.5,1122.2 791.8,1103.6 792,1097.3 792.3,1091.1 792.5,1097.3 792.7,1078.6 793,1072.4 793.2,1084.9 793.5,1047.5 793.7,1091.1 794,1091.1 794.2,1091.1 794.4,1103.6 794.7,1078.6 794.9,1047.5 795.2,1084.9 795.4,1091.1 795.6,1097.3 795.9,1091.1 796.1,1066.2 796.4,1066.2 796.6,1066.2 796.9,1047.5 797.1,1091.1 797.3,1078.6 797.6,1103.6 797.8,1066.2 798.1,1078.6 798.3,1066.2 798.5,1072.4 798.8,1091.1 799,1091.1 799.3,1091.1 799.5,1097.3 799.7,1084.9 800,1097.3 800.2,1091.1 800.5,1122.2 800.7,1103.6 801,1097.3 801.2,1084.9 801.4,1103.6 801.7,1103.6 801.9,1091.1 802.2,1097.3 802.4,1084.9 802.6,1097.3 802.9,1097.3 803.1,1066.2 803.4,1097.3 803.6,1109.8 803.9,1103.6 804.1,1091.1 804.3,1103.6 804.6,1091.1 804.8,1084.9 805.1,1084.9 805.3,1103.6 805.5,1116 805.8,1103.6 806,1091.1 806.3,1072.4 806.5,1103.6 806.7,1097.3 807,1091.1 807.2,1091.1 807.5,1066.2 807.7,1091.1 808,1078.6 808.2,1084.9 808.4,1041.2 808.7,1084.9 808.9,1109.8 809.2,1103.6 809.4,1066.2 809.6,1072.4 809.9,1097.3 810.1,1116 810.4,1084.9 810.6,1072.4 810.9,1084.9 811.1,1084.9 811.3,1072.4 811.6,1091.1 811.8,1091.1 812.1,1116 812.3,1097.3 812.5,1097.3 812.8,1116 813,1066.2 813.3,1097.3 813.5,1091.1 813.7,1097.3 814,1103.6 814.2,1097.3 814.5,1072.4 814.7,1091.1 815,1097.3 815.2,1066.2 815.4,1072.4 815.7,1078.6 815.9,1091.1 816.2,1084.9 816.4,1091.1 816.6,1066.2 816.9,1097.3 817.1,1072.4 817.4,1078.6 817.6,1091.1 817.9,1072.4 818.1,1084.9 818.3,1084.9 818.6,1072.4 818.8,1072.4 819.1,1078.6 819.3,1066.2 819.5,1091.1 819.8,1078.6 820,1097.3 820.3,1091.1 820.5,1084.9 820.7,1066.2 821,1091.1 821.2,1066.2 821.5,1091.1 821.7,1109.8 822,1059.9 822.2,1091.1 822.4,1097.3 822.7,1091.1 822.9,1084.9 823.2,1078.6 823.4,1097.3 823.6,1072.4 823.9,1109.8 824.1,1078.6 824.4,1066.2 824.6,1091.1 824.9,1103.6 825.1,1109.8 825.3,1091.1 825.6,1097.3 825.8,1059.9 826.1,1097.3 826.3,1059.9 826.5,1084.9 826.8,1078.6 827,1097.3 827.3,1097.3 827.5,1103.6 827.7,1091.1 828,1072.4 828.2,1116 828.5,1078.6 828.7,1097.3 829,1072.4 829.2,1059.9 829.4,1103.6 829.7,1103.6 829.9,1091.1 830.2,1084.9 830.4,1097.3 830.6,1066.2 830.9,1072.4 831.1,1091.1 831.4,1072.4 831.6,1103.6 831.9,1078.6 832.1,1084.9 832.3,1078.6 832.6,1091.1 832.8,1084.9 833.1,1091.1 833.3,1041.2 833.5,1078.6 833.8,1059.9 834,1097.3 834.3,1084.9 834.5,1097.3 834.7,1072.4 835,1072.4 835.2,1078.6 835.5,1097.3 835.7,1022.6 836,1072.4 836.2,1066.2 836.4,1084.9 836.7,1097.3 836.9,1072.4 837.2,1059.9 837.4,1078.6 837.6,1103.6 837.9,1072.4 838.1,1084.9 838.4,1066.2 838.6,1072.4 838.9,1084.9 839.1,1091.1 839.3,1072.4 839.6,1084.9 839.8,1066.2 840.1,1097.3 840.3,1109.8 840.5,1084.9 840.8,1059.9 841,1109.8 841.3,1059.9 841.5,1072.4 841.7,1066.2 842,1059.9 842.2,1078.6 842.5,1078.6 842.7,1072.4 843,1078.6 843.2,1072.4 843.4,1084.9 843.7,1035 843.9,1091.1 844.2,1072.4 844.4,1084.9 844.6,1084.9 844.9,1072.4 845.1,1066.2 845.4,1059.9 845.6,1078.6 845.9,1059.9 846.1,1078.6 846.3,1053.7 846.6,1097.3 846.8,1078.6 847.1,1053.7 847.3,1097.3 847.5,1072.4 847.8,1059.9 848,1059.9 848.3,1047.5 848.5,1103.6 848.7,1035 849,1066.2 849.2,1059.9 849.5,1072.4 849.7,1084.9 850,1084.9 850.2,1072.4 850.4,1066.2 850.7,1109.8 850.9,1072.4 851.2,1078.6 851.4,1097.3 851.6,1078.6 851.9,1078.6 852.1,1053.7 852.4,1066.2 852.6,1084.9 852.9,1066.2 853.1,1097.3 853.3,1066.2 853.6,1053.7 853.8,1047.5 854.1,1078.6 854.3,1078.6 854.5,1066.2 854.8,1097.3 855,1078.6 855.3,1047.5 855.5,1078.6 855.7,1059.9 856,1047.5 856.2,1059.9 856.5,1078.6 856.7,1066.2 857,1084.9 857.2,1078.6 857.4,1028.8 857.7,1066.2 857.9,1053.7 858.2,1066.2 858.4,1066.2 858.6,1047.5 858.9,1084.9 859.1,1053.7 859.4,1053.7 859.6,1072.4 859.9,1066.2 860.1,1078.6 860.3,1028.8 860.6,1072.4 860.8,1053.7 861.1,1066.2 861.3,1022.6 861.5,1066.2 861.8,1028.8 862,1053.7 862.3,1078.6 862.5,1072.4 862.7,1078.6 863,1066.2 863.2,1053.7 863.5,1059.9 863.7,1053.7 864,1072.4 864.2,1047.5 864.4,1053.7 864.7,1035 864.9,1072.4 865.2,1097.3 865.4,1041.2 865.6,1084.9 865.9,1028.8 866.1,1047.5 866.4,1047.5 866.6,1047.5 866.9,1066.2 867.1,1084.9 867.3,1059.9 867.6,1059.9 867.8,1084.9 868.1,1059.9 868.3,1078.6 868.5,1028.8 868.8,1016.3 869,1022.6 869.3,1066.2 869.5,1059.9 869.7,1028.8 870,1053.7 870.2,1072.4 870.5,1035 870.7,1053.7 871,1059.9 871.2,1066.2 871.4,1047.5 871.7,1035 871.9,1059.9 872.2,1047.5 872.4,1010.1 872.6,1022.6 872.9,1047.5 873.1,1041.2 873.4,1066.2 873.6,1053.7 873.9,991.4 874.1,1066.2 874.3,1041.2 874.6,997.6 874.8,1041.2 875.1,1028.8 875.3,997.6 875.5,1010.1 875.8,1053.7 876,1016.3 876.3,1022.6 876.5,991.4 876.7,1028.8 877,991.4 877.2,966.5 877.5,985.2 877.7,1022.6 878,1035 878.2,1047.5 878.4,1053.7 878.7,941.6 878.9,985.2 879.2,997.6 879.4,1047.5 879.6,991.4 879.9,966.5 880.1,978.9 880.4,972.7 880.6,1016.3 880.9,1016.3 881.1,997.6 881.3,972.7 881.6,985.2 881.8,1010.1 882.1,972.7 882.3,1022.6 882.5,1010.1 882.8,966.5 883,1010.1 883.3,954 883.5,947.8 883.7,985.2 884,929.1 884.2,941.6 884.5,997.6 884.7,966.5 885,960.2 885.2,860.5 885.4,891.7 885.7,860.5 885.9,985.2 886.2,916.6 886.4,916.6 886.6,960.2 886.9,879.2 887.1,935.3 887.4,860.5 887.6,885.5 887.9,810.7 888.1,910.4 888.3,829.4 888.6,866.8 888.8,841.9 889.1,879.2 889.3,885.5 889.5,885.5 889.8,829.4 890,891.7 890.3,860.5 890.5,785.8 890.7,804.5 891,735.9 891.2,779.5 891.5,767.1 891.7,729.7 892,723.5 892.2,667.4 892.4,717.2 892.7,667.4 892.9,667.4 893.2,573.9 893.4,754.6 893.6,735.9 893.9,636.2 894.1,430.6 894.4,598.8 894.6,561.5 894.9,536.5 895.1,580.2 895.3,555.2 895.6,393.2 895.8,480.5 896.1,405.7 896.3,256.1 896.5,175.1 896.8,268.6 897,262.4 897.3,218.8 897.5,324.7 897.7,144 898,162.7 898.2,162.7 898.5,144 898.7,137.8 899,137.8 899.2,150.2 899.4,-11.8 899.7,137.8 899.9,137.8 900.2,125.3 900.4,131.5 900.6,131.5 900.9,125.3 901.1,131.5 901.4,131.5 901.6,137.8 901.9,137.8 902.1,175.1 902.3,125.3 902.6,144 902.8,125.3 903.1,287.3 903.3,312.2 903.5,343.4 903.8,287.3 904,306 904.3,312.2 904.5,411.9 904.7,549 905,387 905.2,387 905.5,461.8 905.7,387 906,542.8 906.2,524.1 906.4,573.9 906.7,580.2 906.9,611.3 907.2,580.2 907.4,592.6 907.6,580.2 907.9,667.4 908.1,673.6 908.4,630 908.6,654.9 908.9,748.4 909.1,773.3 909.3,798.2 909.6,642.5 909.8,717.2 910.1,779.5 910.3,835.6 910.5,810.7 910.8,841.9 911,760.9 911.3,785.8 911.5,854.3 911.7,835.6 912,904.2 912.2,848.1 912.5,885.5 912.7,897.9 913,885.5 913.2,816.9 913.4,916.6 913.7,910.4 913.9,904.2 914.2,904.2 914.4,954 914.6,897.9 914.9,910.4 915.1,916.6 915.4,904.2 915.6,972.7 915.9,960.2 916.1,947.8 916.3,922.9 916.6,929.1 916.8,929.1 917.1,835.6 917.3,866.8 917.5,873 917.8,978.9 918,972.7 918.3,978.9 918.5,941.6 918.7,929.1 919,991.4 919.2,972.7 919.5,1035 919.7,985.2 920,991.4 920.2,1003.9 920.4,947.8 920.7,1010.1 920.9,960.2 921.2,991.4 921.4,966.5 921.6,1016.3 921.9,1016.3 922.1,991.4 922.4,997.6 922.6,978.9 922.9,1035 923.1,960.2 923.3,991.4 923.6,991.4 923.8,1053.7 924.1,997.6 924.3,985.2 924.5,1028.8 924.8,1003.9 925,1010.1 925.3,978.9 925.5,997.6 925.7,972.7 926,1059.9 926.2,1041.2 926.5,1016.3 926.7,1022.6 927,1003.9 927.2,1016.3 927.4,1028.8 927.7,1053.7 927.9,1028.8 928.2,1047.5 928.4,1041.2 928.6,1028.8 928.9,1041.2 929.1,1035 929.4,1016.3 929.6,1028.8 929.9,1047.5 930.1,1010.1 930.3,1059.9 930.6,985.2 930.8,1010.1 931.1,1066.2 931.3,1035 931.5,1028.8 931.8,1059.9 932,1047.5 932.3,1028.8 932.5,978.9 932.7,1028.8 933,1035 933.2,1035 933.5,1059.9 933.7,1059.9 934,1022.6 934.2,1028.8 934.4,1041.2 934.7,1035 934.9,1035 935.2,1047.5 935.4,1041.2 935.6,1041.2 935.9,1047.5 936.1,1022.6 936.4,1022.6 936.6,997.6 936.8,1053.7 937.1,1022.6 937.3,1059.9 937.6,1059.9 937.8,1010.1 938.1,1059.9 938.3,1053.7 938.5,1003.9 938.8,1016.3 939,1028.8 939.3,1010.1 939.5,1047.5 939.7,1041.2 940,1047.5 940.2,1047.5 940.5,1053.7 940.7,1035 941,1053.7 941.2,1072.4 941.4,1041.2 941.7,1016.3 941.9,1066.2 942.2,1059.9 942.4,1035 942.6,1066.2 942.9,1084.9 943.1,1066.2 943.4,1041.2 943.6,1041.2 943.8,1084.9 944.1,1059.9 944.3,1072.4 944.6,1010.1 944.8,1072.4 945.1,1078.6 945.3,1078.6 945.5,1003.9 945.8,1078.6 946,1084.9 946.3,1072.4 946.5,1035 946.7,1047.5 947,1035 947.2,1047.5 947.5,1066.2 947.7,1041.2 948,1097.3 948.2,1072.4 948.4,1066.2 948.7,1053.7 948.9,1072.4 949.2,1059.9 949.4,1035 949.6,1066.2 949.9,1078.6 950.1,1047.5 950.4,1059.9 950.6,1072.4 950.8,1059.9 951.1,1053.7 951.3,1047.5 951.6,1066.2 951.8,1066.2 952.1,1053.7 952.3,1047.5 952.5,1016.3 952.8,1028.8 953,1059.9 953.3,1016.3 953.5,1072.4 953.7,1047.5 954,1066.2 954.2,1059.9 954.5,1053.7 954.7,1028.8 955,1010.1 955.2,1084.9 955.4,1047.5 955.7,1047.5 955.9,1053.7 956.2,1022.6 956.4,1041.2 956.6,1072.4 956.9,1059.9 957.1,1028.8 957.4,1078.6 957.6,1059.9 957.8,1022.6 958.1,1010.1 958.3,1072.4 958.6,1028.8 958.8,1078.6 959.1,1035 959.3,1047.5 959.5,1053.7 959.8,1053.7 960,1035 960.3,1047.5 960.5,1047.5 960.7,1010.1 961,997.6 961.2,1016.3 961.5,1041.2 961.7,1059.9 962,1010.1 962.2,954 962.4,1010.1 962.7,1022.6 962.9,991.4 963.2,1035 963.4,1016.3 963.6,1003.9 963.9,997.6 964.1,1035 964.4,991.4 964.6,1035 964.8,991.4 965.1,972.7 965.3,997.6 965.6,985.2 965.8,997.6 966.1,1010.1 966.3,929.1 966.5,1028.8 966.8,954 967,941.6 967.3,954 967.5,1003.9 967.7,1016.3 968,997.6 968.2,991.4 968.5,1010.1 968.7,1003.9 969,1016.3 969.2,1016.3 969.4,1035 969.7,1053.7 969.9,991.4 970.2,1059.9 970.4,1053.7 970.6,972.7 970.9,1066.2 971.1,1041.2 971.4,1047.5 971.6,1028.8 971.8,1035 972.1,1053.7 972.3,1072.4 972.6,1003.9 972.8,1041.2 973.1,1016.3 973.3,1016.3 973.5,985.2 973.8,1035 974,1091.1 974.3,1053.7 974.5,1041.2 974.7,1072.4 975,1035 975.2,1047.5 975.5,1053.7 975.7,1035 976,1084.9 976.2,1078.6 976.4,1035 976.7,1022.6 976.9,1091.1 977.2,1047.5 977.4,1053.7 977.6,1053.7 977.9,1059.9 978.1,1078.6 978.4,1072.4 978.6,1059.9 978.8,1116 979.1,1072.4 979.3,1078.6 979.6,1097.3 979.8,1053.7 980.1,1047.5 980.3,1078.6 980.5,1078.6 980.8,1059.9 981,1066.2 981.3,1047.5 981.5,1066.2 981.7,1084.9 982,1091.1 982.2,1047.5 982.5,1078.6 982.7,1072.4 983,1066.2 983.2,1053.7 983.4,1072.4 983.7,1059.9 983.9,1072.4 984.2,1078.6 984.4,1059.9 984.6,1078.6 984.9,1066.2 985.1,1109.8 985.4,1072.4 985.6,1059.9 985.8,1084.9 986.1,1059.9 986.3,1066.2 986.6,1072.4 986.8,1053.7 987.1,1091.1 987.3,1097.3 987.5,1066.2 987.8,1084.9 988,1072.4 988.3,1053.7 988.5,1047.5 988.7,1103.6 989,1084.9 989.2,1053.7 989.5,1047.5 989.7,1091.1 990,1047.5 990.2,1078.6 990.4,1072.4 990.7,1097.3 990.9,1072.4 991.2,1078.6 991.4,1091.1 991.6,1103.6 991.9,1059.9 992.1,1072.4 992.4,1078.6 992.6,1097.3 992.8,1078.6 993.1,1059.9 993.3,1097.3 993.6,1078.6 993.8,1066.2 994.1,1091.1 994.3,1109.8 994.5,1091.1 994.8,1103.6 995,1097.3 995.3,1091.1 995.5,1078.6 995.7,1047.5 996,1053.7 996.2,1078.6 996.5,1072.4 996.7,1084.9 997,1097.3 997.2,1091.1 997.4,1059.9 997.7,1072.4 997.9,1059.9 998.2,1059.9 998.4,1103.6 998.6,1078.6 998.9,1066.2 999.1,1072.4 999.4,1059.9 999.6,1059.9 999.8,1103.6 1000.1,1066.2 1000.3,1084.9 1000.6,1041.2 1000.8,1091.1 1001.1,1078.6 1001.3,1078.6 1001.5,1072.4 1001.8,1078.6 1002,1084.9 1002.3,1091.1 1002.5,1084.9 1002.7,1078.6 1003,1066.2 1003.2,1053.7 1003.5,1066.2 1003.7,1097.3 1004,1072.4 1004.2,1078.6 1004.4,1072.4 1004.7,1078.6 1004.9,1072.4 1005.2,1022.6 1005.4,1072.4 1005.6,1103.6 1005.9,1097.3 1006.1,1041.2 1006.4,1084.9 1006.6,1059.9 1006.8,1078.6 1007.1,1066.2 1007.3,1091.1 1007.6,1091.1 1007.8,1066.2 1008.1,1078.6 1008.3,1072.4 1008.5,1109.8 1008.8,1084.9 1009,1078.6 1009.3,1091.1 1009.5,1078.6 1009.7,1066.2 1010,1066.2 1010.2,1097.3 1010.5,1091.1 1010.7,1059.9 1011,1091.1 1011.2,1084.9 1011.4,1078.6 1011.7,1078.6 1011.9,1091.1 1012.2,1066.2 1012.4,1059.9 1012.6,1091.1 1012.9,1072.4 1013.1,1078.6 1013.4,1072.4 1013.6,1091.1 1013.8,1091.1 1014.1,1091.1 1014.3,1066.2 1014.6,1084.9 1014.8,1059.9 1015.1,1109.8 1015.3,1084.9 1015.5,1053.7 1015.8,1053.7 1016,1078.6 1016.3,1091.1 1016.5,1091.1 1016.7,1084.9 1017,1097.3 1017.2,1097.3 1017.5,1084.9 1017.7,1066.2 1018,1097.3 1018.2,1103.6 1018.4,1084.9 1018.7,1078.6 1018.9,1078.6 1019.2,1072.4 1019.4,1053.7 1019.6,1072.4 1019.9,1103.6 1020.1,1103.6 1020.4,1059.9 1020.6,1097.3 1020.8,1091.1 1021.1,1066.2 1021.3,1084.9 1021.6,1097.3 1021.8,1078.6 1022.1,1084.9 1022.3,1072.4 1022.5,1103.6 1022.8,1078.6 1023,1047.5 1023.3,1084.9 1023.5,1103.6 1023.7,1047.5 1024,1072.4 1024.2,1097.3 1024.5,1035 1024.7,1097.3 1025,1084.9 1025.2,1072.4 1025.4,1078.6 1025.7,1053.7 1025.9,1053.7 1026.2,1072.4 1026.4,1097.3 1026.6,1084.9 1026.9,1072.4 1027.1,1084.9 1027.4,1084.9 1027.6,1078.6 1027.8,1072.4 1028.1,1084.9 1028.3,1103.6 1028.6,1091.1 1028.8,1053.7 1029.1,1078.6 1029.3,1072.4 1029.5,1084.9 1029.8,1066.2 1030,1066.2 1030.3,1091.1 1030.5,1053.7 1030.7,1053.7 1031,1072.4 1031.2,1066.2 1031.5,1091.1 1031.7,1066.2 1032,1059.9 1032.2,1016.3 1032.4,1078.6 1032.7,1091.1 1032.9,1072.4 1033.2,1053.7 1033.4,1041.2 1033.6,1059.9 1033.9,1047.5 1034.1,1097.3 1034.4,1028.8 1034.6,1053.7 1034.8,1066.2 1035.1,1066.2 1035.3,1078.6 1035.6,1072.4 1035.8,1035 1036.1,1072.4 1036.3,1078.6 1036.5,1041.2 1036.8,1091.1 1037,1084.9 1037.3,1072.4 1037.5,1072.4 1037.7,1053.7 1038,1084.9 1038.2,1066.2 1038.5,1084.9 1038.7,1028.8 1039,1097.3 1039.2,1084.9 1039.4,1072.4 1039.7,1078.6 1039.9,1041.2 1040.2,1053.7 1040.4,1041.2 1040.6,1047.5 1040.9,1066.2 1041.1,1053.7 1041.4,1078.6 1041.6,1041.2 1041.8,1072.4 1042.1,1066.2 1042.3,1053.7 1042.6,1072.4 1042.8,1041.2 1043.1,1041.2 1043.3,1059.9 1043.5,1053.7 1043.8,1072.4 1044,1041.2 1044.3,1041.2 1044.5,1003.9 1044.7,1053.7 1045,1041.2 1045.2,1041.2 1045.5,1047.5 1045.7,1072.4 1046,1028.8 1046.2,1059.9 1046.4,1066.2 1046.7,1053.7 1046.9,1035 1047.2,1041.2 1047.4,1022.6 1047.6,1028.8 1047.9,1028.8 1048.1,1053.7 1048.4,1047.5 1048.6,1035 1048.8,1078.6 1049.1,1028.8 1049.3,1053.7 1049.6,1035 1049.8,1053.7 1050.1,997.6 1050.3,1041.2 1050.5,1047.5 1050.8,991.4 1051,1022.6 1051.3,991.4 1051.5,972.7 1051.7,1022.6 1052,972.7 1052.2,972.7 1052.5,1010.1 1052.7,1010.1 1053,1010.1 1053.2,1003.9 1053.4,1041.2 1053.7,1047.5 1053.9,1035 1054.2,978.9 1054.4,929.1 1054.6,991.4 1054.9,916.6 1055.1,910.4 1055.4,997.6 1055.6,991.4 1055.8,929.1 1056.1,916.6 1056.3,960.2 1056.6,922.9 1056.8,947.8 1057.1,910.4 1057.3,929.1 1057.5,922.9 1057.8,935.3 1058,941.6 1058.3,910.4 1058.5,879.2 1058.7,860.5 1059,910.4 1059.2,897.9 1059.5,879.2 1059.7,841.9 1060,841.9 1060.2,835.6 1060.4,785.8 1060.7,804.5 1060.9,810.7 1061.2,798.2 1061.4,835.6 1061.6,866.8 1061.9,854.3 1062.1,804.5 1062.4,760.9 1062.6,742.2 1062.8,679.8 1063.1,704.8 1063.3,704.8 1063.6,779.5 1063.8,686.1 1064.1,760.9 1064.3,742.2 1064.5,798.2 1064.8,679.8 1065,792 1065.3,729.7 1065.5,792 1065.7,798.2 1066,742.2 1066.2,816.9 1066.5,754.6 1066.7,798.2 1067,760.9 1067.2,767.1 1067.4,767.1 1067.7,798.2 1067.9,866.8 1068.2,810.7 1068.4,735.9 1068.6,904.2 1068.9,785.8 1069.1,767.1 1069.4,835.6 1069.6,904.2 1069.8,904.2 1070.1,816.9 1070.3,854.3 1070.6,947.8 1070.8,848.1 1071.1,841.9 1071.3,866.8 1071.5,904.2 1071.8,929.1 1072,978.9 1072.3,947.8 1072.5,904.2 1072.7,960.2 1073,941.6 1073.2,954 1073.5,966.5 1073.7,991.4 1074,960.2 1074.2,972.7 1074.4,1016.3 1074.7,941.6 1074.9,972.7 1075.2,985.2 1075.4,991.4 1075.6,978.9 1075.9,947.8 1076.1,1035 1076.4,1041.2 1076.6,1028.8 1076.8,1016.3 1077.1,935.3 1077.3,1035 1077.6,1041.2 1077.8,1028.8 1078.1,991.4 1078.3,1010.1 1078.5,997.6 1078.8,1022.6 1079,997.6 1079.3,1016.3 1079.5,1041.2 1079.7,1028.8 1080,985.2 1080.2,1053.7 1080.5,1047.5 1080.7,1066.2 1081,1035 1081.2,1028.8 1081.4,1084.9 1081.7,1041.2 1081.9,1059.9 1082.2,1053.7 1082.4,1053.7 1082.6,1072.4 1082.9,1016.3 1083.1,1041.2 1083.4,1059.9 1083.6,1022.6 1083.8,1084.9 1084.1,1041.2 1084.3,1078.6 1084.6,1072.4 1084.8,1041.2 1085.1,1028.8 1085.3,1066.2 1085.5,1016.3 1085.8,1078.6 1086,1059.9 1086.3,1078.6 1086.5,1091.1 1086.7,1072.4 1087,1066.2 1087.2,1078.6 1087.5,1041.2 1087.7,1084.9 1088,1091.1 1088.2,1066.2 1088.4,1078.6 1088.7,1084.9 1088.9,1072.4 1089.2,1047.5 1089.4,1072.4 1089.6,1059.9 1089.9,1072.4 1090.1,1091.1 1090.4,1078.6 1090.6,1091.1 1090.8,1072.4 1091.1,1047.5 1091.3,1072.4 1091.6,1091.1 1091.8,1066.2 1092.1,1066.2 1092.3,1109.8 1092.5,1059.9 1092.8,1041.2 1093,1047.5 1093.3,1053.7 1093.5,1041.2 1093.7,1084.9 1094,1066.2 1094.2,1072.4 1094.5,1097.3 1094.7,1091.1 1095,1078.6 1095.2,1103.6 1095.4,1053.7 1095.7,1066.2 1095.9,1084.9 1096.2,1078.6 1096.4,1109.8 1096.6,1078.6 1096.9,1091.1 1097.1,1078.6 1097.4,1091.1 1097.6,1084.9 1097.8,1072.4 1098.1,1072.4 1098.3,1097.3 1098.6,1072.4 1098.8,1097.3 1099.1,1091.1 1099.3,1059.9 1099.5,1072.4 1099.8,1097.3 1100,1078.6 1100.3,1078.6 1100.5,1078.6 1100.7,1059.9 1101,1084.9 1101.2,1078.6 1101.5,1066.2 1101.7,1103.6 1102,1078.6 1102.2,1103.6 1102.4,1078.6 1102.7,1103.6 1102.9,1109.8 1103.2,1091.1 1103.4,1072.4 1103.6,1078.6 1103.9,1097.3 1104.1,1097.3 1104.4,1084.9 1104.6,1084.9 1104.8,1091.1 1105.1,1109.8 1105.3,1059.9 1105.6,1091.1 1105.8,1103.6 1106.1,1072.4 1106.3,1072.4 1106.5,1097.3 1106.8,1072.4 1107,1091.1 1107.3,1103.6 1107.5,1103.6 1107.7,1066.2 1108,1097.3 1108.2,1078.6 1108.5,1091.1 1108.7,1091.1 1109,1084.9 1109.2,1097.3 1109.4,1078.6 1109.7,1097.3 1109.9,1097.3 1110.2,1084.9 1110.4,1103.6 1110.6,1059.9 1110.9,1078.6 1111.1,1097.3 1111.4,1103.6 1111.6,1103.6 1111.8,1078.6 1112.1,1109.8 1112.3,1084.9 1112.6,1103.6 1112.8,1072.4 1113.1,1053.7 1113.3,1084.9 1113.5,1109.8 1113.8,1097.3 1114,1109.8 1114.3,1091.1 1114.5,1097.3 1114.7,1097.3 1115,1084.9 1115.2,1072.4 1115.5,1122.2 1115.7,1084.9 1116,1084.9 1116.2,1078.6 1116.4,1109.8 1116.7,1072.4 1116.9,1072.4 1117.2,1091.1 1117.4,1091.1 1117.6,1091.1 1117.9,1097.3 1118.1,1116 1118.4,1072.4 1118.6,1109.8 1118.8,1078.6 1119.1,1072.4 1119.3,1097.3 1119.6,1091.1 1119.8,1116 1120.1,1091.1 1120.3,1103.6 1120.5,1084.9 1120.8,1097.3 1121,1097.3 1121.3,1097.3 1121.5,1091.1 1121.7,1097.3 1122,1103.6 1122.2,1116 1122.5,1097.3 1122.7,1097.3 1123,1084.9 1123.2,1097.3 1123.4,1103.6 1123.7,1097.3 1123.9,1097.3 1124.2,1091.1 1124.4,1103.6 1124.6,1078.6 1124.9,1103.6 1125.1,1103.6 1125.4,1078.6 1125.6,1084.9 1125.8,1103.6 1126.1,1084.9 1126.3,1091.1 1126.6,1103.6 1126.8,1103.6 1127.1,1103.6 1127.3,1097.3 1127.5,1059.9 1127.8,1097.3 1128,1097.3 1128.3,1097.3 1128.5,1109.8 1128.7,1109.8 1129,1084.9 1129.2,1103.6 1129.5,1109.8 1129.7,1109.8 1129.9,1109.8 1130.2,1091.1 1130.4,1097.3 1130.7,1084.9 1130.9,1116 1131.2,1103.6 1131.4,1084.9 1131.6,1109.8 1131.9,1091.1 1132.1,1103.6 1132.4,1116 1132.6,1109.8 1132.8,1097.3 1133.1,1091.1 1133.3,1103.6 1133.6,1109.8 1133.8,1097.3 1134.1,1084.9 1134.3,1091.1 1134.5,1078.6 1134.8,1103.6 1135,1072.4 1135.3,1097.3 1135.5,1097.3 1135.7,1116 1136,1103.6 1136.2,1091.1 1136.5,1059.9 1136.7,1084.9 1136.9,1103.6 1137.2,1097.3 1137.4,1084.9 1137.7,1116 1137.9,1097.3 1138.2,1109.8 1138.4,1116 1138.6,1103.6 1138.9,1122.2 1139.1,1084.9 1139.4,1103.6 1139.6,1097.3 1139.8,1103.6 1140.1,1097.3 1140.3,1091.1 1140.6,1103.6 1140.8,1109.8 1141.1,1091.1 1141.3,1091.1 1141.5,1116 1141.8,1066.2 1142,1103.6 1142.3,1091.1 1142.5,1091.1 1142.7,1091.1 1143,1091.1 1143.2,1078.6 1143.5,1091.1 1143.7,1066.2 1143.9,1109.8 1144.2,1091.1 1144.4,1091.1 1144.7,1097.3 1144.9,1097.3 1145.2,1109.8 1145.4,1103.6 1145.6,1078.6 1145.9,1097.3 1146.1,1097.3 1146.4,1091.1 1146.6,1109.8 1146.8,1109.8 1147.1,1109.8 1147.3,1116 1147.6,1103.6 1147.8,1109.8 1148.1,1103.6 1148.3,1097.3 1148.5,1097.3 1148.8,1109.8 1149,1078.6 1149.3,1097.3 1149.5,1084.9 1149.7,1078.6 1150,1103.6 1150.2,1066.2 1150.5,1084.9 1150.7,1122.2 1150.9,1078.6 1151.2,1109.8 1151.4,1122.2 1151.7,1084.9 1151.9,1116 1152.2,1097.3 1152.4,1116 1152.6,1078.6 1152.9,1097.3 1153.1,1097.3 1153.4,1091.1 1153.6,1097.3 1153.8,1097.3 1154.1,1109.8 1154.3,1097.3 1154.6,1084.9 1154.8,1103.6 1155.1,1103.6 1155.3,1116 1155.5,1091.1 1155.8,1084.9 1156,1091.1 1156.3,1084.9 1156.5,1084.9 1156.7,1097.3 1157,1109.8 1157.2,1097.3 1157.5,1109.8 1157.7,1078.6 1157.9,1091.1 1158.2,1103.6 1158.4,1097.3 1158.7,1084.9 1158.9,1122.2 1159.2,1103.6 1159.4,1103.6 1159.6,1109.8 1159.9,1091.1 1160.1,1116 1160.4,1084.9 1160.6,1116 1160.8,1116 1161.1,1109.8 1161.3,1116 1161.6,1072.4 1161.8,1097.3 1162.1,1097.3 1162.3,1097.3 1162.5,1103.6 1162.8,1091.1 1163,1103.6 1163.3,1109.8 1163.5,1078.6 1163.7,1091.1 1164,1091.1 1164.2,1097.3 1164.5,1091.1 1164.7,1084.9 1164.9,1072.4 1165.2,1116 1165.4,1116 1165.7,1097.3 1165.9,1103.6 1166.2,1097.3 1166.4,1097.3 1166.6,1109.8 1166.9,1116 1167.1,1103.6 1167.4,1116 1167.6,1097.3 1167.8,1103.6 1168.1,1109.8 1168.3,1103.6 1168.6,1103.6 1168.8,1097.3 1169.1,1103.6 1169.3,1084.9 1169.5,1078.6 1169.8,1109.8 1170,1084.9 1170.3,1078.6 1170.5,1091.1 1170.7,1116 1171,1078.6 1171.2,1122.2 1171.5,1103.6 1171.7,1103.6 1171.9,1116 1172.2,1084.9 1172.4,1109.8 1172.7,1097.3 1172.9,1109.8 1173.2,1103.6 1173.4,1091.1 1173.6,1097.3 1173.9,1091.1 1174.1,1109.8 1174.4,1122.2 1174.6,1091.1 1174.8,1116 1175.1,1084.9 1175.3,1097.3 1175.6,1084.9 1175.8,1103.6 1176.1,1091.1 1176.3,1116 1176.5,1078.6 1176.8,1084.9 1177,1116 1177.3,1109.8 1177.5,1116 1177.7,1103.6 1178,1116 1178.2,1116 1178.5,1109.8 1178.7,1078.6 1178.9,1097.3 1179.2,1122.2 1179.4,1109.8 1179.7,1097.3 1179.9,1084.9 1180.2,1097.3 1180.4,1078.6 1180.6,1116 1180.9,1116 1181.1,1078.6 1181.4,1109.8 1181.6,1116 1181.8,1103.6 1182.1,1109.8 1182.3,1103.6 1182.6,1078.6 1182.8,1109.8 1183.1,1103.6 1183.3,1109.8 1183.5,1097.3 1183.8,1103.6 1184,1109.8 1184.3,1122.2 1184.5,1103.6 1184.7,1091.1 1185,1097.3 1185.2,1103.6 1185.5,1103.6 1185.7,1091.1 1185.9,1091.1 1186.2,1103.6 1186.4,1109.8 1186.7,1097.3 1186.9,1091.1 1187.2,1116 1187.4,1097.3 1187.6,1097.3 1187.9,1116 1188.1,1109.8 1188.4,1103.6 1188.6,1109.8 1188.8,1097.3 1189.1,1116 1189.3,1084.9 1189.6,1091.1 1189.8,1097.3 1190.1,1078.6 1190.3,1097.3 1190.5,1084.9 1190.8,1122.2 1191,1122.2 1191.3,1091.1 1191.5,1103.6 1191.7,1109.8 1192,1116 1192.2,1116 1192.5,1097.3 1192.7,1103.6 1192.9,1116 1193.2,1097.3 1193.4,1097.3 1193.7,1109.8 1193.9,1116 1194.2,1084.9 1194.4,1091.1 1194.6,1103.6 1194.9,1091.1 1195.1,1103.6 1195.4,1109.8 1195.6,1103.6 1195.8,1109.8 1196.1,1097.3 1196.3,1103.6 1196.6,1103.6 1196.8,1103.6 1197.1,1116 1197.3,1103.6 1197.5,1103.6 1197.8,1097.3 1198,1097.3 1198.3,1109.8 1198.5,1116 1198.7,1097.3 1199,1078.6 1199.2,1091.1 1199.5,1116 1199.7,1116 1199.9,1097.3 1200.2,1103.6 1200.4,1122.2 1200.7,1091.1 1200.9,1122.2 1201.2,1097.3 1201.4,1109.8 1201.6,1097.3 1201.9,1122.2 1202.1,1103.6 1202.4,1091.1 1202.6,1097.3 1202.8,1078.6 1203.1,1116 1203.3,1084.9 1203.6,1116 1203.8,1103.6 1204.1,1091.1 1204.3,1091.1 1204.5,1109.8 1204.8,1103.6 1205,1122.2 1205.3,1109.8 1205.5,1116 1205.7,1109.8 1206,1103.6 1206.2,1097.3 1206.5,1116 1206.7,1084.9 1206.9,1078.6 1207.2,1116 1207.4,1091.1 1207.7,1103.6 1207.9,1109.8 1208.2,1122.2 1208.4,1078.6 1208.6,1109.8 1208.9,1097.3 1209.1,1116 1209.4,1103.6 1209.6,1109.8 1209.8,1103.6 1210.1,1109.8 1210.3,1116 1210.6,1084.9 1210.8,1103.6 1211.1,1097.3 1211.3,1078.6 1211.5,1097.3 1211.8,1109.8 1212,1103.6 1212.3,1116 1212.5,1103.6 1212.7,1116 1213,1109.8 1213.2,1103.6 1213.5,1122.2 1213.7,1109.8 1213.9,1103.6 1214.2,1097.3 1214.4,1103.6 1214.7,1103.6 1214.9,1109.8 1215.2,1072.4 1215.4,1103.6 1215.6,1116 1215.9,1122.2 1216.1,1103.6 1216.4,1097.3 1216.6,1091.1 1216.8,1078.6 1217.1,1103.6 1217.3,1097.3 1217.6,1103.6 1217.8,1109.8 1218.1,1103.6 1218.3,1109.8 1218.5,1103.6 1218.8,1109.8 1219,1116 1219.3,1109.8 1219.5,1091.1 1219.7,1084.9 1220,1109.8 1220.2,1103.6 1220.5,1103.6 1220.7,1066.2 1220.9,1084.9 1221.2,1109.8 1221.4,1122.2 1221.7,1097.3 1221.9,1091.1 1222.2,1109.8 1222.4,1109.8 1222.6,1109.8 1222.9,1091.1 1223.1,1097.3 1223.4,1116 1223.6,1103.6 1223.8,1109.8 1224.1,1103.6 1224.3,1084.9 1224.6,1097.3 1224.8,1103.6 1225.1,1084.9 1225.3,1091.1 1225.5,1103.6 1225.8,1072.4 1226,1097.3 1226.3,1097.3 1226.5,1084.9 1226.7,1097.3 1227,1084.9 1227.2,1116 1227.5,1109.8 1227.7,1109.8 1227.9,1078.6 1228.2,1116 1228.4,1103.6 1228.7,1103.6 1228.9,1078.6 1229.2,1078.6 1229.4,1109.8 1229.6,1066.2 1229.9,1109.8 1230.1,1097.3 1230.4,1097.3 1230.6,1072.4 1230.8,1097.3 1231.1,1109.8 1231.3,1116 1231.6,1091.1 1231.8,1109.8 1232.1,1091.1 1232.3,1103.6 1232.5,1109.8 1232.8,1091.1 1233,1084.9 1233.3,1091.1 1233.5,1097.3 1233.7,1072.4 1234,1072.4 1234.2,1091.1 1234.5,1103.6 1234.7,1078.6 1234.9,1091.1 1235.2,1091.1 1235.4,1084.9 1235.7,1066.2 1235.9,1109.8 1236.2,1078.6 1236.4,1072.4 1236.6,1091.1 1236.9,1072.4 1237.1,1097.3 1237.4,1109.8 1237.6,1097.3 1237.8,1078.6 1238.1,1084.9 1238.3,1078.6 1238.6,1103.6 1238.8,1072.4 1239.1,1097.3 1239.3,1072.4 1239.5,1097.3 1239.8,1097.3 1240,1091.1 1240.3,1103.6 1240.5,1091.1 1240.7,1091.1 1241,1053.7 1241.2,1078.6 1241.5,1047.5 1241.7,1109.8 1241.9,1078.6 1242.2,1091.1 1242.4,1097.3 1242.7,1091.1 1242.9,1066.2 1243.2,1084.9 1243.4,1066.2 1243.6,1091.1 1243.9,1072.4 1244.1,1091.1 1244.4,1084.9 1244.6,1078.6 1244.8,1072.4 1245.1,1084.9 1245.3,1078.6 1245.6,1109.8 1245.8,1103.6 1246.1,1091.1 1246.3,1084.9 1246.5,1066.2 1246.8,1091.1 1247,1109.8 1247.3,1103.6 1247.5,1091.1 1247.7,1103.6 1248,1103.6 1248.2,1103.6 1248.5,1103.6 1248.7,1103.6 1248.9,1091.1 1249.2,1109.8 1249.4,1091.1 1249.7,1091.1 1249.9,1097.3 1250.2,1097.3 1250.4,1078.6 1250.6,1109.8 1250.9,1091.1 1251.1,1091.1 1251.4,1097.3 1251.6,1116 1251.8,1078.6 1252.1,1116 1252.3,1091.1 1252.6,1103.6 1252.8,1097.3 1253.1,1084.9 1253.3,1091.1 1253.5,1122.2 1253.8,1091.1 1254,1084.9 1254.3,1091.1 1254.5,1103.6 1254.7,1103.6 1255,1097.3 1255.2,1084.9 1255.5,1091.1 1255.7,1103.6 1255.9,1109.8 1256.2,1078.6 1256.4,1109.8 1256.7,1109.8 1256.9,1091.1 1257.2,1103.6 1257.4,1078.6 1257.6,1091.1 1257.9,1091.1 1258.1,1109.8 1258.4,1109.8 1258.6,1091.1 1258.8,1091.1 1259.1,1097.3 1259.3,1097.3 1259.6,1109.8 1259.8,1116 1260.1,1103.6 1260.3,1084.9 1260.5,1103.6 1260.8,1109.8 1261,1116 1261.3,1072.4 1261.5,1103.6 1261.7,1103.6 1262,1084.9 1262.2,1103.6 1262.5,1091.1 1262.7,1097.3 1262.9,1116 1263.2,1103.6 1263.4,1116 1263.7,1097.3 1263.9,1103.6 1264.2,1103.6 1264.4,1109.8 1264.6,1103.6 1264.9,1103.6 1265.1,1097.3 1265.4,1097.3 1265.6,1122.2 1265.8,1103.6 1266.1,1109.8 1266.3,1103.6 1266.6,1091.1 1266.8,1103.6 1267.1,1097.3 1267.3,1116 1267.5,1084.9 1267.8,1097.3 1268,1078.6 1268.3,1097.3 1268.5,1103.6 1268.7,1097.3 1269,1091.1 1269.2,1097.3 1269.5,1116 1269.7,1103.6 1269.9,1116 1270.2,1091.1 1270.4,1103.6 1270.7,1091.1 1270.9,1109.8 1271.2,1109.8 1271.4,1091.1 1271.6,1084.9 1271.9,1091.1 1272.1,1109.8 1272.4,1116 1272.6,1116 1272.8,1116 1273.1,1116 1273.3,1109.8 1273.6,1109.8 1273.8,1084.9 1274.1,1097.3 1274.3,1109.8 1274.5,1103.6 1274.8,1116 1275,1084.9 1275.3,1097.3 1275.5,1109.8 1275.7,1091.1 1276,1091.1 1276.2,1097.3 1276.5,1084.9 1276.7,1091.1 1276.9,1084.9 1277.2,1116 1277.4,1116 1277.7,1109.8 1277.9,1097.3 1278.2,1116 1278.4,1097.3 1278.6,1097.3 1278.9,1072.4 1279.1,1097.3 1279.4,1103.6 1279.6,1116 1279.8,1109.8 1280.1,1109.8 1280.3,1103.6 1280.6,1103.6 1280.8,1116 1281.1,1116 1281.3,1097.3 1281.5,1116 1281.8,1103.6 1282,1091.1 1282.3,1103.6 1282.5,1103.6 1282.7,1084.9 1283,1097.3 1283.2,1091.1 1283.5,1122.2 1283.7,1109.8 1283.9,1097.3 1284.2,1084.9 1284.4,1084.9 1284.7,1109.8 1284.9,1097.3 1285.2,1103.6 1285.4,1103.6 1285.6,1103.6 1285.9,1116 1286.1,1103.6 1286.4,1091.1 1286.6,1122.2 1286.8,1103.6 1287.1,1103.6 1287.3,1091.1 1287.6,1109.8 1287.8,1109.8 1288.1,1109.8 1288.3,1091.1 1288.5,1091.1 1288.8,1091.1 1289,1109.8 1289.3,1103.6 1289.5,1097.3 1289.7,1084.9 1290,1109.8 1290.2,1103.6 1290.5,1116 1290.7,1116 1290.9,1084.9 1291.2,1109.8 1291.4,1116 1291.7,1091.1 1291.9,1103.6 1292.2,1109.8 1292.4,1091.1 1292.6,1122.2 1292.9,1103.6 1293.1,1103.6 1293.4,1097.3 1293.6,1122.2 1293.8,1103.6 1294.1,1109.8 1294.3,1091.1 1294.6,1091.1 1294.8,1097.3 1295.1,1116 1295.3,1103.6 1295.5,1122.2 1295.8,1109.8 1296,1097.3 1296.3,1122.2 1296.5,1103.6 1296.7,1103.6 1297,1122.2 1297.2,1103.6 1297.5,1116 1297.7,1116 1297.9,1097.3 1298.2,1109.8 1298.4,1103.6 1298.7,1109.8 1298.9,1109.8 1299.2,1097.3 1299.4,1091.1 1299.6,1103.6 1299.9,1116 1300.1,1116 1300.4,1109.8 1300.6,1091.1 1300.8,1103.6 1301.1,1084.9 1301.3,1091.1 1301.6,1109.8 1301.8,1103.6 1302.1,1097.3 1302.3,1097.3 1302.5,1103.6 1302.8,1091.1 1303,1084.9 1303.3,1116 1303.5,1103.6 1303.7,1109.8 1304,1116 1304.2,1116 1304.5,1091.1 1304.7,1091.1 1304.9,1116 1305.2,1078.6 1305.4,1084.9 1305.7,1116 1305.9,1109.8 1306.2,1109.8 1306.4,1109.8 1306.6,1116 1306.9,1097.3 1307.1,1103.6 1307.4,1109.8 1307.6,1103.6 1307.8,1103.6 1308.1,1091.1 1308.3,1097.3 1308.6,1103.6 1308.8,1103.6 1309.1,1103.6 1309.3,1109.8 1309.5,1097.3 1309.8,1109.8 1310,1097.3 1310.3,1109.8 1310.5,1091.1 1310.7,1072.4 1311,1103.6 1311.2,1109.8 1311.5,1109.8 1311.7,1103.6 1311.9,1109.8 1312.2,1109.8 1312.4,1122.2 1312.7,1097.3 1312.9,1109.8 1313.2,1097.3 1313.4,1109.8 1313.6,1103.6 1313.9,1116 1314.1,1116 1314.4,1103.6 1314.6,1109.8 1314.8,1103.6 1315.1,1116 1315.3,1116 1315.6,1122.2 1315.8,1116 1316.1,1103.6 1316.3,1103.6 1316.5,1116 1316.8,1084.9 1317,1091.1 1317.3,1097.3 1317.5,1109.8 1317.7,1109.8 1318,1103.6 1318.2,1091.1 1318.5,1116 1318.7,1109.8 1318.9,1109.8 1319.2,1097.3 1319.4,1109.8 1319.7,1103.6 1319.9,1091.1 1320.2,1091.1 1320.4,1109.8 1320.6,1122.2 1320.9,1103.6 1321.1,1103.6 1321.4,1109.8 1321.6,1109.8 1321.8,1109.8 1322.1,1109.8 1322.3,1109.8 1322.6,1103.6 1322.8,1109.8 1323,1109.8 1323.3,1109.8 1323.5,1109.8 1323.8,1103.6 1324,1097.3 1324.3,1116 1324.5,1097.3 1324.7,1084.9 1325,1097.3 1325.2,1084.9 1325.5,1109.8 1325.7,1097.3 1325.9,1103.6 1326.2,1091.1 1326.4,1097.3 1326.7,1109.8 1326.9,1078.6 1327.2,1109.8 1327.4,1116 1327.6,1103.6 1327.9,1097.3 1328.1,1116 1328.4,1122.2 1328.6,1116 1328.8,1109.8 1329.1,1122.2 1329.3,1116 1329.6,1084.9 1329.8,1103.6 1330,1103.6 1330.3,1097.3 1330.5,1109.8 1330.8,1084.9 1331,1116 1331.3,1097.3 1331.5,1109.8 1331.7,1109.8 1332,1122.2 1332.2,1103.6 1332.5,1097.3 1332.7,1109.8 1332.9,1103.6 1333.2,1109.8 1333.4,1097.3 1333.7,1103.6 1333.9,1097.3 1334.2,1097.3 1334.4,1097.3 1334.6,1122.2 1334.9,1116 1335.1,1109.8 1335.4,1097.3 1335.6,1091.1 1335.8,1116 1336.1,1097.3 1336.3,1084.9 1336.6,1097.3 1336.8,1109.8 1337,1091.1 1337.3,1116 1337.5,1109.8 1337.8,1109.8 1338,1097.3 1338.3,1116 1338.5,1072.4 1338.7,1116 1339,1109.8 1339.2,1116 1339.5,1116 1339.7,1097.3 1339.9,1116 1340.2,1091.1 1340.4,1109.8 1340.7,1109.8 1340.9,1122.2 1341.2,1109.8 1341.4,1103.6 1341.6,1103.6 1341.9,1116 1342.1,1084.9 1342.4,1091.1 1342.6,1103.6 1342.8,1122.2 1343.1,1091.1 1343.3,1109.8 1343.6,1116 1343.8,1109.8 1344,1097.3 1344.3,1122.2 1344.5,1097.3 1344.8,1091.1 1345,1109.8 1345.3,1084.9 1345.5,1084.9 1345.7,1091.1 1346,1103.6 1346.2,1103.6 1346.5,1109.8 1346.7,1116 1346.9,1097.3 1347.2,1116 1347.4,1116 1347.7,1122.2 1347.9,1097.3 1348.2,1122.2 1348.4,1109.8 1348.6,1097.3 1348.9,1116 1349.1,1097.3 1349.4,1097.3 1349.6,1097.3 1349.8,1109.8 1350.1,1103.6 1350.3,1103.6 1350.6,1109.8 1350.8,1103.6 1351,1097.3 1351.3,1097.3 1351.5,1116 1351.8,1103.6 1352,1109.8 1352.3,1116 1352.5,1116 1352.7,1109.8 1353,1103.6 1353.2,1097.3 1353.5,1103.6 1353.7,1097.3 1353.9,1109.8 1354.2,1078.6 1354.4,1084.9 1354.7,1116 1354.9,1122.2 1355.2,1116 1355.4,1103.6 1355.6,1103.6 1355.9,1097.3 1356.1,1103.6 1356.4,1103.6 1356.6,1116 1356.8,1103.6 1357.1,1091.1 1357.3,1109.8 1357.6,1109.8 1357.8,1091.1 1358,1122.2 1358.3,1103.6 1358.5,1109.8 1358.8,1103.6 1359,1103.6 1359.3,1091.1 1359.5,1097.3 1359.7,1097.3 1360,1084.9 1360.2,1097.3 1360.5,1103.6 1360.7,1109.8 1360.9,1097.3 1361.2,1103.6 1361.4,1109.8 1361.7,1078.6 1361.9,1109.8 1362.2,1103.6 1362.4,1109.8 1362.6,1122.2 1362.9,1116 1363.1,1109.8 1363.4,1122.2 1363.6,1109.8 1363.8,1109.8 1364.1,1103.6 1364.3,1091.1 1364.6,1116 1364.8,1103.6 1365,1097.3 1365.3,1109.8 1365.5,1103.6 1365.8,1109.8 1366,1109.8 1366.3,1103.6 1366.5,1097.3 1366.7,1103.6 1367,1072.4 1367.2,1097.3 1367.5,1097.3 1367.7,1097.3 1367.9,1103.6 1368.2,1109.8 1368.4,1097.3 1368.7,1116 1368.9,1103.6 1369.2,1103.6 1369.4,1116 1369.6,1116 1369.9,1116 1370.1,1103.6 1370.4,1116 1370.6,1084.9 1370.8,1103.6 1371.1,1103.6 1371.3,1109.8 1371.6,1103.6 1371.8,1097.3 1372,1091.1 1372.3,1109.8 1372.5,1109.8 1372.8,1122.2 1373,1091.1 1373.3,1116 1373.5,1072.4 1373.7,1097.3 1374,1103.6 1374.2,1097.3 1374.5,1109.8 1374.7,1091.1 1374.9,1091.1 1375.2,1109.8 1375.4,1103.6 1375.7,1116 1375.9,1097.3 1376.2,1109.8 1376.4,1103.6 1376.6,1116 1376.9,1103.6 1377.1,1109.8 1377.4,1097.3 1377.6,1091.1 1377.8,1109.8 1378.1,1116 1378.3,1097.3 1378.6,1109.8 1378.8,1109.8 1379,1109.8 1379.3,1072.4 1379.5,1084.9 1379.8,1116 1380,1122.2 1380.3,1122.2 1380.5,1097.3 1380.7,1116 1381,1109.8 1381.2,1116 1381.5,1103.6 1381.7,1103.6 1381.9,1103.6 1382.2,1103.6 1382.4,1109.8 1382.7,1103.6 1382.9,1097.3 1383.2,1116 1383.4,1116 1383.6,1116 1383.9,1109.8 1384.1,1072.4 1384.4,1109.8 1384.6,1097.3 1384.8,1103.6 1385.1,1109.8 1385.3,1072.4 1385.6,1109.8 1385.8,1091.1 1386,1084.9 1386.3,1097.3 1386.5,1109.8 1386.8,1116 1387,1109.8 1387.3,1109.8 1387.5,1097.3 1387.7,1116 1388,1109.8 1388.2,1109.8 1388.5,1109.8 1388.7,1116 1388.9,1084.9 1389.2,1109.8 1389.4,1109.8 1389.7,1103.6 1389.9,1103.6 1390.2,1103.6 1390.4,1097.3 1390.6,1109.8 1390.9,1084.9 1391.1,1091.1 1391.4,1109.8 1391.6,1109.8 1391.8,1103.6 1392.1,1091.1 1392.3,1116 1392.6,1103.6 1392.8,1103.6 1393,1109.8 1393.3,1109.8 1393.5,1116 1393.8,1116 1394,1097.3 1394.3,1091.1 1394.5,1122.2 1394.7,1097.3 1395,1116 1395.2,1116 1395.5,1091.1 1395.7,1109.8 1395.9,1109.8 1396.2,1116 1396.4,1116 1396.7,1122.2 1396.9,1097.3 1397.2,1116 1397.4,1109.8 1397.6,1103.6 1397.9,1097.3 1398.1,1084.9 1398.4,1116 1398.6,1109.8 1398.8,1116 1399.1,1109.8 1399.3,1116 1399.6,1122.2 1399.8,1097.3 1400,1109.8 1400.3,1103.6 1400.5,1116 1400.8,1109.8 1401,1091.1 1401.3,1103.6 1401.5,1109.8 1401.7,1097.3 1402,1103.6 1402.2,1103.6 1402.5,1109.8 1402.7,1109.8 1402.9,1116 1403.2,1116 1403.4,1109.8 1403.7,1109.8 1403.9,1097.3 1404.2,1122.2 1404.4,1097.3 1404.6,1116 1404.9,1116 1405.1,1103.6 1405.4,1097.3 1405.6,1084.9 1405.8,1109.8 1406.1,1103.6 1406.3,1109.8 1406.6,1109.8 1406.8,1091.1 1407,1116 1407.3,1116 1407.5,1103.6 1407.8,1116 1408,1116 1408.3,1116 1408.5,1116 1408.7,1097.3 1409,1116 1409.2,1116 1409.5,1109.8 1409.7,1103.6 1409.9,1109.8 1410.2,1103.6 1410.4,1116 1410.7,1103.6 1410.9,1109.8 1411.2,1109.8 1411.4,1103.6 1411.6,1097.3 1411.9,1109.8 1412.1,1103.6 1412.4,1103.6 1412.6,1116 1412.8,1109.8 1413.1,1103.6 1413.3,1109.8 1413.6,1109.8 1413.8,1097.3 1414,1103.6 1414.3,1091.1 1414.5,1109.8 1414.8,1097.3 1415,1116 1415.3,1116 1415.5,1122.2 1415.7,1097.3 1416,1084.9 1416.2,1084.9 1416.5,1084.9 1416.7,1109.8 1416.9,1116 1417.2,1103.6 1417.4,1109.8 1417.7,1122.2 1417.9,1116 1418.2,1109.8 1418.4,1084.9 1418.6,1103.6 1418.9,1122.2 1419.1,1097.3 1419.4,1109.8 1419.6,1109.8 1419.8,1103.6 1420.1,1097.3 1420.3,1103.6 1420.6,1109.8 1420.8,1091.1 1421,1097.3 1421.3,1122.2 1421.5,1122.2 1421.8,1097.3 1422,1091.1 1422.3,1116 1422.5,1109.8 1422.7,1116 1423,1109.8 1423.2,1103.6 1423.5,1097.3 1423.7,1122.2 1423.9,1109.8 1424.2,1097.3 1424.4,1116 1424.7,1122.2 1424.9,1103.6 1425.2,1116 1425.4,1091.1 1425.6,1116 1425.9,1109.8 1426.1,1109.8 1426.4,1084.9 1426.6,1091.1 1426.8,1109.8 1427.1,1109.8 1427.3,1116 1427.6,1097.3 1427.8,1116 1428,1097.3 1428.3,1103.6 1428.5,1116 1428.8,1109.8 1429,1109.8 1429.3,1097.3 1429.5,1116 1429.7,1103.6 1430,1097.3 1430.2,1072.4 1430.5,1084.9 1430.7,1103.6 1430.9,1097.3 1431.2,1097.3 1431.4,1109.8 1431.7,1097.3 1431.9,1122.2 1432.2,1109.8 1432.4,1122.2 1432.6,1084.9 1432.9,1109.8 1433.1,1122.2 1433.4,1097.3 1433.6,1109.8 1433.8,1116 1434.1,1097.3 1434.3,1072.4 1434.6,1103.6 1434.8,1103.6 1435,1109.8 1435.3,1109.8 1435.5,1091.1 1435.8,1116 1436,1097.3 1436.3,1103.6 1436.5,1122.2 1436.7,1078.6 1437,1097.3 1437.2,1116 1437.5,1116 1437.7,1097.3 1437.9,1116 1438.2,1103.6 1438.4,1116 1438.7,1103.6 1438.9,1109.8 1439.2,1103.6 1439.4,1097.3 1439.6,1116 1439.9,1116 1440.1,1109.8 1440.4,1097.3 1440.6,1072.4 1440.8,1103.6 1441.1,1091.1 1441.3,1103.6 1441.6,1116 1441.8,1103.6 1442,1109.8 1442.3,1103.6 1442.5,1103.6 1442.8,1109.8 1443,1103.6 1443.3,1109.8 1443.5,1097.3 1443.7,1103.6 1444,1097.3 1444.2,1109.8 1444.5,1122.2 1444.7,1097.3 1444.9,1122.2 1445.2,1109.8 1445.4,1116 1445.7,1122.2 1445.9,1103.6 1446.2,1078.6 1446.4,1103.6 1446.6,1103.6 1446.9,1116 1447.1,1122.2 1447.4,1103.6 1447.6,1116 1447.8,1109.8 1448.1,1116 1448.3,1109.8 1448.6,1116 1448.8,1116 1449,1116 1449.3,1122.2 1449.5,1122.2 1449.8,1116 1450,1091.1 1450.3,1116 1450.5,1084.9 1450.7,1109.8 1451,1103.6 1451.2,1103.6 1451.5,1091.1 1451.7,1109.8 1451.9,1116 1452.2,1116 1452.4,1116 1452.7,1084.9 1452.9,1122.2 1453.2,1097.3 1453.4,1097.3 1453.6,1109.8 1453.9,1109.8 1454.1,1109.8 1454.4,1103.6 1454.6,1116 1454.8,1109.8 1455.1,1122.2 1455.3,1116 1455.6,1122.2 1455.8,1109.8 1456,1103.6 1456.3,1091.1 1456.5,1116 1456.8,1122.2 1457,1116 1457.3,1103.6 1457.5,1097.3 1457.7,1097.3 1458,1097.3 1458.2,1097.3 1458.5,1116 1458.7,1116 1458.9,1097.3 1459.2,1109.8 1459.4,1116 1459.7,1103.6 1459.9,1103.6 1460.2,1097.3 1460.4,1109.8 1460.6,1122.2 1460.9,1097.3 1461.1,1109.8 1461.4,1122.2 1461.6,1122.2 1461.8,1091.1 1462.1,1122.2 1462.3,1109.8 1462.6,1109.8 1462.8,1109.8 1463,1103.6 1463.3,1103.6 1463.5,1097.3 1463.8,1091.1 1464,1109.8 1464.3,1109.8 1464.5,1103.6 1464.7,1097.3 1465,1097.3 1465.2,1116 1465.5,1103.6 1465.7,1116 1465.9,1109.8 1466.2,1116 1466.4,1109.8 1466.7,1109.8 1466.9,1103.6 1467.2,1097.3 1467.4,1122.2 1467.6,1103.6 1467.9,1116 1468.1,1109.8 1468.4,1109.8 1468.6,1084.9 1468.8,1109.8 1469.1,1097.3 1469.3,1103.6 1469.6,1116 1469.8,1103.6 1470,1122.2 1470.3,1109.8 1470.5,1103.6 1470.8,1109.8 1471,1091.1 1471.3,1103.6 1471.5,1103.6 1471.7,1122.2 1472,1116 1472.2,1103.6 1472.5,1109.8 1472.7,1116 1472.9,1109.8 1473.2,1103.6 1473.4,1109.8 1473.7,1116 1473.9,1116 1474.2,1103.6 1474.4,1103.6 1474.6,1091.1 1474.9,1091.1 1475.1,1109.8 1475.4,1109.8 1475.6,1103.6 1475.8,1078.6 1476.1,1116 1476.3,1091.1 1476.6,1116 1476.8,1122.2 1477,1116 1477.3,1109.8 1477.5,1109.8 1477.8,1109.8 1478,1091.1 1478.3,1116 1478.5,1103.6 1478.7,1084.9 1479,1116 1479.2,1109.8 1479.5,1109.8 1479.7,1116 1479.9,1097.3 1480.2,1097.3 1480.4,1116 1480.7,1097.3 1480.9,1091.1 1481.2,1103.6 1481.4,1116 1481.6,1097.3 1481.9,1109.8 1482.1,1103.6 1482.4,1103.6 1482.6,1091.1 1482.8,1122.2 1483.1,1109.8 1483.3,1103.6 1483.6,1103.6 1483.8,1103.6 1484,1116 1484.3,1109.8 1484.5,1103.6 1484.8,1103.6 1485,1109.8 1485.3,1122.2 1485.5,1116 1485.7,1116 1486,1103.6 1486.2,1103.6 1486.5,1084.9 1486.7,1103.6 1486.9,1116 1487.2,1116 1487.4,1116 1487.7,1109.8 1487.9,1097.3 1488.2,1103.6 1488.4,1097.3 1488.6,1122.2 1488.9,1097.3 1489.1,1109.8 1489.4,1103.6 1489.6,1103.6 1489.8,1109.8 1490.1,1091.1 1490.3,1116 1490.6,1109.8 1490.8,1116 1491,1091.1 1491.3,1116 1491.5,1072.4 1491.8,1122.2 1492,1084.9 1492.3,1116 1492.5,1109.8 1492.7,1103.6 1493,1109.8 1493.2,1091.1 1493.5,1109.8 1493.7,1109.8 1493.9,1103.6 1494.2,1116 1494.4,1109.8 1494.7,1097.3 1494.9,1103.6 1495.2,1103.6 1495.4,1116 1495.6,1109.8 1495.9,1103.6 1496.1,1109.8 1496.4,1097.3 1496.6,1116 1496.8,1097.3 1497.1,1109.8 1497.3,1109.8 1497.6,1078.6 1497.8,1122.2 1498,1116 1498.3,1109.8 1498.5,1097.3 1498.8,1116 1499,1103.6 1499.3,1122.2 1499.5,1109.8 1499.7,1116 1500,1116 1500.2,1109.8 1500.5,1109.8 1500.7,1103.6 1500.9,1116 1501.2,1103.6 1501.4,1109.8 1501.7,1116 1501.9,1109.8 1502.2,1116 1502.4,1097.3 1502.6,1103.6 1502.9,1109.8 1503.1,1097.3 1503.4,1109.8 1503.6,1091.1 1503.8,1109.8 1504.1,1116 1504.3,1103.6 1504.6,1103.6 1504.8,1078.6 1505,1109.8 1505.3,1122.2 1505.5,1116 1505.8,1116 1506,1097.3 1506.3,1116 1506.5,1084.9 1506.7,1109.8 1507,1103.6 1507.2,1116 1507.5,1103.6 1507.7,1122.2 1507.9,1116 1508.2,1109.8 1508.4,1103.6 1508.7,1109.8 1508.9,1116 1509.2,1097.3 1509.4,1097.3 1509.6,1103.6 1509.9,1116 1510.1,1116 1510.4,1116 1510.6,1103.6 1510.8,1109.8 1511.1,1084.9 1511.3,1116 1511.6,1103.6 1511.8,1109.8 1512,1091.1 1512.3,1116 1512.5,1097.3 1512.8,1097.3 1513,1109.8 1513.3,1084.9 1513.5,1116 1513.7,1097.3 1514,1116 1514.2,1109.8 1514.5,1103.6 1514.7,1097.3 1514.9,1116 1515.2,1122.2 1515.4,1103.6 1515.7,1122.2 1515.9,1109.8 1516.1,1097.3 1516.4,1109.8 1516.6,1103.6 1516.9,1097.3 1517.1,1084.9 1517.4,1097.3 1517.6,1103.6 1517.8,1103.6 1518.1,1116 1518.3,1103.6 1518.6,1097.3 1518.8,1091.1 1519,1122.2 1519.3,1116 1519.5,1122.2 1519.8,1116 1520,1109.8 1520.3,1103.6 1520.5,1109.8 1520.7,1109.8 1521,1103.6 1521.2,1116 1521.5,1109.8 1521.7,1103.6 1521.9,1084.9 1522.2,1091.1 1522.4,1109.8 1522.7,1109.8 1522.9,1103.6 1523.1,1116 1523.4,1097.3 1523.6,1103.6 1523.9,1116 1524.1,1109.8 1524.4,1116 1524.6,1103.6 1524.8,1091.1 1525.1,1116 1525.3,1109.8 1525.6,1116 1525.8,1091.1 1526,1103.6 1526.3,1122.2 1526.5,1103.6 1526.8,1109.8 1527,1084.9 1527.3,1109.8 1527.5,1109.8 1527.7,1116 1528,1103.6 1528.2,1103.6 1528.5,1109.8 1528.7,1097.3 1528.9,1078.6 1529.2,1097.3 1529.4,1122.2 1529.7,1116 1529.9,1109.8 1530.1,1116 1530.4,1116 1530.6,1116 1530.9,1122.2 1531.1,1116 1531.4,1091.1 1531.6,1109.8 1531.8,1103.6 1532.1,1103.6 1532.3,1116 1532.6,1109.8 1532.8,1109.8 1533,1109.8 1533.3,1097.3 1533.5,1097.3 1533.8,1122.2 1534,1116 1534.3,1109.8 1534.5,1097.3 1534.7,1103.6 1535,1103.6 1535.2,1116 1535.5,1091.1 1535.7,1109.8 1535.9,1109.8 1536.2,1109.8 1536.4,1103.6 1536.7,1109.8 1536.9,1103.6 1537.1,1109.8 1537.4,1116 1537.6,1122.2 1537.9,1091.1 1538.1,1116 1538.4,1109.8 1538.6,1109.8 1538.8,1097.3 1539.1,1116 1539.3,1097.3 1539.6,1103.6 1539.8,1116 1540,1109.8 1540.3,1109.8 1540.5,1109.8 1540.8,1116 1541,1116 1541.3,1097.3 1541.5,1116 1541.7,1116 1542,1097.3 1542.2,1103.6 1542.5,1116 1542.7,1097.3 1542.9,1116 1543.2,1116 1543.4,1078.6 1543.7,1103.6 1543.9,1103.6 1544.1,1109.8 1544.4,1091.1 1544.6,1091.1 1544.9,1116 1545.1,1109.8 1545.4,1109.8 1545.6,1116 1545.8,1097.3 1546.1,1097.3 1546.3,1109.8 1546.6,1122.2 1546.8,1109.8 1547,1103.6 1547.3,1109.8 1547.5,1097.3 1547.8,1116 1548,1116 1548.3,1109.8 1548.5,1122.2 1548.7,1103.6 1549,1109.8 1549.2,1103.6 1549.5,1116 1549.7,1103.6 1549.9,1109.8 1550.2,1097.3 1550.4,1097.3 1550.7,1116 1550.9,1116 1551.1,1109.8 1551.4,1109.8 1551.6,1109.8 1551.9,1078.6 1552.1,1097.3 1552.4,1097.3 1552.6,1097.3 1552.8,1116 1553.1,1122.2 1553.3,1109.8 1553.6,1084.9 1553.8,1084.9 1554,1091.1 1554.3,1116 1554.5,1097.3 1554.8,1091.1 1555,1097.3 1555.3,1091.1 1555.5,1122.2 1555.7,1109.8 1556,1109.8 1556.2,1109.8 1556.5,1091.1 1556.7,1103.6 1556.9,1097.3 1557.2,1091.1 1557.4,1097.3 1557.7,1084.9 1557.9,1103.6 1558.1,1103.6 1558.4,1116 1558.6,1091.1 1558.9,1084.9 1559.1,1122.2 1559.4,1109.8 1559.6,1097.3 1559.8,1103.6 1560.1,1109.8 1560.3,1103.6 1560.6,1103.6 1560.8,1097.3 1561,1109.8 1561.3,1084.9 1561.5,1103.6 1561.8,1116 1562,1109.8 1562.3,1103.6 1562.5,1097.3 1562.7,1097.3 1563,1122.2 1563.2,1109.8 1563.5,1109.8 1563.7,1103.6 1563.9,1084.9 1564.2,1109.8 1564.4,1122.2 1564.7,1103.6 1564.9,1109.8 1565.1,1091.1 1565.4,1116 1565.6,1122.2 1565.9,1109.8 1566.1,1091.1 1566.4,1116 1566.6,1109.8 1566.8,1084.9 1567.1,1084.9 1567.3,1116 1567.6,1122.2 1567.8,1109.8 1568,1109.8 1568.3,1091.1 1568.5,1116 1568.8,1109.8 1569,1109.8 1569.3,1109.8 1569.5,1116 1569.7,1103.6 1570,1097.3 1570.2,1109.8 1570.5,1084.9 1570.7,1116 1570.9,1116 1571.2,1116 1571.4,1091.1 1571.7,1103.6 1571.9,1097.3 1572.1,1116 1572.4,1103.6 1572.6,1103.6 1572.9,1122.2 1573.1,1097.3 1573.4,1084.9 1573.6,1097.3 1573.8,1091.1 1574.1,1103.6 1574.3,1103.6 1574.6,1084.9 1574.8,1116 1575,1109.8 1575.3,1109.8 1575.5,1109.8 1575.8,1109.8 1576,1091.1 1576.3,1116 1576.5,1091.1 1576.7,1103.6 1577,1097.3 1577.2,1122.2 1577.5,1084.9 1577.7,1078.6 1577.9,1109.8 1578.2,1116 1578.4,1103.6 1578.7,1109.8 1578.9,1109.8 1579.1,1109.8 1579.4,1084.9 1579.6,1084.9 1579.9,1097.3 1580.1,1091.1 1580.4,1103.6 1580.6,1116 1580.8,1109.8 1581.1,1122.2 1581.3,1116 1581.6,1103.6 1581.8,1103.6 1582,1078.6 1582.3,1084.9 1582.5,1097.3 1582.8,1109.8 1583,1116 1583.3,1084.9 1583.5,1109.8 1583.7,1116 1584,1116 1584.2,1109.8 1584.5,1103.6 1584.7,1091.1 1584.9,1109.8 1585.2,1103.6 1585.4,1091.1 1585.7,1078.6 1585.9,1097.3 1586.1,1084.9 1586.4,1103.6 1586.6,1109.8 1586.9,1103.6 1587.1,1103.6 1587.4,1116 1587.6,1116 1587.8,1122.2 1588.1,1109.8 1588.3,1084.9 1588.6,1109.8 1588.8,1084.9 1589,1109.8 1589.3,1084.9 1589.5,1103.6 1589.8,1116 1590,1097.3 1590.3,1084.9 1590.5,1109.8 1590.7,1109.8 1591,1097.3 1591.2,1116 1591.5,1103.6 1591.7,1103.6 1591.9,1097.3 1592.2,1109.8 1592.4,1097.3 1592.7,1097.3 1592.9,1072.4 1593.1,1091.1 1593.4,1053.7 1593.6,1078.6 1593.9,1103.6 1594.1,1059.9 1594.4,1091.1 1594.6,1103.6 1594.8,1103.6 1595.1,1116 1595.3,1103.6 1595.6,1091.1 1595.8,1097.3 1596,1084.9 1596.3,1091.1 1596.5,1103.6 1596.8,1078.6 1597,1084.9 1597.3,1084.9 1597.5,1072.4 1597.7,1103.6 1598,1084.9 1598.2,1097.3 1598.5,1097.3 1598.7,1097.3 1598.9,1116 1599.2,1097.3 1599.4,1097.3 1599.7,1084.9 1599.9,1097.3 1600.1,1084.9 1600.4,1066.2 1600.6,1072.4 1600.9,1097.3 1601.1,1084.9 1601.4,1097.3 1601.6,1072.4 1601.8,1078.6 1602.1,1066.2 1602.3,1084.9 1602.6,1097.3 1602.8,1059.9 1603,1084.9 1603.3,1097.3 1603.5,1097.3 1603.8,1097.3 1604,1053.7 1604.3,1047.5 1604.5,1053.7 1604.7,1066.2 1605,1091.1 1605.2,1084.9 1605.5,1109.8 1605.7,1059.9 1605.9,1053.7 1606.2,1084.9 1606.4,1072.4 1606.7,1109.8 1606.9,1084.9 1607.1,1097.3 1607.4,1078.6 1607.6,1072.4 1607.9,1097.3 1608.1,1066.2 1608.4,1072.4 1608.6,1066.2 1608.8,1091.1 1609.1,1072.4 1609.3,1091.1 1609.6,1078.6 1609.8,1041.2 1610,1059.9 1610.3,1078.6 1610.5,1078.6 1610.8,1091.1 1611,1047.5 1611.3,1091.1 1611.5,1059.9 1611.7,1066.2 1612,1103.6 1612.2,1035 1612.5,1084.9 1612.7,991.4 1612.9,1041.2 1613.2,1028.8 1613.4,1078.6 1613.7,1047.5 1613.9,1041.2 1614.1,1059.9 1614.4,1066.2 1614.6,1072.4 1614.9,1078.6 1615.1,1028.8 1615.4,1053.7 1615.6,1078.6 1615.8,1041.2 1616.1,1028.8 1616.3,997.6 1616.6,1059.9 1616.8,1072.4 1617,1066.2 1617.3,1035 1617.5,1028.8 1617.8,1066.2 1618,1035 1618.3,1047.5 1618.5,985.2 1618.7,1041.2 1619,1059.9 1619.2,985.2 1619.5,1059.9 1619.7,1028.8 1619.9,1053.7 1620.2,991.4 1620.4,1047.5 1620.7,1028.8 1620.9,1016.3 1621.1,978.9 1621.4,991.4 1621.6,1059.9 1621.9,1047.5 1622.1,991.4 1622.4,997.6 1622.6,1003.9 1622.8,978.9 1623.1,1028.8 1623.3,997.6 1623.6,1028.8 1623.8,1010.1 1624,1010.1 1624.3,966.5 1624.5,997.6 1624.8,978.9 1625,991.4 1625.3,985.2 1625.5,929.1 1625.7,1003.9 1626,966.5 1626.2,1022.6 1626.5,972.7 1626.7,1016.3 1626.9,929.1 1627.2,947.8 1627.4,1003.9 1627.7,966.5 1627.9,941.6 1628.1,985.2 1628.4,997.6 1628.6,1028.8 1628.9,1003.9 1629.1,1003.9 1629.4,1016.3 1629.6,1022.6 1629.8,960.2 1630.1,1022.6 1630.3,1028.8 1630.6,1016.3 1630.8,1010.1 1631,1016.3 1631.3,1003.9 1631.5,1010.1 1631.8,1072.4 1632,1041.2 1632.3,1028.8 1632.5,1041.2 1632.7,1016.3 1633,1028.8 1633.2,1016.3 1633.5,997.6 1633.7,1072.4 1633.9,1041.2 1634.2,1028.8 1634.4,1041.2 1634.7,1028.8 1634.9,1066.2 1635.1,1035 1635.4,1041.2 1635.6,1066.2 1635.9,1091.1 1636.1,1059.9 1636.4,1010.1 1636.6,1091.1 1636.8,1041.2 1637.1,1053.7 1637.3,1035 1637.6,991.4 1637.8,1072.4 1638,1078.6 1638.3,1041.2 1638.5,1066.2 1638.8,1072.4 1639,1078.6 1639.3,1091.1 1639.5,1078.6 1639.7,1072.4 1640,1066.2 1640.2,1066.2 1640.5,1035 1640.7,1066.2 1640.9,1078.6 1641.2,1078.6 1641.4,1072.4 1641.7,1091.1 1641.9,1103.6 1642.1,1053.7 1642.4,1047.5 1642.6,1084.9 1642.9,1097.3 1643.1,1066.2 1643.4,1053.7 1643.6,1091.1 1643.8,1059.9 1644.1,1091.1 1644.3,1078.6 1644.6,1066.2 1644.8,1091.1 1645,1041.2 1645.3,1091.1 1645.5,1066.2 1645.8,1084.9 1646,1103.6 1646.3,1091.1 1646.5,1091.1 1646.7,1103.6 1647,1072.4 1647.2,1097.3 1647.5,1059.9 1647.7,1103.6 1647.9,1097.3 1648.2,1097.3 1648.4,1084.9 1648.7,1097.3 1648.9,1084.9 1649.1,1091.1 1649.4,1091.1 1649.6,1091.1 1649.9,1091.1 1650.1,1097.3 1650.4,1072.4 1650.6,1091.1 1650.8,1091.1 1651.1,1059.9 1651.3,1066.2 1651.6,1097.3 1651.8,1097.3 1652,1084.9 1652.3,1072.4 1652.5,1078.6 1652.8,1097.3 1653,1084.9 1653.3,1097.3 1653.5,1116 1653.7,1097.3 1654,1097.3 1654.2,1078.6 1654.5,1091.1 1654.7,1091.1 1654.9,1097.3 1655.2,1097.3 1655.4,1097.3 1655.7,1097.3 1655.9,1097.3 1656.1,1116 1656.4,1084.9 1656.6,1103.6 1656.9,1109.8 1657.1,1072.4 1657.4,1109.8 1657.6,1091.1 1657.8,1097.3 1658.1,1091.1 1658.3,1097.3 1658.6,1103.6 1658.8,1103.6 1659,1103.6 1659.3,1084.9 1659.5,1109.8 1659.8,1116 1660,1103.6 1660.3,1097.3 1660.5,1091.1 1660.7,1078.6 1661,1103.6 1661.2,1103.6 1661.5,1097.3 1661.7,1103.6 1661.9,1097.3 1662.2,1109.8 1662.4,1097.3 1662.7,1103.6 1662.9,1072.4 1663.1,1097.3 1663.4,1091.1 1663.6,1097.3 1663.9,1103.6 1664.1,1091.1 1664.4,1097.3 1664.6,1109.8 1664.8,1072.4 1665.1,1103.6 1665.3,1097.3 1665.6,1116 1665.8,1091.1 1666,1109.8 1666.3,1116 1666.5,1091.1 1666.8,1109.8 1667,1116 1667.3,1103.6 1667.5,1122.2 1667.7,1097.3 1668,1097.3 1668.2,1091.1 1668.5,1103.6 1668.7,1116 1668.9,1097.3 1669.2,1109.8 1669.4,1097.3 1669.7,1109.8 1669.9,1109.8 1670.1,1103.6 1670.4,1091.1 1670.6,1103.6 1670.9,1103.6 1671.1,1116 1671.4,1103.6 1671.6,1109.8 1671.8,1116 1672.1,1097.3 1672.3,1103.6 1672.6,1097.3 1672.8,1103.6 1673,1109.8 1673.3,1091.1 1673.5,1091.1 1673.8,1097.3 1674,1097.3 1674.3,1091.1 1674.5,1103.6 1674.7,1109.8 1675,1084.9 1675.2,1103.6 1675.5,1116 1675.7,1116 1675.9,1109.8 1676.2,1103.6 1676.4,1103.6 1676.7,1097.3 1676.9,1103.6 1677.1,1109.8 1677.4,1109.8 1677.6,1109.8 1677.9,1091.1 1678.1,1097.3 1678.4,1097.3 1678.6,1116 1678.8,1103.6 1679.1,1116 1679.3,1097.3 1679.6,1091.1 1679.8,1109.8 1680,1091.1 1680.3,1116 1680.5,1097.3 1680.8,1109.8 1681,1116 1681.3,1116 1681.5,1109.8 1681.7,1091.1 1682,1103.6 1682.2,1116 1682.5,1097.3 1682.7,1097.3 1682.9,1116 1683.2,1084.9 1683.4,1091.1 1683.7,1122.2 1683.9,1103.6 1684.1,1116 1684.4,1103.6 1684.6,1103.6 1684.9,1097.3 1685.1,1097.3 1685.4,1097.3 1685.6,1109.8 1685.8,1097.3 1686.1,1116 1686.3,1109.8 1686.6,1103.6 1686.8,1097.3 1687,1103.6 1687.3,1097.3 1687.5,1109.8 1687.8,1078.6 1688,1116 1688.3,1084.9 1688.5,1116 1688.7,1097.3 1689,1103.6 1689.2,1109.8 1689.5,1103.6 1689.7,1109.8 1689.9,1103.6 1690.2,1116 1690.4,1116 1690.7,1084.9 1690.9,1097.3 1691.1,1116 1691.4,1116 1691.6,1103.6 1691.9,1109.8 1692.1,1097.3 1692.4,1116 1692.6,1097.3 1692.8,1091.1 1693.1,1109.8 1693.3,1091.1 1693.6,1078.6 1693.8,1078.6 1694,1116 1694.3,1091.1 1694.5,1091.1 1694.8,1109.8 1695,1116 1695.3,1116 1695.5,1097.3 1695.7,1097.3 1696,1116 1696.2,1097.3 1696.5,1097.3 1696.7,1116 1696.9,1103.6 1697.2,1109.8 1697.4,1122.2 1697.7,1109.8 1697.9,1109.8 1698.1,1103.6 1698.4,1122.2 1698.6,1109.8 1698.9,1097.3 1699.1,1122.2 1699.4,1109.8 1699.6,1103.6 1699.8,1109.8 1700.1,1097.3 1700.3,1091.1 1700.6,1103.6 1700.8,1109.8 1701,1097.3 1701.3,1122.2 1701.5,1103.6 1701.8,1116 1702,1103.6 1702.3,1097.3 1702.5,1103.6 1702.7,1091.1 1703,1109.8 1703.2,1116 1703.5,1091.1 1703.7,1103.6 1703.9,1116 1704.2,1091.1 1704.4,1116 1704.7,1122.2 1704.9,1091.1 1705.1,1097.3 1705.4,1116 1705.6,1116 1705.9,1084.9 1706.1,1116 1706.4,1116 1706.6,1103.6 1706.8,1103.6 1707.1,1097.3 1707.3,1103.6 1707.6,1122.2 1707.8,1116 1708,1091.1 1708.3,1109.8 1708.5,1109.8 1708.8,1097.3 1709,1103.6 1709.2,1084.9 1709.5,1116 1709.7,1097.3 1710,1116 1710.2,1109.8 1710.5,1109.8 1710.7,1116 1710.9,1091.1 1711.2,1116 1711.4,1103.6 1711.7,1103.6 1711.9,1122.2 1712.1,1103.6 1712.4,1109.8 1712.6,1103.6 1712.9,1091.1 1713.1,1103.6 1713.4,1109.8 1713.6,1103.6 1713.8,1097.3 1714.1,1084.9 1714.3,1103.6 1714.6,1116 1714.8,1097.3 1715,1097.3 1715.3,1103.6 1715.5,1097.3 1715.8,1097.3 1716,1078.6 1716.2,1103.6 1716.5,1103.6 1716.7,1109.8 1717,1116 1717.2,1072.4 1717.5,1116 1717.7,1116 1717.9,1109.8 1718.2,1103.6 1718.4,1091.1 1718.7,1109.8 1718.9,1122.2 1719.1,1109.8 1719.4,1103.6 1719.6,1109.8 1719.9,1097.3 1720.1,1116 1720.4,1109.8 1720.6,1109.8 1720.8,1103.6 1721.1,1109.8 1721.3,1097.3 1721.6,1116 1721.8,1097.3 1722,1116 1722.3,1116 1722.5,1103.6 1722.8,1109.8 1723,1103.6 1723.2,1097.3 1723.5,1116 1723.7,1103.6 1724,1109.8 1724.2,1109.8 1724.5,1091.1 1724.7,1116 1724.9,1097.3 1725.2,1109.8 1725.4,1116 1725.7,1103.6 1725.9,1091.1 1726.1,1091.1 1726.4,1116 1726.6,1116 1726.9,1103.6 1727.1,1109.8 1727.4,1097.3 1727.6,1072.4 1727.8,1091.1 1728.1,1109.8 1728.3,1084.9 1728.6,1109.8 1728.8,1084.9 1729,1103.6 1729.3,1109.8 1729.5,1084.9 1729.8,1116 1730,1091.1 1730.2,1116 1730.5,1097.3 1730.7,1109.8 1731,1103.6 1731.2,1103.6 1731.5,1109.8 1731.7,1103.6 1731.9,1091.1 1732.2,1109.8 1732.4,1084.9 1732.7,1109.8 1732.9,1084.9 1733.1,1103.6 1733.4,1109.8 1733.6,1091.1 1733.9,1103.6 1734.1,1103.6 1734.4,1116 1734.6,1103.6 1734.8,1103.6 1735.1,1116 1735.3,1103.6 1735.6,1109.8 1735.8,1103.6 1736,1097.3 1736.3,1103.6 1736.5,1116 1736.8,1097.3 1737,1103.6 1737.2,1116 1737.5,1109.8 1737.7,1109.8 1738,1109.8 1738.2,1103.6 1738.5,1116 1738.7,1097.3 1738.9,1109.8 1739.2,1122.2 1739.4,1116 1739.7,1116 1739.9,1109.8 1740.1,1103.6 1740.4,1109.8 1740.6,1116 1740.9,1103.6 1741.1,1091.1 1741.4,1097.3 1741.6,1109.8 1741.8,1109.8 1742.1,1103.6 1742.3,1116 1742.6,1084.9 1742.8,1097.3 1743,1109.8 1743.3,1091.1 1743.5,1084.9 1743.8,1103.6 1744,1103.6 1744.2,1091.1 1744.5,1116 1744.7,1109.8 1745,1103.6 1745.2,1091.1 1745.5,1109.8 1745.7,1097.3 1745.9,1084.9 1746.2,1103.6 1746.4,1103.6 1746.7,1116 1746.9,1103.6 1747.1,1116 1747.4,1116 1747.6,1109.8 1747.9,1097.3 1748.1,1103.6 1748.4,1103.6 1748.6,1103.6 1748.8,1122.2 1749.1,1116 1749.3,1078.6 1749.6,1097.3 1749.8,1109.8 1750,1109.8 1750.3,1109.8 1750.5,1109.8 1750.8,1116 1751,1122.2 1751.2,1109.8 1751.5,1109.8 1751.7,1103.6 1752,1109.8 1752.2,1116 1752.5,1116 1752.7,1103.6 1752.9,1103.6 1753.2,1116 1753.4,1097.3 1753.7,1116 1753.9,1109.8 1754.1,1116 1754.4,1103.6 1754.6,1097.3 1754.9,1091.1 1755.1,1116 1755.4,1109.8 1755.6,1097.3 1755.8,1122.2 1756.1,1122.2 1756.3,1091.1 1756.6,1097.3 1756.8,1103.6 1757,1091.1 1757.3,1109.8 1757.5,1097.3 1757.8,1103.6 1758,1116 1758.2,1103.6 1758.5,1097.3 1758.7,1109.8 1759,1103.6 1759.2,1116 1759.5,1109.8 1759.7,1091.1 1759.9,1109.8 1760.2,1103.6 1760.4,1116 1760.7,1103.6 1760.9,1109.8 1761.1,1109.8 1761.4,1097.3 1761.6,1116 1761.9,1097.3 1762.1,1109.8 1762.4,1091.1 1762.6,1078.6 1762.8,1109.8 1763.1,1078.6 1763.3,1109.8 1763.6,1109.8 1763.8,1097.3 1764,1103.6 1764.3,1097.3 1764.5,1084.9 1764.8,1109.8 1765,1116 1765.2,1109.8 1765.5,1103.6 1765.7,1109.8 1766,1084.9 1766.2,1091.1 1766.5,1091.1 1766.7,1109.8 1766.9,1097.3 1767.2,1116 1767.4,1097.3 1767.7,1103.6 1767.9,1103.6 1768.1,1091.1 1768.4,1109.8 1768.6,1109.8 1768.9,1116 1769.1,1091.1 1769.4,1084.9 1769.6,1116 1769.8,1091.1 1770.1,1109.8 1770.3,1109.8 1770.6,1122.2 1770.8,1103.6 1771,1122.2 1771.3,1097.3 1771.5,1103.6 1771.8,1109.8 1772,1103.6 1772.2,1072.4 1772.5,1116 1772.7,1097.3 1773,1103.6 1773.2,1103.6 1773.5,1097.3 1773.7,1091.1 1773.9,1097.3 1774.2,1116 1774.4,1109.8 1774.7,1116 1774.9,1091.1 1775.1,1116 1775.4,1103.6 1775.6,1116 1775.9,1116 1776.1,1097.3 1776.4,1109.8 1776.6,1122.2 1776.8,1103.6 1777.1,1097.3 1777.3,1109.8 1777.6,1109.8 1777.8,1103.6 1778,1091.1 1778.3,1097.3 1778.5,1097.3 1778.8,1084.9 1779,1103.6 1779.2,1091.1 1779.5,1097.3 1779.7,1109.8 1780,1116 1780.2,1109.8 1780.5,1091.1 1780.7,1078.6 1780.9,1097.3 1781.2,1116 1781.4,1109.8 1781.7,1097.3 1781.9,1103.6 1782.1,1116 1782.4,1116 1782.6,1091.1 1782.9,1103.6 1783.1,1116 1783.4,1116 1783.6,1122.2 1783.8,1116 1784.1,1084.9 1784.3,1109.8 1784.6,1097.3 1784.8,1084.9 1785,1091.1 1785.3,1103.6 1785.5,1097.3 1785.8,1097.3 1786,1116 1786.2,1103.6 1786.5,1109.8 1786.7,1103.6 1787,1084.9 1787.2,1091.1 1787.5,1097.3 1787.7,1109.8 1787.9,1109.8 1788.2,1078.6 1788.4,1078.6 1788.7,1109.8 1788.9,1109.8 1789.1,1091.1 1789.4,1109.8 1789.6,1066.2 1789.9,1097.3 1790.1,1122.2 1790.4,1122.2 1790.6,1103.6 1790.8,1109.8 1791.1,1097.3 1791.3,1116 1791.6,1091.1 1791.8,1097.3 1792,1097.3 1792.3,1091.1 1792.5,1084.9 1792.8,1109.8 1793,1091.1 1793.2,1072.4 1793.5,1116 1793.7,1084.9 1794,1097.3 1794.2,1103.6 1794.5,1059.9 1794.7,1084.9 1794.9,1078.6 1795.2,1097.3 1795.4,1109.8 1795.7,1103.6 1795.9,1103.6 1796.1,1091.1 1796.4,1084.9 1796.6,1103.6 1796.9,1097.3 1797.1,1103.6 1797.4,1084.9 1797.6,1084.9 1797.8,1066.2 1798.1,1091.1 1798.3,1116 1798.6,1078.6 1798.8,1109.8 1799,1103.6 1799.3,1097.3 1799.5,1072.4 1799.8,1097.3 1800,1091.1 1800.2,1103.6 1800.5,1116 1800.7,1103.6 1801,1103.6 1801.2,1078.6 1801.5,1122.2 1801.7,1103.6 1801.9,1066.2 1802.2,1084.9 1802.4,1072.4 1802.7,1084.9 1802.9,1097.3 1803.1,1097.3 1803.4,1091.1 1803.6,1109.8 1803.9,1103.6 1804.1,1078.6 1804.4,1078.6 1804.6,1103.6 1804.8,1091.1 1805.1,1084.9 1805.3,1078.6 1805.6,1084.9 1805.8,1059.9 1806,1091.1 1806.3,1097.3 1806.5,1109.8 1806.8,1091.1 1807,1097.3 1807.2,1097.3 1807.5,1097.3 1807.7,1072.4 1808,1072.4 1808.2,1066.2 1808.5,1078.6 1808.7,1097.3 1808.9,1084.9 1809.2,1072.4 1809.4,1059.9 1809.7,1097.3 1809.9,1072.4 1810.1,1097.3 1810.4,1091.1 1810.6,1097.3 1810.9,1091.1 1811.1,1103.6 1811.4,1084.9 1811.6,1072.4 1811.8,1091.1 1812.1,1097.3 1812.3,1097.3 1812.6,1091.1 1812.8,1059.9 1813,1109.8 1813.3,1084.9 1813.5,1078.6 1813.8,1091.1 1814,1078.6 1814.2,1078.6 1814.5,1097.3 1814.7,1066.2 1815,1097.3 1815.2,1078.6 1815.5,1084.9 1815.7,1084.9 1815.9,1084.9 1816.2,1084.9 1816.4,1091.1 1816.7,1059.9 1816.9,1103.6 1817.1,1103.6 1817.4,1116 1817.6,1109.8 1817.9,1097.3 1818.1,1091.1 1818.4,1091.1 1818.6,1091.1 1818.8,1078.6 1819.1,1097.3 1819.3,1109.8 1819.6,1103.6 1819.8,1091.1 1820,1084.9 1820.3,1091.1 1820.5,1097.3 1820.8,1084.9 1821,1109.8 1821.2,1078.6 1821.5,1078.6 1821.7,1103.6 1822,1097.3 1822.2,1097.3 1822.5,1091.1 1822.7,1084.9 1822.9,1097.3 1823.2,1072.4 1823.4,1109.8 1823.7,1103.6 1823.9,1116 1824.1,1097.3 1824.4,1097.3 1824.6,1097.3 1824.9,1091.1 1825.1,1103.6 1825.4,1097.3 1825.6,1091.1 1825.8,1097.3 1826.1,1091.1 1826.3,1091.1 1826.6,1103.6 1826.8,1116 1827,1109.8 1827.3,1066.2 1827.5,1109.8 1827.8,1091.1 1828,1078.6 1828.2,1109.8 1828.5,1109.8 1828.7,1097.3 1829,1109.8 1829.2,1103.6 1829.5,1097.3 1829.7,1103.6 1829.9,1097.3 1830.2,1078.6 1830.4,1084.9 1830.7,1097.3 1830.9,1091.1 1831.1,1109.8 1831.4,1103.6 1831.6,1116 1831.9,1091.1 1832.1,1097.3 1832.4,1097.3 1832.6,1097.3 1832.8,1109.8 1833.1,1091.1 1833.3,1122.2 1833.6,1116 1833.8,1116 1834,1103.6 1834.3,1091.1 1834.5,1066.2 1834.8,1097.3 1835,1103.6 1835.2,1103.6 1835.5,1097.3 1835.7,1116 1836,1103.6 1836.2,1116 1836.5,1109.8 1836.7,1109.8 1836.9,1109.8 1837.2,1116 1837.4,1097.3 1837.7,1103.6 1837.9,1103.6 1838.1,1103.6 1838.4,1091.1 1838.6,1097.3 1838.9,1084.9 1839.1,1116 1839.4,1091.1 1839.6,1103.6 1839.8,1091.1 1840.1,1109.8 1840.3,1103.6 1840.6,1103.6 1840.8,1078.6 1841,1109.8 1841.3,1097.3 1841.5,1103.6 1841.8,1097.3 1842,1103.6 1842.2,1103.6 1842.5,1109.8 1842.7,1078.6 1843,1084.9 1843.2,1084.9 1843.5,1109.8 1843.7,1103.6 1843.9,1103.6 1844.2,1097.3 1844.4,1078.6 1844.7,1109.8 1844.9,1091.1 1845.1,1097.3 1845.4,1109.8 1845.6,1109.8 1845.9,1103.6 1846.1,1091.1 1846.4,1103.6 1846.6,1122.2 1846.8,1109.8 1847.1,1097.3 1847.3,1097.3 1847.6,1103.6 1847.8,1109.8 1848,1091.1 1848.3,1103.6 1848.5,1109.8 1848.8,1109.8 1849,1103.6 1849.2,1122.2 1849.5,1097.3 1849.7,1109.8 1850,1103.6 1850.2,1109.8 1850.5,1109.8 1850.7,1116 1850.9,1097.3 1851.2,1109.8 1851.4,1084.9 1851.7,1109.8 1851.9,1097.3 1852.1,1122.2 1852.4,1109.8 1852.6,1122.2 1852.9,1091.1 1853.1,1084.9 1853.4,1116 1853.6,1109.8 1853.8,1084.9 1854.1,1109.8 1854.3,1103.6 1854.6,1103.6 1854.8,1116 1855,1078.6 1855.3,1084.9 1855.5,1097.3 1855.8,1109.8 1856,1103.6 1856.2,1097.3 1856.5,1103.6 1856.7,1084.9 1857,1109.8 1857.2,1097.3 1857.5,1097.3 1857.7,1097.3 1857.9,1091.1 1858.2,1109.8 1858.4,1097.3 1858.7,1103.6 1858.9,1103.6 1859.1,1091.1 1859.4,1084.9 1859.6,1109.8 1859.9,1097.3 1860.1,1084.9 1860.4,1097.3 1860.6,1109.8 1860.8,1097.3 1861.1,1109.8 1861.3,1103.6 1861.6,1103.6 1861.8,1109.8 1862,1103.6 1862.3,1109.8 1862.5,1103.6 1862.8,1116 1863,1097.3 1863.2,1116 1863.5,1109.8 1863.7,1103.6 1864,1109.8 1864.2,1103.6 1864.5,1122.2 1864.7,1109.8 1864.9,1116 1865.2,1109.8 1865.4,1116 1865.7,1109.8 1865.9,1103.6 1866.1,1097.3 1866.4,1109.8 1866.6,1091.1 1866.9,1103.6 1867.1,1084.9 1867.4,1109.8 1867.6,1103.6 1867.8,1103.6 1868.1,1109.8 1868.3,1109.8 1868.6,1091.1 1868.8,1116 1869,1091.1 1869.3,1072.4 1869.5,1116 1869.8,1122.2 1870,1109.8 1870.2,1103.6 1870.5,1103.6 1870.7,1103.6 1871,1097.3 1871.2,1109.8 1871.5,1091.1 1871.7,1109.8 1871.9,1091.1 1872.2,1103.6 1872.4,1097.3 1872.7,1103.6 1872.9,1097.3 1873.1,1091.1 1873.4,1097.3 1873.6,1109.8 1873.9,1103.6 1874.1,1116 1874.4,1097.3 1874.6,1103.6 1874.8,1109.8 1875.1,1116 1875.3,1084.9 1875.6,1103.6 1875.8,1097.3 1876,1109.8 1876.3,1109.8 1876.5,1091.1 1876.8,1097.3 1877,1109.8 1877.2,1116 1877.5,1109.8 1877.7,1122.2 1878,1084.9 1878.2,1103.6 1878.5,1103.6 1878.7,1109.8 1878.9,1103.6 1879.2,1116 1879.4,1103.6 1879.7,1109.8 1879.9,1091.1 1880.1,1103.6 1880.4,1109.8 1880.6,1109.8 1880.9,1109.8 1881.1,1116 1881.4,1097.3 1881.6,1091.1 1881.8,1103.6 1882.1,1116 1882.3,1103.6 1882.6,1103.6 1882.8,1103.6 1883,1091.1 1883.3,1109.8 1883.5,1084.9 1883.8,1097.3 1884,1109.8 1884.2,1116 1884.5,1091.1 1884.7,1103.6 1885,1097.3 1885.2,1097.3 1885.5,1097.3 1885.7,1091.1 1885.9,1109.8 1886.2,1103.6 1886.4,1084.9 1886.7,1122.2 1886.9,1103.6 1887.1,1116 1887.4,1103.6 1887.6,1116 1887.9,1097.3 1888.1,1109.8 1888.4,1097.3 1888.6,1122.2 1888.8,1116 1889.1,1103.6 1889.3,1103.6 1889.6,1116 1889.8,1116 1890,1103.6 1890.3,1109.8 1890.5,1116 1890.8,1116 1891,1097.3 1891.2,1116 1891.5,1097.3 1891.7,1116 1892,1109.8 1892.2,1109.8 1892.5,1109.8 1892.7,1109.8 1892.9,1109.8 1893.2,1109.8 1893.4,1116 1893.7,1103.6 1893.9,1103.6 1894.1,1116 1894.4,1103.6 1894.6,1084.9 1894.9,1109.8 1895.1,1109.8 1895.4,1109.8 1895.6,1109.8 1895.8,1122.2 1896.1,1103.6 1896.3,1109.8 1896.6,1122.2 1896.8,1097.3 1897,1116 1897.3,1116 1897.5,1091.1 1897.8,1122.2 1898,1091.1 1898.2,1122.2 1898.5,1097.3 1898.7,1084.9 1899,1109.8 1899.2,1103.6 1899.5,1109.8 1899.7,1103.6 1899.9,1116 1900.2,1103.6 1900.4,1116 1900.7,1103.6 1900.9,1097.3 1901.1,1122.2 1901.4,1091.1 1901.6,1109.8 1901.9,1116 1902.1,1091.1 1902.3,1091.1 1902.6,1103.6 1902.8,1116 1903.1,1103.6 1903.3,1103.6 1903.6,1084.9 1903.8,1097.3 1904,1116 1904.3,1116 1904.5,1084.9 1904.8,1116 1905,1109.8 1905.2,1091.1 1905.5,1109.8 1905.7,1109.8 1906,1116 1906.2,1103.6 1906.5,1097.3 1906.7,1091.1 1906.9,1097.3 1907.2,1097.3 1907.4,1116 1907.7,1116 1907.9,1097.3 1908.1,1116 1908.4,1091.1 1908.6,1091.1 1908.9,1091.1 1909.1,1109.8 1909.3,1103.6 1909.6,1109.8 1909.8,1103.6 1910.1,1103.6 1910.3,1091.1 1910.6,1097.3 1910.8,1109.8 1911,1097.3 1911.3,1103.6 1911.5,1116 1911.8,1109.8 1912,1109.8 1912.2,1078.6 1912.5,1116 1912.7,1109.8 1913,1116 1913.2,1097.3 1913.5,1116 1913.7,1084.9 1913.9,1122.2 1914.2,1109.8 1914.4,1097.3 1914.7,1103.6 1914.9,1097.3 1915.1,1078.6 1915.4,1109.8 1915.6,1103.6 1915.9,1109.8 1916.1,1109.8 1916.3,1109.8 1916.6,1103.6 1916.8,1109.8 1917.1,1091.1 1917.3,1116 1917.6,1109.8 1917.8,1109.8 1918,1109.8 1918.3,1097.3 1918.5,1103.6 1918.8,1122.2 1919,1109.8 1919.2,1103.6 1919.5,1097.3 1919.7,1103.6 1920,1084.9 1920.2,1097.3 1920.5,1116 1920.7,1103.6 1920.9,1116 1921.2,1109.8 1921.4,1097.3 1921.7,1103.6 1921.9,1103.6 1922.1,1109.8 1922.4,1103.6 1922.6,1109.8 1922.9,1109.8 1923.1,1091.1 1923.3,1109.8 1923.6,1109.8 1923.8,1109.8 1924.1,1097.3 1924.3,1103.6 1924.6,1091.1 1924.8,1116 1925,1091.1 1925.3,1084.9 1925.5,1091.1 1925.8,1091.1 1926,1103.6 1926.2,1103.6 1926.5,1084.9 1926.7,1109.8 1927,1109.8 1927.2,1109.8 1927.5,1097.3 1927.7,1091.1 1927.9,1122.2 1928.2,1116 1928.4,1116 1928.7,1091.1 1928.9,1109.8 1929.1,1091.1 1929.4,1116 1929.6,1109.8 1929.9,1084.9 1930.1,1122.2 1930.3,1103.6 1930.6,1122.2 1930.8,1084.9 1931.1,1097.3 1931.3,1103.6 1931.6,1103.6 1931.8,1103.6 1932,1103.6 1932.3,1103.6 1932.5,1116 1932.8,1109.8 1933,1109.8 1933.2,1097.3 1933.5,1103.6 1933.7,1103.6 1934,1103.6 1934.2,1103.6 1934.5,1122.2 1934.7,1103.6 1934.9,1109.8 1935.2,1103.6 1935.4,1103.6 1935.7,1084.9 1935.9,1116 1936.1,1091.1 1936.4,1091.1 1936.6,1097.3 1936.9,1097.3 1937.1,1103.6 1937.3,1103.6 1937.6,1091.1 1937.8,1103.6 1938.1,1116 1938.3,1116 1938.6,1097.3 1938.8,1103.6 1939,1116 1939.3,1097.3 1939.5,1116 1939.8,1103.6 1940,1078.6 1940.2,1097.3 1940.5,1091.1 1940.7,1097.3 1941,1097.3 1941.2,1103.6 1941.5,1097.3 1941.7,1109.8 1941.9,1097.3 1942.2,1109.8 1942.4,1109.8 1942.7,1109.8 1942.9,1097.3 1943.1,1103.6 1943.4,1097.3 1943.6,1091.1 1943.9,1097.3 1944.1,1097.3 1944.3,1116 1944.6,1091.1 1944.8,1072.4 1945.1,1091.1 1945.3,1103.6 1945.6,1078.6 1945.8,1109.8 1946,1097.3 1946.3,1072.4 1946.5,1066.2 1946.8,1109.8 1947,1084.9 1947.2,1103.6 1947.5,1109.8 1947.7,1097.3 1948,1122.2 1948.2,1084.9 1948.5,1122.2 1948.7,1091.1 1948.9,1097.3 1949.2,1097.3 1949.4,1109.8 1949.7,1097.3 1949.9,1072.4 1950.1,1103.6 1950.4,1109.8 1950.6,1116 1950.9,1091.1 1951.1,1109.8 1951.3,1109.8 1951.6,1072.4 1951.8,1091.1 1952.1,1078.6 1952.3,1091.1 1952.6,1066.2 1952.8,1078.6 1953,1091.1 1953.3,1116 1953.5,1103.6 1953.8,1097.3 1954,1109.8 1954.2,1091.1 1954.5,1103.6 1954.7,1097.3 1955,1084.9 1955.2,1078.6 1955.5,1084.9 1955.7,1066.2 1955.9,1097.3 1956.2,1097.3 1956.4,1103.6 1956.7,1097.3 1956.9,1097.3 1957.1,1078.6 1957.4,1097.3 1957.6,1103.6 1957.9,1084.9 1958.1,1091.1 1958.3,1097.3 1958.6,1103.6 1958.8,1097.3 1959.1,1084.9 1959.3,1097.3 1959.6,1109.8 1959.8,1103.6 1960,1097.3 1960.3,1097.3 1960.5,1103.6 1960.8,1091.1 1961,1091.1 1961.2,1066.2 1961.5,1091.1 1961.7,1097.3 1962,1084.9 1962.2,1097.3 1962.5,1059.9 1962.7,1066.2 1962.9,1109.8 1963.2,1097.3 1963.4,1109.8 1963.7,1078.6 1963.9,1097.3 1964.1,1103.6 1964.4,1109.8 1964.6,1072.4 1964.9,1078.6 1965.1,1072.4 1965.3,1053.7 1965.6,1078.6 1965.8,1091.1 1966.1,1116 1966.3,1041.2 1966.6,1072.4 1966.8,1066.2 1967,1078.6 1967.3,1059.9 1967.5,1084.9 1967.8,1078.6 1968,1091.1 1968.2,1103.6 1968.5,1084.9 1968.7,1072.4 1969,1097.3 1969.2,1072.4 1969.5,1084.9 1969.7,1059.9 1969.9,1053.7 1970.2,1078.6 1970.4,1097.3 1970.7,1084.9 1970.9,1047.5 1971.1,1028.8 1971.4,1084.9 1971.6,1053.7 1971.9,1072.4 1972.1,1103.6 1972.3,1066.2 1972.6,1053.7 1972.8,1047.5 1973.1,1066.2 1973.3,1084.9 1973.6,1059.9 1973.8,1053.7 1974,1041.2 1974.3,1059.9 1974.5,1066.2 1974.8,1059.9 1975,1041.2 1975.2,1016.3 1975.5,1072.4 1975.7,1078.6 1976,1053.7 1976.2,1035 1976.5,1078.6 1976.7,1078.6 1976.9,1028.8 1977.2,1028.8 1977.4,1041.2 1977.7,1091.1 1977.9,1041.2 1978.1,1053.7 1978.4,1041.2 1978.6,1066.2 1978.9,1041.2 1979.1,1059.9 1979.3,1022.6 1979.6,1022.6 1979.8,1003.9 1980.1,1010.1 1980.3,1053.7 1980.6,991.4 1980.8,1035 1981,1047.5 1981.3,1035 1981.5,1035 1981.8,985.2 1982,1072.4 1982.2,1016.3 1982.5,1022.6 1982.7,1016.3 1983,985.2 1983.2,966.5 1983.5,1010.1 1983.7,1016.3 1983.9,966.5 1984.2,1016.3 1984.4,1016.3 1984.7,991.4 1984.9,1028.8 1985.1,991.4 1985.4,997.6 1985.6,997.6 1985.9,966.5 1986.1,1041.2 1986.3,1010.1 1986.6,960.2 1986.8,991.4 1987.1,972.7 1987.3,985.2 1987.6,1028.8 1987.8,978.9 1988,978.9 1988.3,947.8 1988.5,1003.9 1988.8,1028.8 1989,935.3 1989.2,978.9 1989.5,922.9 1989.7,960.2 1990,991.4 1990.2,978.9 1990.5,978.9 1990.7,1016.3 1990.9,904.2 1991.2,929.1 1991.4,1016.3 1991.7,935.3 1991.9,985.2 1992.1,910.4 1992.4,935.3 1992.6,978.9 1992.9,978.9 1993.1,941.6 1993.3,873 1993.6,985.2 1993.8,935.3 1994.1,966.5 1994.3,929.1 1994.6,929.1 1994.8,966.5 1995,991.4 1995.3,985.2 1995.5,966.5 1995.8,947.8 1996,954 1996.2,966.5 1996.5,941.6 1996.7,966.5 1997,997.6 1997.2,960.2 1997.5,1010.1 1997.7,997.6 1997.9,966.5 1998.2,1003.9 1998.4,941.6 1998.7,960.2 1998.9,1003.9 1999.1,991.4 1999.4,1003.9 1999.6,978.9 1999.9,1016.3 2000.1,991.4 2000.3,1010.1 2000.6,1035 2000.8,1010.1 2001.1,1016.3 2001.3,929.1 2001.6,997.6 2001.8,960.2 2002,985.2 2002.3,960.2 2002.5,1003.9 2002.8,1010.1 2003,985.2 2003.2,960.2 2003.5,1010.1 2003.7,1047.5 2004,1041.2 2004.2,1022.6 2004.5,1035 2004.7,1003.9 2004.9,1016.3 2005.2,1066.2 2005.4,1066.2 2005.7,1028.8 2005.9,1053.7 2006.1,1028.8 2006.4,1028.8 2006.6,1035 2006.9,1035 2007.1,1053.7 2007.3,997.6 2007.6,1035 2007.8,1016.3 2008.1,1035 2008.3,1035 2008.6,1041.2 2008.8,1059.9 2009,1035 2009.3,1078.6 2009.5,1053.7 2009.8,1059.9 2010,1003.9 2010.2,1066.2 2010.5,1072.4 2010.7,1078.6 2011,1035 2011.2,1072.4 2011.5,1059.9 2011.7,1035 2011.9,1053.7 2012.2,1035 2012.4,1078.6 2012.7,1066.2 2012.9,1078.6 2013.1,1078.6 2013.4,1091.1 2013.6,1028.8 2013.9,1059.9 2014.1,1078.6 2014.3,1066.2 2014.6,1059.9 2014.8,1047.5 2015.1,1084.9 2015.3,1066.2 2015.6,1022.6 2015.8,1053.7 2016,1059.9 2016.3,1078.6 2016.5,1091.1 2016.8,1066.2 2017,1078.6 2017.2,1072.4 2017.5,1091.1 2017.7,1091.1 2018,1078.6 2018.2,1041.2 2018.5,1078.6 2018.7,1097.3 2018.9,1078.6 2019.2,1103.6 2019.4,1053.7 2019.7,1084.9 2019.9,1072.4 2020.1,1084.9 2020.4,1097.3 2020.6,1097.3 2020.9,1097.3 2021.1,1091.1 2021.3,1053.7 2021.6,1091.1 2021.8,1084.9 2022.1,1047.5 2022.3,1109.8 2022.6,1072.4 2022.8,1097.3 2023,1066.2 2023.3,1091.1 2023.5,1078.6 2023.8,1103.6 2024,1053.7 2024.2,1066.2 2024.5,1078.6 2024.7,1084.9 2025,1078.6 2025.2,1103.6 2025.5,1103.6 2025.7,1091.1 2025.9,1066.2 2026.2,1097.3 2026.4,1097.3 2026.7,1091.1 2026.9,1078.6 2027.1,1084.9 2027.4,1091.1 2027.6,1103.6 2027.9,1072.4 2028.1,1059.9 2028.3,1084.9 2028.6,1084.9 2028.8,1097.3 2029.1,1084.9 2029.3,1116 2029.6,1078.6 2029.8,1097.3 2030,1084.9 2030.3,1053.7 2030.5,1066.2 2030.8,1091.1 2031,1091.1 2031.2,1091.1 2031.5,1103.6 2031.7,1091.1 2032,1091.1 2032.2,1059.9 2032.5,1091.1 2032.7,1078.6 2032.9,1066.2 2033.2,1097.3 2033.4,1103.6 2033.7,1084.9 2033.9,1103.6 2034.1,1109.8 2034.4,1091.1 2034.6,1103.6 2034.9,1091.1 2035.1,1103.6 2035.3,1084.9 2035.6,1084.9 2035.8,1091.1 2036.1,1084.9 2036.3,1066.2 2036.6,1078.6 2036.8,1091.1 2037,1109.8 2037.3,1091.1 2037.5,1078.6 2037.8,1084.9 2038,1097.3 2038.2,1097.3 2038.5,1097.3 2038.7,1084.9 2039,1097.3 2039.2,1116 2039.5,1109.8 2039.7,1084.9 2039.9,1097.3 2040.2,1091.1 2040.4,1103.6 2040.7,1084.9 2040.9,1084.9 2041.1,1109.8 2041.4,1097.3 2041.6,1109.8 2041.9,1103.6 2042.1,1116 2042.3,1116 2042.6,1103.6 2042.8,1091.1 2043.1,1103.6 2043.3,1103.6 2043.6,1097.3 2043.8,1103.6 2044,1103.6 2044.3,1084.9 2044.5,1122.2 2044.8,1103.6 2045,1103.6 2045.2,1097.3 2045.5,1097.3 2045.7,1097.3 2046,1122.2 2046.2,1103.6 2046.5,1103.6 2046.7,1109.8 2046.9,1097.3 2047.2,1072.4 2047.4,1116 2047.7,1103.6 2047.9,1116 2048.1,1103.6 2048.4,1103.6 2048.6,1109.8 2048.9,1109.8 2049.1,1097.3 2049.3,1072.4 2049.6,1116 2049.8,1091.1 2050.1,1109.8 2050.3,1078.6 2050.6,1078.6 2050.8,1091.1 2051,1091.1 2051.3,1084.9 2051.5,1091.1 2051.8,1109.8 2052,1103.6 2052.2,1116 2052.5,1109.8 2052.7,1103.6 2053,1116 2053.2,1097.3 2053.5,1084.9 2053.7,1078.6 2053.9,1097.3 2054.2,1116 2054.4,1103.6 2054.7,1072.4 2054.9,1109.8 2055.1,1109.8 2055.4,1066.2 2055.6,1097.3 2055.9,1103.6 2056.1,1116 2056.3,1103.6 2056.6,1103.6 2056.8,1116 2057.1,1109.8 2057.3,1091.1 2057.6,1072.4 2057.8,1109.8 2058,1084.9 2058.3,1116 2058.5,1091.1 2058.8,1109.8 2059,1091.1 2059.2,1091.1 2059.5,1084.9 2059.7,1072.4 2060,1109.8 2060.2,1103.6 2060.5,1091.1 2060.7,1109.8 2060.9,1091.1 2061.2,1078.6 2061.4,1109.8 2061.7,1097.3 2061.9,1091.1 2062.1,1116 2062.4,1091.1 2062.6,1097.3 2062.9,1091.1 2063.1,1091.1 2063.3,1097.3 2063.6,1072.4 2063.8,1109.8 2064.1,1122.2 2064.3,1097.3 2064.6,1109.8 2064.8,1066.2 2065,1103.6 2065.3,1097.3 2065.5,1116 2065.8,1103.6 2066,1116 2066.2,1116 2066.5,1059.9 2066.7,1116 2067,1084.9 2067.2,1084.9 2067.5,1091.1 2067.7,1103.6 2067.9,1109.8 2068.2,1109.8 2068.4,1091.1 2068.7,1084.9 2068.9,1097.3 2069.1,1097.3 2069.4,1109.8 2069.6,1097.3 2069.9,1097.3 2070.1,1097.3 2070.3,1091.1 2070.6,1097.3 2070.8,1103.6 2071.1,1103.6 2071.3,1109.8 2071.6,1097.3 2071.8,1103.6 2072,1097.3 2072.3,1116 2072.5,1116 2072.8,1109.8 2073,1103.6 2073.2,1109.8 2073.5,1091.1 2073.7,1109.8 2074,1103.6 2074.2,1103.6 2074.5,1097.3 2074.7,1103.6 2074.9,1097.3 2075.2,1103.6 2075.4,1109.8 2075.7,1103.6 2075.9,1097.3 2076.1,1072.4 2076.4,1097.3 2076.6,1109.8 2076.9,1072.4 2077.1,1109.8 2077.3,1084.9 2077.6,1091.1 2077.8,1097.3 2078.1,1103.6 2078.3,1109.8 2078.6,1103.6 2078.8,1097.3 2079,1084.9 2079.3,1091.1 2079.5,1103.6 2079.8,1103.6 2080,1109.8 2080.2,1084.9 2080.5,1097.3 2080.7,1116 2081,1097.3 2081.2,1097.3 2081.5,1097.3 2081.7,1097.3 2081.9,1109.8 2082.2,1109.8 2082.4,1091.1 2082.7,1103.6 2082.9,1066.2 2083.1,1097.3 2083.4,1097.3 2083.6,1091.1 2083.9,1097.3 2084.1,1103.6 2084.3,1103.6 2084.6,1122.2 2084.8,1097.3 2085.1,1103.6 2085.3,1122.2 2085.6,1072.4 2085.8,1097.3 2086,1103.6 2086.3,1109.8 2086.5,1097.3 2086.8,1078.6 2087,1103.6 2087.2,1097.3 2087.5,1109.8 2087.7,1109.8 2088,1091.1 2088.2,1097.3 2088.5,1122.2 2088.7,1097.3 2088.9,1091.1 2089.2,1103.6 2089.4,1091.1 2089.7,1103.6 2089.9,1084.9 2090.1,1091.1 2090.4,1103.6 2090.6,1097.3 2090.9,1091.1 2091.1,1091.1 2091.3,1103.6 2091.6,1109.8 2091.8,1109.8 2092.1,1103.6 2092.3,1091.1 2092.6,1109.8 2092.8,1103.6 2093,1109.8 2093.3,1122.2 2093.5,1103.6 2093.8,1103.6 2094,1084.9 2094.2,1091.1 2094.5,1084.9 2094.7,1072.4 2095,1097.3 2095.2,1097.3 2095.4,1084.9 2095.7,1097.3 2095.9,1116 2096.2,1109.8 2096.4,1103.6 2096.7,1103.6 2096.9,1103.6 2097.1,1091.1 2097.4,1084.9 2097.6,1103.6 2097.9,1109.8 2098.1,1084.9 2098.3,1084.9 2098.6,1097.3 2098.8,1109.8 2099.1,1091.1 2099.3,1097.3 2099.6,1066.2 2099.8,1072.4 2100,1103.6 2100.3,1066.2 2100.5,1078.6 2100.8,1084.9 2101,1097.3 2101.2,1109.8 2101.5,1091.1 2101.7,1103.6 2102,1097.3 2102.2,1084.9 2102.4,1084.9 2102.7,1066.2 2102.9,1072.4 2103.2,1084.9 2103.4,1084.9 2103.7,1109.8 2103.9,1078.6 2104.1,1066.2 2104.4,1103.6 2104.6,1053.7 2104.9,1066.2 2105.1,1091.1 2105.3,1091.1 2105.6,1084.9 2105.8,1078.6 2106.1,1078.6 2106.3,1053.7 2106.6,1078.6 2106.8,1097.3 2107,1084.9 2107.3,1097.3 2107.5,1072.4 2107.8,1097.3 2108,1084.9 2108.2,1091.1 2108.5,1059.9 2108.7,1097.3 2109,1084.9 2109.2,1091.1 2109.4,1097.3 2109.7,1066.2 2109.9,1072.4 2110.2,1047.5 2110.4,1059.9 2110.7,1084.9 2110.9,1078.6 2111.1,1072.4 2111.4,1078.6 2111.6,1066.2 2111.9,1059.9 2112.1,1072.4 2112.3,1078.6 2112.6,1078.6 2112.8,1078.6 2113.1,1078.6 2113.3,1047.5 2113.6,1053.7 2113.8,1059.9 2114,1084.9 2114.3,1047.5 2114.5,1078.6 2114.8,1035 2115,1035 2115.2,1078.6 2115.5,1091.1 2115.7,1035 2116,1047.5 2116.2,1059.9 2116.4,1041.2 2116.7,1041.2 2116.9,1047.5 2117.2,1072.4 2117.4,1059.9 2117.7,1078.6 2117.9,1022.6 2118.1,1053.7 2118.4,1059.9 2118.6,1035 2118.9,1053.7 2119.1,1066.2 2119.3,1053.7 2119.6,1041.2 2119.8,1053.7 2120.1,1047.5 2120.3,1066.2 2120.6,1047.5 2120.8,1028.8 2121,1066.2 2121.3,1078.6 2121.5,1022.6 2121.8,1022.6 2122,1072.4 2122.2,1053.7 2122.5,1066.2 2122.7,1053.7 2123,1078.6 2123.2,1041.2 2123.4,1066.2 2123.7,1066.2 2123.9,1053.7 2124.2,1035 2124.4,1072.4 2124.7,1072.4 2124.9,1084.9 2125.1,1059.9 2125.4,1091.1 2125.6,1072.4 2125.9,1047.5 2126.1,1041.2 2126.3,1059.9 2126.6,1116 2126.8,1047.5 2127.1,1066.2 2127.3,1059.9 2127.6,1053.7 2127.8,1053.7 2128,1084.9 2128.3,1084.9 2128.5,1053.7 2128.8,1066.2 2129,1053.7 2129.2,1066.2 2129.5,1066.2 2129.7,1109.8 2130,1097.3 2130.2,1091.1 2130.4,1041.2 2130.7,1047.5 2130.9,1053.7 2131.2,1078.6 2131.4,1053.7 2131.7,1072.4 2131.9,1041.2 2132.1,1066.2 2132.4,1091.1 2132.6,1047.5 2132.9,1097.3 2133.1,1078.6 2133.3,1097.3 2133.6,1066.2 2133.8,1066.2 2134.1,1103.6 2134.3,1059.9 2134.6,1072.4 2134.8,1103.6 2135,1091.1 2135.3,1072.4 2135.5,1091.1 2135.8,1078.6 2136,1059.9 2136.2,1078.6 2136.5,1072.4 2136.7,1097.3 2137,1084.9 2137.2,1091.1 2137.4,1091.1 2137.7,1078.6 2137.9,1097.3 2138.2,1084.9 2138.4,1053.7 2138.7,1066.2 2138.9,1103.6 2139.1,1097.3 2139.4,1066.2 2139.6,1091.1 2139.9,1072.4 2140.1,1084.9 2140.3,1059.9 2140.6,1078.6 2140.8,1097.3 2141.1,1109.8 2141.3,1078.6 2141.6,1078.6 2141.8,1072.4 2142,1078.6 2142.3,1078.6 2142.5,1103.6 2142.8,1084.9 2143,1066.2 2143.2,1109.8 2143.5,1109.8 2143.7,1072.4 2144,1097.3 2144.2,1084.9 2144.4,1103.6 2144.7,1097.3 2144.9,1097.3 2145.2,1084.9 2145.4,1066.2 2145.7,1097.3 2145.9,1097.3 2146.1,1109.8 2146.4,1097.3 2146.6,1109.8 2146.9,1097.3 2147.1,1097.3 2147.3,1084.9 2147.6,1097.3 2147.8,1109.8 2148.1,1103.6 2148.3,1116 2148.6,1091.1 2148.8,1103.6 2149,1084.9 2149.3,1084.9 2149.5,1103.6 2149.8,1116 2150,1084.9 2150.2,1097.3 2150.5,1116 2150.7,1084.9 2151,1103.6 2151.2,1084.9 2151.4,1097.3 2151.7,1103.6 2151.9,1084.9 2152.2,1116 2152.4,1109.8 2152.7,1084.9 2152.9,1084.9 2153.1,1084.9 2153.4,1116 2153.6,1091.1 2153.9,1116 2154.1,1103.6 2154.3,1109.8 2154.6,1103.6 2154.8,1078.6 2155.1,1109.8 2155.3,1116 2155.6,1091.1 2155.8,1097.3 2156,1116 2156.3,1103.6 2156.5,1097.3 2156.8,1091.1 2157,1097.3 2157.2,1122.2 2157.5,1072.4 2157.7,1109.8 2158,1059.9 2158.2,1116 2158.4,1084.9 2158.7,1097.3 2158.9,1091.1 2159.2,1084.9 2159.4,1109.8 2159.7,1116 2159.9,1109.8 2160.1,1109.8 2160.4,1116 2160.6,1103.6 2160.9,1109.8 2161.1,1103.6 2161.3,1091.1 2161.6,1116 2161.8,1103.6 2162.1,1116 2162.3,1109.8 2162.6,1103.6 2162.8,1097.3 2163,1103.6 2163.3,1097.3 2163.5,1109.8 2163.8,1116 2164,1109.8 2164.2,1091.1 2164.5,1116 2164.7,1103.6 2165,1109.8 2165.2,1103.6 2165.4,1097.3 2165.7,1116 2165.9,1109.8 2166.2,1116 2166.4,1103.6 2166.7,1109.8 2166.9,1097.3 2167.1,1109.8 2167.4,1091.1 2167.6,1103.6 2167.9,1097.3 2168.1,1122.2 2168.3,1097.3 2168.6,1097.3 2168.8,1103.6 2169.1,1109.8 2169.3,1091.1 2169.6,1116 2169.8,1116 2170,1116 2170.3,1122.2 2170.5,1109.8 2170.8,1116 2171,1091.1 2171.2,1109.8 2171.5,1103.6 2171.7,1109.8 2172,1103.6 2172.2,1091.1 2172.4,1103.6 2172.7,1103.6 2172.9,1116 2173.2,1097.3 2173.4,1103.6 2173.7,1103.6 2173.9,1091.1 2174.1,1103.6 2174.4,1122.2 2174.6,1109.8 2174.9,1122.2 2175.1,1109.8 2175.3,1091.1 2175.6,1084.9 2175.8,1097.3 2176.1,1116 2176.3,1103.6 2176.6,1103.6 2176.8,1091.1 2177,1122.2 2177.3,1078.6 2177.5,1116 2177.8,1109.8 2178,1116 2178.2,1109.8 2178.5,1109.8 2178.7,1097.3 2179,1116 2179.2,1109.8 2179.4,1103.6 2179.7,1116 2179.9,1103.6 2180.2,1103.6 2180.4,1116 2180.7,1116 2180.9,1103.6 2181.1,1109.8 2181.4,1116 2181.6,1116 2181.9,1116 2182.1,1122.2 2182.3,1116 2182.6,1116 2182.8,1109.8 2183.1,1122.2 2183.3,1103.6 2183.6,1103.6 2183.8,1109.8 2184,1103.6 2184.3,1109.8 2184.5,1097.3 2184.8,1078.6 2185,1116 2185.2,1109.8 2185.5,1103.6 2185.7,1091.1 2186,1103.6 2186.2,1103.6 2186.4,1116 2186.7,1103.6 2186.9,1103.6 2187.2,1097.3 2187.4,1103.6 2187.7,1116 2187.9,1103.6 2188.1,1091.1 2188.4,1103.6 2188.6,1097.3 2188.9,1097.3 2189.1,1116 2189.3,1122.2 2189.6,1097.3 2189.8,1097.3 2190.1,1091.1 2190.3,1116 2190.6,1109.8 2190.8,1116 2191,1109.8 2191.3,1116 2191.5,1116 2191.8,1103.6 2192,1103.6 2192.2,1103.6 2192.5,1103.6 2192.7,1109.8 2193,1116 2193.2,1103.6 2193.4,1116 2193.7,1116 2193.9,1103.6 2194.2,1122.2 2194.4,1103.6 2194.7,1116 2194.9,1109.8 2195.1,1097.3 2195.4,1109.8 2195.6,1103.6 2195.9,1116 2196.1,1103.6 2196.3,1103.6 2196.6,1103.6 2196.8,1091.1 2197.1,1109.8 2197.3,1116 2197.6,1097.3 2197.8,1116 2198,1109.8 2198.3,1097.3 2198.5,1103.6 2198.8,1116 2199,1116 2199.2,1097.3 2199.5,1097.3 2199.7,1116 2200,1122.2 2200.2,1109.8 2200.4,1109.8 2200.7,1103.6 2200.9,1097.3 2201.2,1116 2201.4,1116 2201.7,1109.8 2201.9,1103.6 2202.1,1116 2202.4,1091.1 2202.6,1109.8 2202.9,1109.8 2203.1,1103.6 2203.3,1116 2203.6,1109.8 2203.8,1116 2204.1,1109.8 2204.3,1097.3 2204.6,1097.3 2204.8,1116 2205,1116 2205.3,1103.6 2205.5,1103.6 2205.8,1103.6 2206,1097.3 2206.2,1122.2 2206.5,1116 2206.7,1116 2207,1097.3 2207.2,1097.3 2207.4,1122.2 2207.7,1109.8 2207.9,1103.6 2208.2,1097.3 2208.4,1122.2 2208.7,1078.6 2208.9,1109.8 2209.1,1109.8 2209.4,1122.2 2209.6,1109.8 2209.9,1097.3 2210.1,1116 2210.3,1097.3 2210.6,1103.6 2210.8,1091.1 2211.1,1109.8 2211.3,1091.1 2211.6,1116 2211.8,1109.8 2212,1116 2212.3,1097.3 2212.5,1109.8 2212.8,1103.6 2213,1122.2 2213.2,1097.3 2213.5,1097.3 2213.7,1091.1 2214,1116 2214.2,1116 2214.4,1116 2214.7,1122.2 2214.9,1116 2215.2,1116 2215.4,1097.3 2215.7,1091.1 2215.9,1116 2216.1,1109.8 2216.4,1109.8 2216.6,1103.6 2216.9,1122.2 2217.1,1109.8 2217.3,1109.8 2217.6,1109.8 2217.8,1109.8 2218.1,1103.6 2218.3,1122.2 2218.6,1103.6 2218.8,1109.8 2219,1116 2219.3,1116 2219.5,1116 2219.8,1097.3 2220,1109.8 2220.2,1122.2 2220.5,1084.9 2220.7,1116 2221,1109.8 2221.2,1103.6 2221.4,1109.8 2221.7,1103.6 2221.9,1116 2222.2,1109.8 2222.4,1122.2 2222.7,1103.6 2222.9,1103.6 2223.1,1109.8 2223.4,1097.3 2223.6,1116 2223.9,1116 2224.1,1109.8 2224.3,1097.3 2224.6,1091.1 2224.8,1103.6 2225.1,1109.8 2225.3,1103.6 2225.6,1116 2225.8,1116 2226,1116 2226.3,1122.2 2226.5,1109.8 2226.8,1116 2227,1122.2 2227.2,1097.3 2227.5,1097.3 2227.7,1116 2228,1109.8 2228.2,1103.6 2228.4,1109.8 2228.7,1122.2 2228.9,1097.3 2229.2,1078.6 2229.4,1122.2 2229.7,1103.6 2229.9,1116 2230.1,1103.6 2230.4,1109.8 2230.6,1103.6 2230.9,1109.8 2231.1,1109.8 2231.3,1103.6 2231.6,1103.6 2231.8,1103.6 2232.1,1103.6 2232.3,1103.6 2232.6,1097.3 2232.8,1091.1 2233,1122.2 2233.3,1078.6 2233.5,1109.8 2233.8,1084.9 2234,1116 2234.2,1103.6 2234.5,1116 2234.7,1103.6 2235,1103.6 2235.2,1122.2 2235.4,1116 2235.7,1097.3 2235.9,1116 2236.2,1103.6 2236.4,1109.8 2236.7,1103.6 2236.9,1103.6 2237.1,1109.8 2237.4,1116 2237.6,1103.6 2237.9,1084.9 2238.1,1116 2238.3,1103.6 2238.6,1109.8 2238.8,1116 2239.1,1109.8 2239.3,1103.6 2239.6,1097.3 2239.8,1109.8 2240,1109.8 2240.3,1116 2240.5,1103.6 2240.8,1103.6 2241,1116 2241.2,1097.3 2241.5,1116 2241.7,1109.8 2242,1078.6 2242.2,1109.8 2242.4,1116 2242.7,1103.6 2242.9,1103.6 2243.2,1097.3 2243.4,1116 2243.7,1122.2 2243.9,1097.3 2244.1,1116 2244.4,1109.8 2244.6,1116 2244.9,1122.2 2245.1,1103.6 2245.3,1116 2245.6,1097.3 2245.8,1097.3 2246.1,1109.8 2246.3,1097.3 2246.6,1091.1 2246.8,1091.1 2247,1103.6 2247.3,1097.3 2247.5,1103.6 2247.8,1103.6 2248,1103.6 2248.2,1103.6 2248.5,1109.8 2248.7,1103.6 2249,1103.6 2249.2,1103.6 2249.4,1116 2249.7,1109.8 2249.9,1116 2250.2,1109.8 2250.4,1116 2250.7,1116 2250.9,1097.3 2251.1,1103.6 2251.4,1103.6 2251.6,1109.8 2251.9,1116 2252.1,1091.1 2252.3,1109.8 2252.6,1091.1 2252.8,1109.8 2253.1,1091.1 2253.3,1109.8 2253.6,1097.3 2253.8,1091.1 2254,1109.8 2254.3,1116 2254.5,1116 2254.8,1122.2 2255,1097.3 2255.2,1109.8 2255.5,1097.3 2255.7,1097.3 2256,1116 2256.2,1097.3 2256.4,1097.3 2256.7,1103.6 2256.9,1116 2257.2,1103.6 2257.4,1116 2257.7,1109.8 2257.9,1116 2258.1,1097.3 2258.4,1116 2258.6,1109.8 2258.9,1091.1 2259.1,1097.3 2259.3,1122.2 2259.6,1116 2259.8,1097.3 2260.1,1109.8 2260.3,1109.8 2260.6,1109.8 2260.8,1109.8 2261,1109.8 2261.3,1122.2 2261.5,1103.6 2261.8,1122.2 2262,1097.3 2262.2,1109.8 2262.5,1103.6 2262.7,1109.8 2263,1109.8 2263.2,1084.9 2263.4,1084.9 2263.7,1109.8 2263.9,1122.2 2264.2,1103.6 2264.4,1084.9 2264.7,1116 2264.9,1109.8 2265.1,1116 2265.4,1109.8 2265.6,1122.2 2265.9,1109.8 2266.1,1116 2266.3,1109.8 2266.6,1116 2266.8,1109.8 2267.1,1103.6 2267.3,1116 2267.6,1103.6 2267.8,1122.2 2268,1116 2268.3,1122.2 2268.5,1122.2 2268.8,1103.6 2269,1103.6 2269.2,1116 2269.5,1103.6 2269.7,1122.2 2270,1109.8 2270.2,1116 2270.4,1109.8 2270.7,1109.8 2270.9,1116 2271.2,1097.3 2271.4,1109.8 2271.7,1109.8 2271.9,1109.8 2272.1,1122.2 2272.4,1109.8 2272.6,1122.2 2272.9,1116 2273.1,1103.6 2273.3,1109.8 2273.6,1097.3 2273.8,1116 2274.1,1116 2274.3,1109.8 2274.6,1103.6 2274.8,1097.3 2275,1103.6 2275.3,1116 2275.5,1103.6 2275.8,1109.8 2276,1109.8 2276.2,1097.3 2276.5,1091.1 2276.7,1097.3 2277,1109.8 2277.2,1103.6 2277.4,1078.6 2277.7,1109.8 2277.9,1116 2278.2,1103.6 2278.4,1109.8 2278.7,1103.6 2278.9,1084.9 2279.1,1109.8 2279.4,1109.8 2279.6,1109.8 2279.9,1109.8 2280.1,1103.6 2280.3,1103.6 2280.6,1103.6 2280.8,1116 2281.1,1116 2281.3,1116 2281.6,1097.3"/>
<polyline stroke="#f04040" stroke-width="5.4" points="890,891.7 890.3,860.5 890.5,785.8 890.7,804.5 891,735.9 891.2,779.5 891.5,767.1 891.7,729.7 892,723.5 892.2,667.4 892.4,717.2 892.7,667.4 892.9,667.4 893.2,573.9 893.4,754.6 893.6,735.9 893.9,636.2 894.1,430.6 894.4,598.8 894.6,561.5 894.9,536.5 895.1,580.2 895.3,555.2 895.6,393.2 895.8,480.5 896.1,405.7 896.3,256.1 896.5,212.5 896.8,268.6 897,262.4 897.3,218.8 897.5,324.7 897.7,212.5 898,212.5 898.2,212.5 898.5,212.5 898.7,212.5 899,212.5 899.2,212.5 899.4,212.5 899.7,212.5 899.9,212.5 900.2,212.5 900.4,212.5 900.6,212.5 900.9,212.5 901.1,212.5 901.4,212.5 901.6,212.5 901.9,212.5 902.1,212.5 902.3,212.5 902.6,212.5 902.8,212.5 903.1,287.3 903.3,312.2 903.5,343.4 903.8,287.3 904,306 904.3,312.2 904.5,411.9 904.7,549 905,387 905.2,387 905.5,461.8 905.7,387 906,542.8 906.2,524.1 906.4,573.9 906.7,580.2 906.9,611.3 907.2,580.2 907.4,592.6 907.6,580.2 907.9,667.4 908.1,673.6 908.4,630 908.6,654.9 908.9,748.4 909.1,773.3 909.3,798.2 909.6,642.5 909.8,717.2 910.1,779.5 910.3,835.6 910.5,810.7"/>
</g>
<g id="labels">
<text font-weight="bold"><tspan x="522.0" y="232.1" font-weight="900" font-size="75.7" textLength="93.8" lengthAdjust="spacingAndGlyphs">（</tspan><tspan x="625.1" y="236.6">002</tspan><tspan x="777.3" y="232.1" font-weight="900" font-size="75.7" textLength="93.8" lengthAdjust="spacingAndGlyphs">）</tspan></text>
<text font-weight="bold"><tspan x="921.6" y="218.2" font-weight="900" font-size="75.7" textLength="93.8" lengthAdjust="spacingAndGlyphs">（</tspan><tspan x="1022.5" y="222.7">111</tspan><tspan x="1175.9" y="218.2" font-weight="900" font-size="75.7" textLength="93.8" lengthAdjust="spacingAndGlyphs">）</tspan></text>
<text font-weight="bold"><tspan x="874.1" y="503.4" font-weight="900" font-size="75.7" textLength="93.8" lengthAdjust="spacingAndGlyphs">（</tspan><tspan x="975.0" y="507.9">101</tspan><tspan x="1128.3" y="503.4" font-weight="900" font-size="75.7" textLength="93.8" lengthAdjust="spacingAndGlyphs">）</tspan></text>
<text font-weight="bold"><tspan x="1004.3" y="600.2" font-weight="900" font-size="75.7" textLength="93.8" lengthAdjust="spacingAndGlyphs">（</tspan><tspan x="1106.8" y="604.7">200</tspan><tspan x="1260.0" y="600.2" font-weight="900" font-size="75.7" textLength="93.8" lengthAdjust="spacingAndGlyphs">）</tspan></text>
<text font-weight="bold"><tspan x="1462.2" y="845.4" font-weight="900" font-size="75.7" textLength="93.8" lengthAdjust="spacingAndGlyphs">（</tspan><tspan x="1565.0" y="849.9">220</tspan><tspan x="1717.9" y="845.4" font-weight="900" font-size="75.7" textLength="93.8" lengthAdjust="spacingAndGlyphs">）</tspan></text>
<text font-weight="bold"><tspan x="1646.3" y="967.1" font-weight="900" font-size="75.7" textLength="93.8" lengthAdjust="spacingAndGlyphs">（</tspan><tspan x="1748.4" y="971.6">103</tspan><tspan x="1902.9" y="967.1" font-weight="900" font-size="75.7" textLength="93.8" lengthAdjust="spacingAndGlyphs">）</tspan></text>
<text font-weight="bold"><tspan x="1831.1" y="780.6" font-weight="900" font-size="75.7" textLength="93.8" lengthAdjust="spacingAndGlyphs">（</tspan><tspan x="1932.6" y="785.1">311</tspan><tspan x="2086.8" y="780.6" font-weight="900" font-size="75.7" textLength="93.8" lengthAdjust="spacingAndGlyphs">）</tspan></text>
<text font-weight="bold"><tspan x="1954.0" y="931.3" font-weight="900" font-size="75.7" textLength="93.8" lengthAdjust="spacingAndGlyphs">（</tspan><tspan x="2055.8" y="935.8">112</tspan><tspan x="2208.6" y="931.3" font-weight="900" font-size="75.7" textLength="93.8" lengthAdjust="spacingAndGlyphs">）</tspan></text>
</g>
<g id="markers">
<path d="M744.4 274.2 L773.8 244.8 L803.2 274.2 L773.8 303.6Z" fill="none" stroke="#ff00ff" stroke-width="3.0" stroke-linejoin="miter"/>
<path d="M950.4 872.6 L979.8 843.2 L1009.2 872.6 L979.8 902.0Z" fill="none" stroke="#ff00ff" stroke-width="3.0" stroke-linejoin="miter"/>
<path d="M1798.0 1009.7 L1827.4 980.3 L1856.8 1009.7 L1827.4 1039.1Z" fill="none" stroke="#ff00ff" stroke-width="3.0" stroke-linejoin="miter"/>
<path d="M2108.2 985.4 L2137.6 956.0 L2167.0 985.4 L2137.6 1014.8Z" fill="none" stroke="#ff38b0" stroke-width="3.0" stroke-linejoin="miter"/>
<circle cx="1014.8" cy="263.9" r="30.2" fill="#00ffff"/>
<circle cx="1091.0" cy="631.8" r="30.2" fill="#00ffff"/>
<circle cx="1649.7" cy="895.2" r="30.2" fill="#00ffff"/>
<circle cx="2005.4" cy="838.3" r="30.2" fill="#00ffff"/>
<line x1="787.2" y1="301.6" x2="842.2" y2="321.8" stroke="#ff00ff" stroke-width="7.0"/><path d="M878.8 335.2 L835.8 333.3 L844.8 308.9Z" fill="#ff00ff"/>
<line x1="965.4" y1="321.1" x2="947.4" y2="341.4" stroke="#00ffff" stroke-width="2.0"/><path d="M923.6 368.4 L941.3 333.3 L956.3 346.5Z" fill="#00ffff"/>
<line x1="965.8" y1="549.8" x2="965.8" y2="753.5" stroke="#ff78c0" stroke-width="6.2"/><path d="M965.8 796.5 L952.8 751.5 L978.8 751.5Z" fill="#ff78c0"/>
</g>
<g id="legend">
<line x1="1304.1" x2="1522.4" y1="108.3" y2="108.3" stroke="#505050" stroke-width="6"/>
<line x1="1304.1" x2="1524" y1="227.2" y2="227.2" stroke="#f04040" stroke-width="4"/>
<text x="1545" y="140.2">as-cast</text>
<text x="1546" y="258.8" font-weight="bold">as-hot-pressed</text>
<circle cx="1334.4" cy="353.4" r="20.5" fill="#00ffff"/>
<text x="1361.5" y="380.2" font-weight="bold"><tspan stroke="#000" stroke-width="0.9">——</tspan>α-Co</text>
<path d="M1316.8 473.2 L1340.8 449.2 L1364.8 473.2 L1340.8 497.2Z" fill="none" stroke="#ff00ff" stroke-width="6.5" stroke-linejoin="miter"/>
<text x="1372.5" y="500" font-weight="bold"><tspan stroke="#000" stroke-width="0.9">——</tspan>ε-Co</text>
</g>
</svg></body></html>
